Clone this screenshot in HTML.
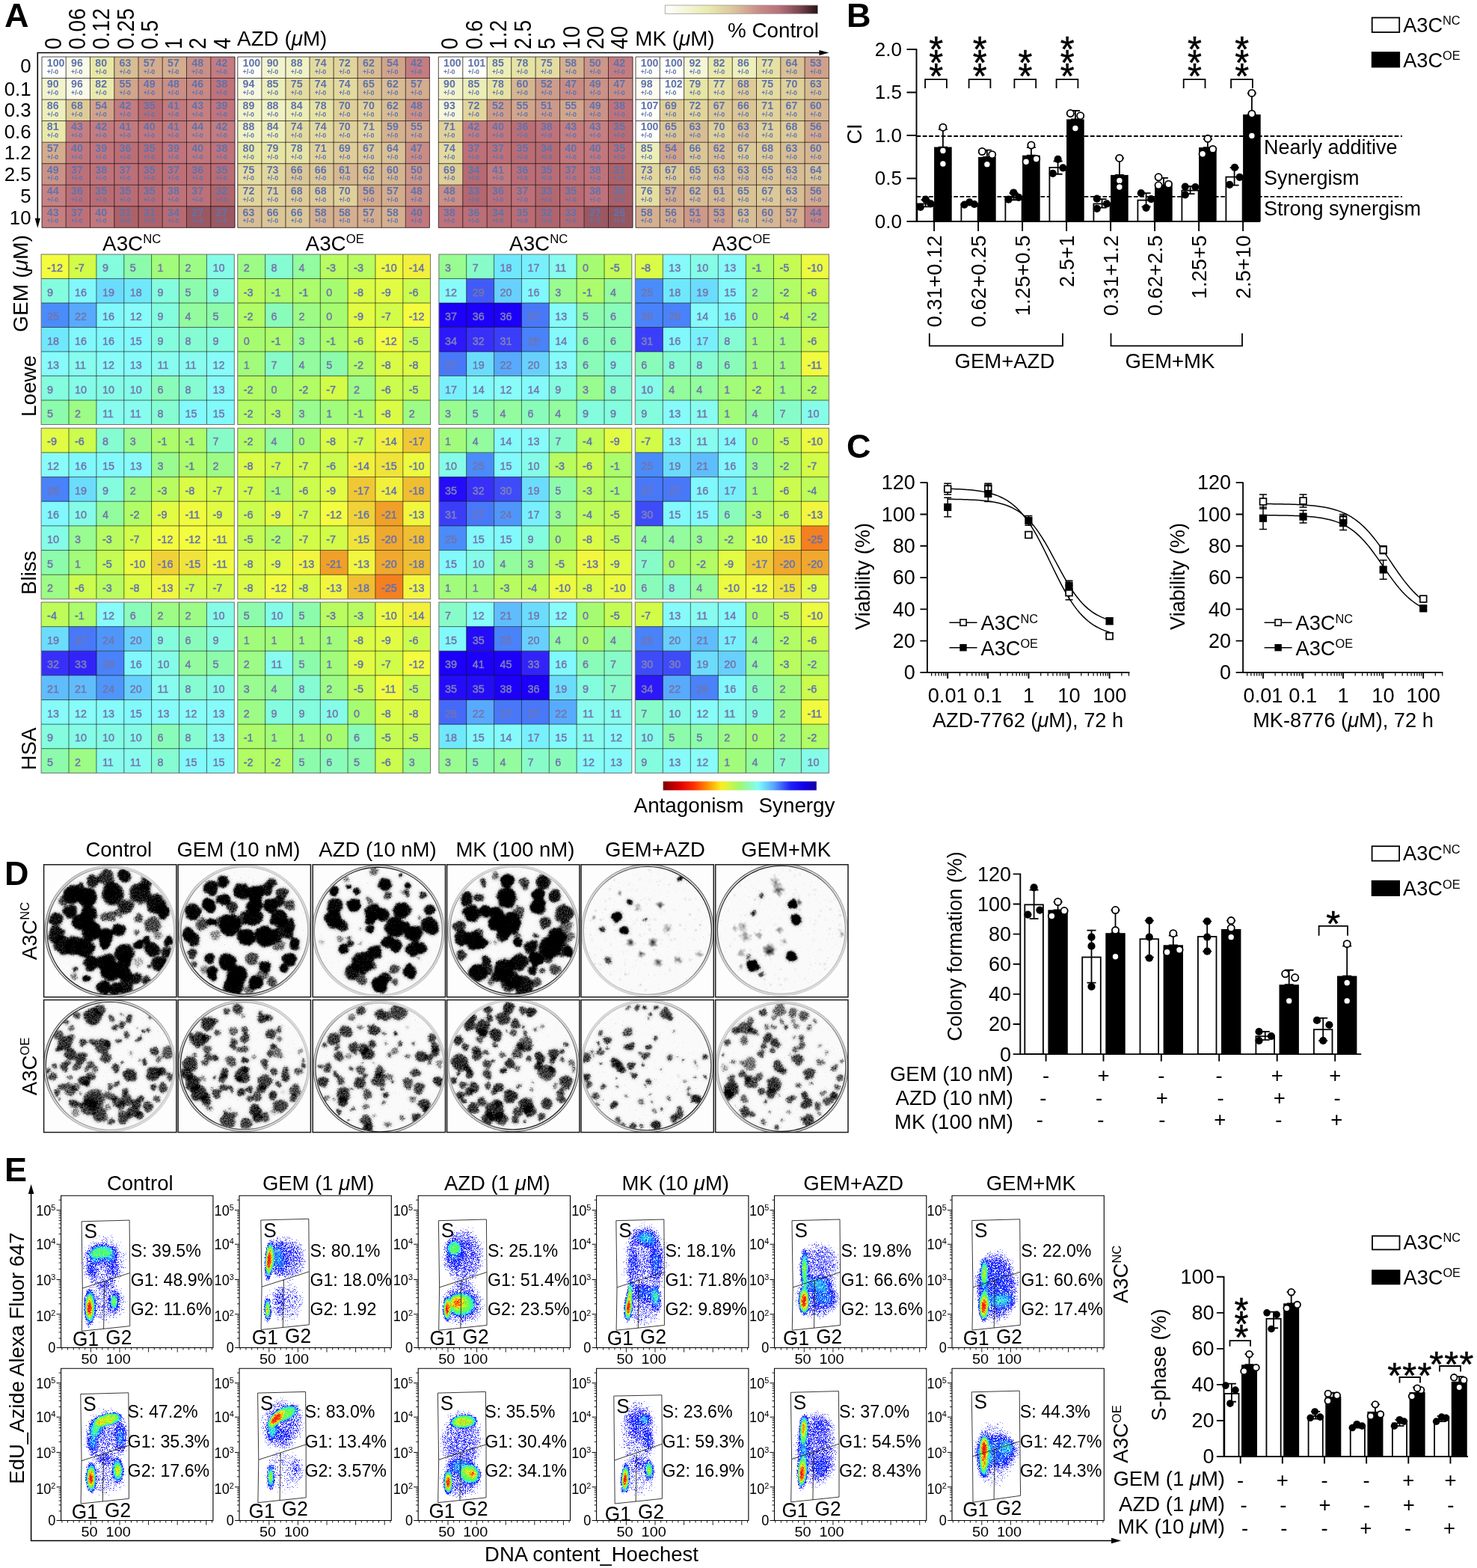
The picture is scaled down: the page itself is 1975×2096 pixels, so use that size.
<!DOCTYPE html>
<html lang="en"><head><meta charset="utf-8"><title>Figure</title>
<style>html,body{margin:0;padding:0;background:#fff}svg{display:block}text{font-family:"Liberation Sans", Arial, sans-serif}</style></head>
<body><svg width="1975" height="2096" viewBox="0 0 1975 2096" fill="#000">
<rect width="1975" height="2096" fill="#fff"/>
<g id="panelA">
<text x="6" y="36.2" font-size="45" font-weight="bold">A</text>
<defs><linearGradient id="cbA" x1="0" x2="1" y1="0" y2="0"><stop offset="0" stop-color="#ffffff"/><stop offset="0.12" stop-color="#f6f7dc"/><stop offset="0.28" stop-color="#e9ebb0"/><stop offset="0.45" stop-color="#dcc49a"/><stop offset="0.62" stop-color="#c88a86"/><stop offset="0.75" stop-color="#b8707a"/><stop offset="0.88" stop-color="#7a4650"/><stop offset="1" stop-color="#2a1218"/></linearGradient><linearGradient id="cbS" x1="0" x2="1" y1="0" y2="0"><stop offset="0" stop-color="#800000"/><stop offset="0.11" stop-color="#e00000"/><stop offset="0.2" stop-color="#ff3000"/><stop offset="0.3" stop-color="#ff9c00"/><stop offset="0.38" stop-color="#f8f020"/><stop offset="0.5" stop-color="#a0f870"/><stop offset="0.62" stop-color="#80fcf8"/><stop offset="0.72" stop-color="#58a8fc"/><stop offset="0.83" stop-color="#2020f8"/><stop offset="0.92" stop-color="#1000e8"/><stop offset="1" stop-color="#1800a0"/></linearGradient></defs>
<rect x="889.3" y="7" width="204.1" height="11.3" fill="url(#cbA)" stroke="#999" stroke-width="0.8"/>
<text x="1095" y="49.7" font-size="27.8" text-anchor="end">% Control</text>
<path d="M50.3 300V70.5H1098" stroke="#000" stroke-width="1.6" fill="none"/>
<path d="M1108.4 70.5l-13 -3.6v7.2z" stroke="none" stroke-width="0" fill="#000"/>
<path d="M50.3 304.8l-3.6 -13h7.2z" stroke="none" stroke-width="0" fill="#000"/>
<text transform="translate(81.83 66) rotate(-90) scale(0.925 1)" font-size="30.5">0</text>
<text transform="translate(114.08 66) rotate(-90) scale(0.925 1)" font-size="30.5">0.06</text>
<text transform="translate(146.32 66) rotate(-90) scale(0.925 1)" font-size="30.5">0.12</text>
<text transform="translate(178.57 66) rotate(-90) scale(0.925 1)" font-size="30.5">0.25</text>
<text transform="translate(210.82 66) rotate(-90) scale(0.925 1)" font-size="30.5">0.5</text>
<text transform="translate(243.07 66) rotate(-90) scale(0.925 1)" font-size="30.5">1</text>
<text transform="translate(275.32 66) rotate(-90) scale(0.925 1)" font-size="30.5">2</text>
<text transform="translate(307.57 66) rotate(-90) scale(0.925 1)" font-size="30.5">4</text>
<text transform="translate(612.23 66) rotate(-90) scale(0.925 1)" font-size="30.5">0</text>
<text transform="translate(644.69 66) rotate(-90) scale(0.925 1)" font-size="30.5">0.6</text>
<text transform="translate(677.16 66) rotate(-90) scale(0.925 1)" font-size="30.5">1.2</text>
<text transform="translate(709.62 66) rotate(-90) scale(0.925 1)" font-size="30.5">2.5</text>
<text transform="translate(742.08 66) rotate(-90) scale(0.925 1)" font-size="30.5">5</text>
<text transform="translate(774.54 66) rotate(-90) scale(0.925 1)" font-size="30.5">10</text>
<text transform="translate(807.01 66) rotate(-90) scale(0.925 1)" font-size="30.5">20</text>
<text transform="translate(839.47 66) rotate(-90) scale(0.925 1)" font-size="30.5">40</text>
<text x="317.1" y="60.9" font-size="27.8">AZD (<tspan font-style="italic">μ</tspan>M)</text>
<text x="849.3" y="60.9" font-size="27.8">MK (<tspan font-style="italic">μ</tspan>M)</text>
<text x="41.5" y="97.1" font-size="25.8" text-anchor="end">0</text>
<text x="41.5" y="127.5" font-size="25.8" text-anchor="end">0.1</text>
<text x="41.5" y="156.4" font-size="25.8" text-anchor="end">0.3</text>
<text x="41.5" y="185.2" font-size="25.8" text-anchor="end">0.6</text>
<text x="41.5" y="213.4" font-size="25.8" text-anchor="end">1.2</text>
<text x="41.5" y="242.2" font-size="25.8" text-anchor="end">2.5</text>
<text x="41.5" y="271" font-size="25.8" text-anchor="end">5</text>
<text x="41.5" y="299.9" font-size="25.8" text-anchor="end">10</text>
<path fill="#fffffa" d="M56 76h32.5v28.8h-32.5zM317.8 76h32.4v28.8h-32.4zM586.3 76h32.8v28.8h-32.8zM618.8 76h32.8v28.8h-32.8zM850 76h32.6v28.8h-32.6zM882.3 76h32.6v28.8h-32.6zM882.3 104.5h32.6v28.8h-32.6zM850 133.1h32.6v28.8h-32.6zM850 161.6h32.6v28.8h-32.6z"/>
<path fill="#fafae8" d="M88.2 76h32.5v28.8h-32.5zM88.2 104.5h32.5v28.8h-32.5z"/>
<path fill="#e8e8a6" d="M120.5 76h32.5v28.8h-32.5zM317.8 190.2h32.4v28.8h-32.4z"/>
<path fill="#d8be94" d="M152.8 76h32.5v28.8h-32.5zM317.8 275.8h32.4v28.8h-32.4zM1076.1 104.5h32.6v28.8h-32.6zM914.6 161.6h32.6v28.8h-32.6zM979.2 161.6h32.6v28.8h-32.6zM1043.8 190.2h32.6v28.8h-32.6zM946.9 218.7h32.6v28.8h-32.6zM979.2 218.7h32.6v28.8h-32.6zM1043.8 218.7h32.6v28.8h-32.6zM1043.8 247.2h32.6v28.8h-32.6zM979.2 275.8h32.6v28.8h-32.6z"/>
<path fill="#d4ac8e" d="M185 76h32.5v28.8h-32.5zM217.2 76h32.5v28.8h-32.5zM56 190.2h32.5v28.8h-32.5zM542.3 104.5h32.4v28.8h-32.4zM510.2 247.2h32.4v28.8h-32.4zM478.2 275.8h32.4v28.8h-32.4zM882.3 247.2h32.6v28.8h-32.6zM1043.8 275.8h32.6v28.8h-32.6z"/>
<path fill="#ca8f86" d="M249.5 76h32.5v28.8h-32.5zM217.2 104.5h32.5v28.8h-32.5zM542.3 133.1h32.4v28.8h-32.4zM542.3 247.2h32.4v28.8h-32.4zM586.3 247.2h32.8v28.8h-32.8z"/>
<path fill="#c47c80" d="M281.8 76h32.5v28.8h-32.5zM152.8 133.1h32.5v28.8h-32.5zM120.5 161.6h32.5v28.8h-32.5zM281.8 161.6h32.5v28.8h-32.5zM542.3 76h32.4v28.8h-32.4zM813.5 76h32.8v28.8h-32.8zM618.8 161.6h32.8v28.8h-32.8z"/>
<path fill="#f2f4ce" d="M56 104.5h32.5v28.8h-32.5zM349.9 76h32.4v28.8h-32.4zM586.3 104.5h32.8v28.8h-32.8z"/>
<path fill="#eaeaad" d="M120.5 104.5h32.5v28.8h-32.5zM946.9 76h32.6v28.8h-32.6z"/>
<path fill="#d2a68c" d="M152.8 104.5h32.5v28.8h-32.5zM542.3 161.6h32.4v28.8h-32.4zM683.7 133.1h32.8v28.8h-32.8zM748.6 133.1h32.8v28.8h-32.8z"/>
<path fill="#cb9287" d="M185 104.5h32.5v28.8h-32.5zM56 218.7h32.5v28.8h-32.5zM781.1 104.5h32.8v28.8h-32.8zM781.1 133.1h32.8v28.8h-32.8z"/>
<path fill="#c88884" d="M249.5 104.5h32.5v28.8h-32.5z"/>
<path fill="#c0727a" d="M281.8 104.5h32.5v28.8h-32.5zM281.8 190.2h32.5v28.8h-32.5zM120.5 218.7h32.5v28.8h-32.5zM217.2 247.2h32.5v28.8h-32.5zM813.5 133.1h32.8v28.8h-32.8zM716.1 161.6h32.8v28.8h-32.8zM781.1 218.7h32.8v28.8h-32.8zM781.1 247.2h32.8v28.8h-32.8zM586.3 275.8h32.8v28.8h-32.8z"/>
<path fill="#edefbc" d="M56 133.1h32.5v28.8h-32.5zM979.2 76h32.6v28.8h-32.6z"/>
<path fill="#decb98" d="M88.2 133.1h32.5v28.8h-32.5zM381.9 247.2h32.4v28.8h-32.4zM414 247.2h32.4v28.8h-32.4zM979.2 104.5h32.6v28.8h-32.6zM1043.8 161.6h32.6v28.8h-32.6zM1011.5 190.2h32.6v28.8h-32.6z"/>
<path fill="#d1a38b" d="M120.5 133.1h32.5v28.8h-32.5zM510.2 76h32.4v28.8h-32.4zM882.3 190.2h32.6v28.8h-32.6z"/>
<path fill="#ba6c74" d="M185 133.1h32.5v28.8h-32.5zM185 190.2h32.5v28.8h-32.5zM185 218.7h32.5v28.8h-32.5zM281.8 218.7h32.5v28.8h-32.5zM120.5 247.2h32.5v28.8h-32.5zM152.8 247.2h32.5v28.8h-32.5zM185 247.2h32.5v28.8h-32.5zM813.5 161.6h32.8v28.8h-32.8zM683.7 190.2h32.8v28.8h-32.8zM813.5 190.2h32.8v28.8h-32.8zM716.1 218.7h32.8v28.8h-32.8zM748.6 247.2h32.8v28.8h-32.8zM683.7 275.8h32.8v28.8h-32.8z"/>
<path fill="#c37a7e" d="M217.2 133.1h32.5v28.8h-32.5zM152.8 161.6h32.5v28.8h-32.5zM217.2 161.6h32.5v28.8h-32.5zM651.2 218.7h32.8v28.8h-32.8z"/>
<path fill="#c57f81" d="M249.5 133.1h32.5v28.8h-32.5zM88.2 161.6h32.5v28.8h-32.5zM56 275.8h32.5v28.8h-32.5zM748.6 161.6h32.8v28.8h-32.8zM781.1 161.6h32.8v28.8h-32.8z"/>
<path fill="#c1747c" d="M281.8 133.1h32.5v28.8h-32.5zM120.5 190.2h32.5v28.8h-32.5zM217.2 190.2h32.5v28.8h-32.5z"/>
<path fill="#e9e9aa" d="M56 161.6h32.5v28.8h-32.5z"/>
<path fill="#c2777d" d="M185 161.6h32.5v28.8h-32.5zM88.2 190.2h32.5v28.8h-32.5zM249.5 190.2h32.5v28.8h-32.5zM120.5 275.8h32.5v28.8h-32.5zM542.3 275.8h32.4v28.8h-32.4zM651.2 161.6h32.8v28.8h-32.8zM748.6 190.2h32.8v28.8h-32.8zM781.1 190.2h32.8v28.8h-32.8z"/>
<path fill="#c68282" d="M249.5 161.6h32.5v28.8h-32.5zM56 247.2h32.5v28.8h-32.5zM1076.1 275.8h32.6v28.8h-32.6z"/>
<path fill="#bc6e76" d="M152.8 190.2h32.5v28.8h-32.5zM249.5 218.7h32.5v28.8h-32.5zM88.2 247.2h32.5v28.8h-32.5zM683.7 161.6h32.8v28.8h-32.8zM683.7 218.7h32.8v28.8h-32.8zM651.2 247.2h32.8v28.8h-32.8zM618.8 275.8h32.8v28.8h-32.8z"/>
<path fill="#be7078" d="M88.2 218.7h32.5v28.8h-32.5zM152.8 218.7h32.5v28.8h-32.5zM217.2 218.7h32.5v28.8h-32.5zM249.5 247.2h32.5v28.8h-32.5zM88.2 275.8h32.5v28.8h-32.5zM618.8 190.2h32.8v28.8h-32.8zM651.2 190.2h32.8v28.8h-32.8zM748.6 218.7h32.8v28.8h-32.8zM683.7 247.2h32.8v28.8h-32.8z"/>
<path fill="#b0656d" d="M281.8 247.2h32.5v28.8h-32.5zM716.1 275.8h32.8v28.8h-32.8z"/>
<path fill="#ad626a" d="M152.8 275.8h32.5v28.8h-32.5zM185 275.8h32.5v28.8h-32.5zM813.5 218.7h32.8v28.8h-32.8z"/>
<path fill="#b76a72" d="M217.2 275.8h32.5v28.8h-32.5zM716.1 190.2h32.8v28.8h-32.8zM618.8 218.7h32.8v28.8h-32.8zM651.2 275.8h32.8v28.8h-32.8z"/>
<path fill="#9b5862" d="M249.5 275.8h32.5v28.8h-32.5zM281.8 275.8h32.5v28.8h-32.5zM781.1 275.8h32.8v28.8h-32.8z"/>
<path fill="#f0f2c5" d="M381.9 76h32.4v28.8h-32.4zM349.9 133.1h32.4v28.8h-32.4zM317.8 161.6h32.4v28.8h-32.4z"/>
<path fill="#e3da9f" d="M414 76h32.4v28.8h-32.4zM414 104.5h32.4v28.8h-32.4zM446.1 104.5h32.4v28.8h-32.4zM381.9 161.6h32.4v28.8h-32.4zM414 161.6h32.4v28.8h-32.4zM586.3 190.2h32.8v28.8h-32.8z"/>
<path fill="#e2d59c" d="M446.1 76h32.4v28.8h-32.4zM317.8 247.2h32.4v28.8h-32.4zM618.8 133.1h32.8v28.8h-32.8zM914.6 133.1h32.6v28.8h-32.6z"/>
<path fill="#d8bc94" d="M478.2 76h32.4v28.8h-32.4zM510.2 104.5h32.4v28.8h-32.4zM510.2 133.1h32.4v28.8h-32.4zM478.2 218.7h32.4v28.8h-32.4zM946.9 190.2h32.6v28.8h-32.6zM914.6 247.2h32.6v28.8h-32.6z"/>
<path fill="#f7f8df" d="M317.8 104.5h32.4v28.8h-32.4z"/>
<path fill="#eceeb8" d="M349.9 104.5h32.4v28.8h-32.4zM651.2 76h32.8v28.8h-32.8zM618.8 104.5h32.8v28.8h-32.8zM850 190.2h32.6v28.8h-32.6z"/>
<path fill="#e4dca0" d="M381.9 104.5h32.4v28.8h-32.4zM317.8 218.7h32.4v28.8h-32.4zM716.1 76h32.8v28.8h-32.8zM1011.5 104.5h32.6v28.8h-32.6z"/>
<path fill="#dac496" d="M478.2 104.5h32.4v28.8h-32.4zM882.3 161.6h32.6v28.8h-32.6zM914.6 218.7h32.6v28.8h-32.6zM1011.5 218.7h32.6v28.8h-32.6zM979.2 247.2h32.6v28.8h-32.6z"/>
<path fill="#f1f3ca" d="M317.8 133.1h32.4v28.8h-32.4z"/>
<path fill="#ebedb4" d="M381.9 133.1h32.4v28.8h-32.4zM349.9 161.6h32.4v28.8h-32.4z"/>
<path fill="#e6e3a4" d="M414 133.1h32.4v28.8h-32.4zM381.9 190.2h32.4v28.8h-32.4zM683.7 76h32.8v28.8h-32.8zM651.2 104.5h32.8v28.8h-32.8z"/>
<path fill="#e0d09a" d="M446.1 133.1h32.4v28.8h-32.4zM478.2 133.1h32.4v28.8h-32.4zM446.1 161.6h32.4v28.8h-32.4zM446.1 247.2h32.4v28.8h-32.4zM1043.8 104.5h32.6v28.8h-32.6zM946.9 161.6h32.6v28.8h-32.6z"/>
<path fill="#e1d29b" d="M478.2 161.6h32.4v28.8h-32.4zM414 190.2h32.4v28.8h-32.4zM349.9 247.2h32.4v28.8h-32.4zM586.3 161.6h32.8v28.8h-32.8zM1011.5 133.1h32.6v28.8h-32.6zM1011.5 161.6h32.6v28.8h-32.6z"/>
<path fill="#d5b391" d="M510.2 161.6h32.4v28.8h-32.4z"/>
<path fill="#e7e6a5" d="M349.9 190.2h32.4v28.8h-32.4zM914.6 104.5h32.6v28.8h-32.6z"/>
<path fill="#dfce99" d="M446.1 190.2h32.4v28.8h-32.4zM586.3 218.7h32.8v28.8h-32.8zM882.3 133.1h32.6v28.8h-32.6z"/>
<path fill="#dcc998" d="M478.2 190.2h32.4v28.8h-32.4zM946.9 133.1h32.6v28.8h-32.6zM1043.8 133.1h32.6v28.8h-32.6zM979.2 190.2h32.6v28.8h-32.6zM882.3 218.7h32.6v28.8h-32.6zM1011.5 247.2h32.6v28.8h-32.6z"/>
<path fill="#d9c195" d="M510.2 190.2h32.4v28.8h-32.4zM1043.8 76h32.6v28.8h-32.6zM1076.1 218.7h32.6v28.8h-32.6z"/>
<path fill="#c98c85" d="M542.3 190.2h32.4v28.8h-32.4zM748.6 104.5h32.8v28.8h-32.8zM813.5 104.5h32.8v28.8h-32.8z"/>
<path fill="#e2d79e" d="M349.9 218.7h32.4v28.8h-32.4zM850 218.7h32.6v28.8h-32.6z"/>
<path fill="#dbc697" d="M381.9 218.7h32.4v28.8h-32.4zM414 218.7h32.4v28.8h-32.4zM349.9 275.8h32.4v28.8h-32.4zM381.9 275.8h32.4v28.8h-32.4zM979.2 133.1h32.6v28.8h-32.6zM914.6 190.2h32.6v28.8h-32.6z"/>
<path fill="#d7b993" d="M446.1 218.7h32.4v28.8h-32.4zM946.9 247.2h32.6v28.8h-32.6z"/>
<path fill="#d6b692" d="M510.2 218.7h32.4v28.8h-32.4zM683.7 104.5h32.8v28.8h-32.8zM1076.1 133.1h32.6v28.8h-32.6zM1076.1 190.2h32.6v28.8h-32.6zM1011.5 275.8h32.6v28.8h-32.6z"/>
<path fill="#cc9688" d="M542.3 218.7h32.4v28.8h-32.4zM781.1 76h32.8v28.8h-32.8z"/>
<path fill="#d3a98d" d="M478.2 247.2h32.4v28.8h-32.4zM1076.1 161.6h32.6v28.8h-32.6zM1076.1 247.2h32.6v28.8h-32.6zM882.3 275.8h32.6v28.8h-32.6z"/>
<path fill="#d4b090" d="M414 275.8h32.4v28.8h-32.4zM446.1 275.8h32.4v28.8h-32.4zM510.2 275.8h32.4v28.8h-32.4zM748.6 76h32.8v28.8h-32.8zM850 275.8h32.6v28.8h-32.6z"/>
<path fill="#ce9c8a" d="M716.1 104.5h32.8v28.8h-32.8zM651.2 133.1h32.8v28.8h-32.8z"/>
<path fill="#f6f7db" d="M586.3 133.1h32.8v28.8h-32.8z"/>
<path fill="#cd9989" d="M716.1 133.1h32.8v28.8h-32.8zM914.6 275.8h32.6v28.8h-32.6z"/>
<path fill="#b4676f" d="M618.8 247.2h32.8v28.8h-32.8zM716.1 247.2h32.8v28.8h-32.8zM748.6 275.8h32.8v28.8h-32.8z"/>
<path fill="#aa6068" d="M813.5 247.2h32.8v28.8h-32.8z"/>
<path fill="#965660" d="M813.5 275.8h32.8v28.8h-32.8z"/>
<path fill="#f5f6d7" d="M914.6 76h32.6v28.8h-32.6z"/>
<path fill="#e6e1a2" d="M1011.5 76h32.6v28.8h-32.6zM946.9 104.5h32.6v28.8h-32.6z"/>
<path fill="#d0a08a" d="M1076.1 76h32.6v28.8h-32.6zM946.9 275.8h32.6v28.8h-32.6z"/>
<path fill="#fcfcf1" d="M850 104.5h32.6v28.8h-32.6z"/>
<path fill="#e5dea1" d="M850 247.2h32.6v28.8h-32.6z"/>
<path d="M56 76V304.3M88.2 76V304.3M120.5 76V304.3M152.8 76V304.3M185 76V304.3M217.2 76V304.3M249.5 76V304.3M281.8 76V304.3M314 76V304.3M56 76H314M56 104.5H314M56 133.1H314M56 161.6H314M56 190.2H314M56 218.7H314M56 247.2H314M56 275.8H314M56 304.3H314M317.8 76V304.3M349.9 76V304.3M381.9 76V304.3M414 76V304.3M446.1 76V304.3M478.2 76V304.3M510.2 76V304.3M542.3 76V304.3M574.4 76V304.3M317.8 76H574.4M317.8 104.5H574.4M317.8 133.1H574.4M317.8 161.6H574.4M317.8 190.2H574.4M317.8 218.7H574.4M317.8 247.2H574.4M317.8 275.8H574.4M317.8 304.3H574.4M586.3 76V304.3M618.8 76V304.3M651.2 76V304.3M683.7 76V304.3M716.1 76V304.3M748.6 76V304.3M781.1 76V304.3M813.5 76V304.3M846 76V304.3M586.3 76H846M586.3 104.5H846M586.3 133.1H846M586.3 161.6H846M586.3 190.2H846M586.3 218.7H846M586.3 247.2H846M586.3 275.8H846M586.3 304.3H846M850 76V304.3M882.3 76V304.3M914.6 76V304.3M946.9 76V304.3M979.2 76V304.3M1011.5 76V304.3M1043.8 76V304.3M1076.1 76V304.3M1108.4 76V304.3M850 76H1108.4M850 104.5H1108.4M850 133.1H1108.4M850 161.6H1108.4M850 190.2H1108.4M850 218.7H1108.4M850 247.2H1108.4M850 275.8H1108.4M850 304.3H1108.4" stroke="#1a1010" stroke-width="0.9" fill="none" stroke-opacity="0.85"/>
<g font-weight="bold" font-size="14.2" fill="#5f73ad">
<text y="88.8"><tspan x="62.8">100</tspan><tspan x="95">96</tspan><tspan x="127.3">80</tspan><tspan x="159.6">63</tspan><tspan x="191.8">57</tspan><tspan x="224.1">57</tspan><tspan x="256.3">48</tspan><tspan x="288.6">42</tspan></text>
<text y="98.5" font-size="8.8"><tspan x="62.8">+/-0</tspan><tspan x="95">+/-0</tspan><tspan x="127.3">+/-0</tspan><tspan x="159.6">+/-0</tspan><tspan x="191.8">+/-0</tspan><tspan x="224.1">+/-0</tspan><tspan x="256.3">+/-0</tspan><tspan x="288.6">+/-0</tspan></text>
<text y="117.3"><tspan x="62.8">90</tspan><tspan x="95">96</tspan><tspan x="127.3">82</tspan><tspan x="159.6">55</tspan><tspan x="191.8">49</tspan><tspan x="224.1">48</tspan><tspan x="256.3">46</tspan><tspan x="288.6">38</tspan></text>
<text y="127" font-size="8.8"><tspan x="62.8">+/-0</tspan><tspan x="95">+/-0</tspan><tspan x="127.3">+/-0</tspan><tspan x="159.6">+/-0</tspan><tspan x="191.8">+/-0</tspan><tspan x="224.1">+/-0</tspan><tspan x="256.3">+/-0</tspan><tspan x="288.6">+/-0</tspan></text>
<text y="145.9"><tspan x="62.8">86</tspan><tspan x="95">68</tspan><tspan x="127.3">54</tspan><tspan x="159.6">42</tspan><tspan x="191.8">35</tspan><tspan x="224.1">41</tspan><tspan x="256.3">43</tspan><tspan x="288.6">39</tspan></text>
<text y="155.6" font-size="8.8"><tspan x="62.8">+/-0</tspan><tspan x="95">+/-0</tspan><tspan x="127.3">+/-0</tspan><tspan x="159.6">+/-0</tspan><tspan x="191.8">+/-0</tspan><tspan x="224.1">+/-0</tspan><tspan x="256.3">+/-0</tspan><tspan x="288.6">+/-0</tspan></text>
<text y="174.4"><tspan x="62.8">81</tspan><tspan x="95">43</tspan><tspan x="127.3">42</tspan><tspan x="159.6">41</tspan><tspan x="191.8">40</tspan><tspan x="224.1">41</tspan><tspan x="256.3">44</tspan><tspan x="288.6">42</tspan></text>
<text y="184.1" font-size="8.8"><tspan x="62.8">+/-0</tspan><tspan x="95">+/-0</tspan><tspan x="127.3">+/-0</tspan><tspan x="159.6">+/-0</tspan><tspan x="191.8">+/-0</tspan><tspan x="224.1">+/-0</tspan><tspan x="256.3">+/-0</tspan><tspan x="288.6">+/-0</tspan></text>
<text y="203"><tspan x="62.8">57</tspan><tspan x="95">40</tspan><tspan x="127.3">39</tspan><tspan x="159.6">36</tspan><tspan x="191.8">35</tspan><tspan x="224.1">39</tspan><tspan x="256.3">40</tspan><tspan x="288.6">38</tspan></text>
<text y="212.7" font-size="8.8"><tspan x="62.8">+/-0</tspan><tspan x="95">+/-0</tspan><tspan x="127.3">+/-0</tspan><tspan x="159.6">+/-0</tspan><tspan x="191.8">+/-0</tspan><tspan x="224.1">+/-0</tspan><tspan x="256.3">+/-0</tspan><tspan x="288.6">+/-0</tspan></text>
<text y="231.5"><tspan x="62.8">49</tspan><tspan x="95">37</tspan><tspan x="127.3">38</tspan><tspan x="159.6">37</tspan><tspan x="191.8">35</tspan><tspan x="224.1">37</tspan><tspan x="256.3">36</tspan><tspan x="288.6">35</tspan></text>
<text y="241.2" font-size="8.8"><tspan x="62.8">+/-0</tspan><tspan x="95">+/-0</tspan><tspan x="127.3">+/-0</tspan><tspan x="159.6">+/-0</tspan><tspan x="191.8">+/-0</tspan><tspan x="224.1">+/-0</tspan><tspan x="256.3">+/-0</tspan><tspan x="288.6">+/-0</tspan></text>
<text y="260"><tspan x="62.8">44</tspan><tspan x="95">36</tspan><tspan x="127.3">35</tspan><tspan x="159.6">35</tspan><tspan x="191.8">35</tspan><tspan x="224.1">38</tspan><tspan x="256.3">37</tspan><tspan x="288.6">32</tspan></text>
<text y="269.7" font-size="8.8"><tspan x="62.8">+/-0</tspan><tspan x="95">+/-0</tspan><tspan x="127.3">+/-0</tspan><tspan x="159.6">+/-0</tspan><tspan x="191.8">+/-0</tspan><tspan x="224.1">+/-0</tspan><tspan x="256.3">+/-0</tspan><tspan x="288.6">+/-0</tspan></text>
<text y="288.6"><tspan x="62.8">43</tspan><tspan x="95">37</tspan><tspan x="127.3">40</tspan><tspan x="159.6">31</tspan><tspan x="191.8">31</tspan><tspan x="224.1">34</tspan><tspan x="256.3">27</tspan><tspan x="288.6">27</tspan></text>
<text y="298.3" font-size="8.8"><tspan x="62.8">+/-0</tspan><tspan x="95">+/-0</tspan><tspan x="127.3">+/-0</tspan><tspan x="159.6">+/-0</tspan><tspan x="191.8">+/-0</tspan><tspan x="224.1">+/-0</tspan><tspan x="256.3">+/-0</tspan><tspan x="288.6">+/-0</tspan></text>
<text y="88.8"><tspan x="324.6">100</tspan><tspan x="356.7">90</tspan><tspan x="388.8">88</tspan><tspan x="420.8">74</tspan><tspan x="452.9">72</tspan><tspan x="485">62</tspan><tspan x="517">54</tspan><tspan x="549.1">42</tspan></text>
<text y="98.5" font-size="8.8"><tspan x="324.6">+/-0</tspan><tspan x="356.7">+/-0</tspan><tspan x="388.8">+/-0</tspan><tspan x="420.8">+/-0</tspan><tspan x="452.9">+/-0</tspan><tspan x="485">+/-0</tspan><tspan x="517">+/-0</tspan><tspan x="549.1">+/-0</tspan></text>
<text y="117.3"><tspan x="324.6">94</tspan><tspan x="356.7">85</tspan><tspan x="388.8">75</tspan><tspan x="420.8">74</tspan><tspan x="452.9">74</tspan><tspan x="485">65</tspan><tspan x="517">62</tspan><tspan x="549.1">57</tspan></text>
<text y="127" font-size="8.8"><tspan x="324.6">+/-0</tspan><tspan x="356.7">+/-0</tspan><tspan x="388.8">+/-0</tspan><tspan x="420.8">+/-0</tspan><tspan x="452.9">+/-0</tspan><tspan x="485">+/-0</tspan><tspan x="517">+/-0</tspan><tspan x="549.1">+/-0</tspan></text>
<text y="145.9"><tspan x="324.6">89</tspan><tspan x="356.7">88</tspan><tspan x="388.8">84</tspan><tspan x="420.8">78</tspan><tspan x="452.9">70</tspan><tspan x="485">70</tspan><tspan x="517">62</tspan><tspan x="549.1">48</tspan></text>
<text y="155.6" font-size="8.8"><tspan x="324.6">+/-0</tspan><tspan x="356.7">+/-0</tspan><tspan x="388.8">+/-0</tspan><tspan x="420.8">+/-0</tspan><tspan x="452.9">+/-0</tspan><tspan x="485">+/-0</tspan><tspan x="517">+/-0</tspan><tspan x="549.1">+/-0</tspan></text>
<text y="174.4"><tspan x="324.6">88</tspan><tspan x="356.7">84</tspan><tspan x="388.8">74</tspan><tspan x="420.8">74</tspan><tspan x="452.9">70</tspan><tspan x="485">71</tspan><tspan x="517">59</tspan><tspan x="549.1">55</tspan></text>
<text y="184.1" font-size="8.8"><tspan x="324.6">+/-0</tspan><tspan x="356.7">+/-0</tspan><tspan x="388.8">+/-0</tspan><tspan x="420.8">+/-0</tspan><tspan x="452.9">+/-0</tspan><tspan x="485">+/-0</tspan><tspan x="517">+/-0</tspan><tspan x="549.1">+/-0</tspan></text>
<text y="203"><tspan x="324.6">80</tspan><tspan x="356.7">79</tspan><tspan x="388.8">78</tspan><tspan x="420.8">71</tspan><tspan x="452.9">69</tspan><tspan x="485">67</tspan><tspan x="517">64</tspan><tspan x="549.1">47</tspan></text>
<text y="212.7" font-size="8.8"><tspan x="324.6">+/-0</tspan><tspan x="356.7">+/-0</tspan><tspan x="388.8">+/-0</tspan><tspan x="420.8">+/-0</tspan><tspan x="452.9">+/-0</tspan><tspan x="485">+/-0</tspan><tspan x="517">+/-0</tspan><tspan x="549.1">+/-0</tspan></text>
<text y="231.5"><tspan x="324.6">75</tspan><tspan x="356.7">73</tspan><tspan x="388.8">66</tspan><tspan x="420.8">66</tspan><tspan x="452.9">61</tspan><tspan x="485">62</tspan><tspan x="517">60</tspan><tspan x="549.1">50</tspan></text>
<text y="241.2" font-size="8.8"><tspan x="324.6">+/-0</tspan><tspan x="356.7">+/-0</tspan><tspan x="388.8">+/-0</tspan><tspan x="420.8">+/-0</tspan><tspan x="452.9">+/-0</tspan><tspan x="485">+/-0</tspan><tspan x="517">+/-0</tspan><tspan x="549.1">+/-0</tspan></text>
<text y="260"><tspan x="324.6">72</tspan><tspan x="356.7">71</tspan><tspan x="388.8">68</tspan><tspan x="420.8">68</tspan><tspan x="452.9">70</tspan><tspan x="485">56</tspan><tspan x="517">57</tspan><tspan x="549.1">48</tspan></text>
<text y="269.7" font-size="8.8"><tspan x="324.6">+/-0</tspan><tspan x="356.7">+/-0</tspan><tspan x="388.8">+/-0</tspan><tspan x="420.8">+/-0</tspan><tspan x="452.9">+/-0</tspan><tspan x="485">+/-0</tspan><tspan x="517">+/-0</tspan><tspan x="549.1">+/-0</tspan></text>
<text y="288.6"><tspan x="324.6">63</tspan><tspan x="356.7">66</tspan><tspan x="388.8">66</tspan><tspan x="420.8">58</tspan><tspan x="452.9">58</tspan><tspan x="485">57</tspan><tspan x="517">58</tspan><tspan x="549.1">40</tspan></text>
<text y="298.3" font-size="8.8"><tspan x="324.6">+/-0</tspan><tspan x="356.7">+/-0</tspan><tspan x="388.8">+/-0</tspan><tspan x="420.8">+/-0</tspan><tspan x="452.9">+/-0</tspan><tspan x="485">+/-0</tspan><tspan x="517">+/-0</tspan><tspan x="549.1">+/-0</tspan></text>
<text y="88.8"><tspan x="593.1">100</tspan><tspan x="625.6">101</tspan><tspan x="658">85</tspan><tspan x="690.5">78</tspan><tspan x="722.9">75</tspan><tspan x="755.4">58</tspan><tspan x="787.9">50</tspan><tspan x="820.3">42</tspan></text>
<text y="98.5" font-size="8.8"><tspan x="593.1">+/-0</tspan><tspan x="625.6">+/-0</tspan><tspan x="658">+/-0</tspan><tspan x="690.5">+/-0</tspan><tspan x="722.9">+/-0</tspan><tspan x="755.4">+/-0</tspan><tspan x="787.9">+/-0</tspan><tspan x="820.3">+/-0</tspan></text>
<text y="117.3"><tspan x="593.1">90</tspan><tspan x="625.6">85</tspan><tspan x="658">78</tspan><tspan x="690.5">60</tspan><tspan x="722.9">52</tspan><tspan x="755.4">47</tspan><tspan x="787.9">49</tspan><tspan x="820.3">47</tspan></text>
<text y="127" font-size="8.8"><tspan x="593.1">+/-0</tspan><tspan x="625.6">+/-0</tspan><tspan x="658">+/-0</tspan><tspan x="690.5">+/-0</tspan><tspan x="722.9">+/-0</tspan><tspan x="755.4">+/-0</tspan><tspan x="787.9">+/-0</tspan><tspan x="820.3">+/-0</tspan></text>
<text y="145.9"><tspan x="593.1">93</tspan><tspan x="625.6">72</tspan><tspan x="658">52</tspan><tspan x="690.5">55</tspan><tspan x="722.9">51</tspan><tspan x="755.4">55</tspan><tspan x="787.9">49</tspan><tspan x="820.3">38</tspan></text>
<text y="155.6" font-size="8.8"><tspan x="593.1">+/-0</tspan><tspan x="625.6">+/-0</tspan><tspan x="658">+/-0</tspan><tspan x="690.5">+/-0</tspan><tspan x="722.9">+/-0</tspan><tspan x="755.4">+/-0</tspan><tspan x="787.9">+/-0</tspan><tspan x="820.3">+/-0</tspan></text>
<text y="174.4"><tspan x="593.1">71</tspan><tspan x="625.6">42</tspan><tspan x="658">40</tspan><tspan x="690.5">36</tspan><tspan x="722.9">38</tspan><tspan x="755.4">43</tspan><tspan x="787.9">43</tspan><tspan x="820.3">35</tspan></text>
<text y="184.1" font-size="8.8"><tspan x="593.1">+/-0</tspan><tspan x="625.6">+/-0</tspan><tspan x="658">+/-0</tspan><tspan x="690.5">+/-0</tspan><tspan x="722.9">+/-0</tspan><tspan x="755.4">+/-0</tspan><tspan x="787.9">+/-0</tspan><tspan x="820.3">+/-0</tspan></text>
<text y="203"><tspan x="593.1">74</tspan><tspan x="625.6">37</tspan><tspan x="658">37</tspan><tspan x="690.5">35</tspan><tspan x="722.9">34</tspan><tspan x="755.4">40</tspan><tspan x="787.9">40</tspan><tspan x="820.3">35</tspan></text>
<text y="212.7" font-size="8.8"><tspan x="593.1">+/-0</tspan><tspan x="625.6">+/-0</tspan><tspan x="658">+/-0</tspan><tspan x="690.5">+/-0</tspan><tspan x="722.9">+/-0</tspan><tspan x="755.4">+/-0</tspan><tspan x="787.9">+/-0</tspan><tspan x="820.3">+/-0</tspan></text>
<text y="231.5"><tspan x="593.1">69</tspan><tspan x="625.6">34</tspan><tspan x="658">41</tspan><tspan x="690.5">36</tspan><tspan x="722.9">35</tspan><tspan x="755.4">37</tspan><tspan x="787.9">38</tspan><tspan x="820.3">31</tspan></text>
<text y="241.2" font-size="8.8"><tspan x="593.1">+/-0</tspan><tspan x="625.6">+/-0</tspan><tspan x="658">+/-0</tspan><tspan x="690.5">+/-0</tspan><tspan x="722.9">+/-0</tspan><tspan x="755.4">+/-0</tspan><tspan x="787.9">+/-0</tspan><tspan x="820.3">+/-0</tspan></text>
<text y="260"><tspan x="593.1">48</tspan><tspan x="625.6">33</tspan><tspan x="658">36</tspan><tspan x="690.5">37</tspan><tspan x="722.9">33</tspan><tspan x="755.4">35</tspan><tspan x="787.9">38</tspan><tspan x="820.3">30</tspan></text>
<text y="269.7" font-size="8.8"><tspan x="593.1">+/-0</tspan><tspan x="625.6">+/-0</tspan><tspan x="658">+/-0</tspan><tspan x="690.5">+/-0</tspan><tspan x="722.9">+/-0</tspan><tspan x="755.4">+/-0</tspan><tspan x="787.9">+/-0</tspan><tspan x="820.3">+/-0</tspan></text>
<text y="288.6"><tspan x="593.1">38</tspan><tspan x="625.6">36</tspan><tspan x="658">34</tspan><tspan x="690.5">35</tspan><tspan x="722.9">32</tspan><tspan x="755.4">33</tspan><tspan x="787.9">27</tspan><tspan x="820.3">26</tspan></text>
<text y="298.3" font-size="8.8"><tspan x="593.1">+/-0</tspan><tspan x="625.6">+/-0</tspan><tspan x="658">+/-0</tspan><tspan x="690.5">+/-0</tspan><tspan x="722.9">+/-0</tspan><tspan x="755.4">+/-0</tspan><tspan x="787.9">+/-0</tspan><tspan x="820.3">+/-0</tspan></text>
<text y="88.8"><tspan x="856.8">100</tspan><tspan x="889.1">100</tspan><tspan x="921.4">92</tspan><tspan x="953.7">82</tspan><tspan x="986">86</tspan><tspan x="1018.3">77</tspan><tspan x="1050.6">64</tspan><tspan x="1082.9">53</tspan></text>
<text y="98.5" font-size="8.8"><tspan x="856.8">+/-0</tspan><tspan x="889.1">+/-0</tspan><tspan x="921.4">+/-0</tspan><tspan x="953.7">+/-0</tspan><tspan x="986">+/-0</tspan><tspan x="1018.3">+/-0</tspan><tspan x="1050.6">+/-0</tspan><tspan x="1082.9">+/-0</tspan></text>
<text y="117.3"><tspan x="856.8">98</tspan><tspan x="889.1">102</tspan><tspan x="921.4">79</tspan><tspan x="953.7">77</tspan><tspan x="986">68</tspan><tspan x="1018.3">75</tspan><tspan x="1050.6">70</tspan><tspan x="1082.9">63</tspan></text>
<text y="127" font-size="8.8"><tspan x="856.8">+/-0</tspan><tspan x="889.1">+/-0</tspan><tspan x="921.4">+/-0</tspan><tspan x="953.7">+/-0</tspan><tspan x="986">+/-0</tspan><tspan x="1018.3">+/-0</tspan><tspan x="1050.6">+/-0</tspan><tspan x="1082.9">+/-0</tspan></text>
<text y="145.9"><tspan x="856.8">107</tspan><tspan x="889.1">69</tspan><tspan x="921.4">72</tspan><tspan x="953.7">67</tspan><tspan x="986">66</tspan><tspan x="1018.3">71</tspan><tspan x="1050.6">67</tspan><tspan x="1082.9">60</tspan></text>
<text y="155.6" font-size="8.8"><tspan x="856.8">+/-0</tspan><tspan x="889.1">+/-0</tspan><tspan x="921.4">+/-0</tspan><tspan x="953.7">+/-0</tspan><tspan x="986">+/-0</tspan><tspan x="1018.3">+/-0</tspan><tspan x="1050.6">+/-0</tspan><tspan x="1082.9">+/-0</tspan></text>
<text y="174.4"><tspan x="856.8">100</tspan><tspan x="889.1">65</tspan><tspan x="921.4">63</tspan><tspan x="953.7">70</tspan><tspan x="986">63</tspan><tspan x="1018.3">71</tspan><tspan x="1050.6">68</tspan><tspan x="1082.9">56</tspan></text>
<text y="184.1" font-size="8.8"><tspan x="856.8">+/-0</tspan><tspan x="889.1">+/-0</tspan><tspan x="921.4">+/-0</tspan><tspan x="953.7">+/-0</tspan><tspan x="986">+/-0</tspan><tspan x="1018.3">+/-0</tspan><tspan x="1050.6">+/-0</tspan><tspan x="1082.9">+/-0</tspan></text>
<text y="203"><tspan x="856.8">85</tspan><tspan x="889.1">54</tspan><tspan x="921.4">66</tspan><tspan x="953.7">62</tspan><tspan x="986">67</tspan><tspan x="1018.3">68</tspan><tspan x="1050.6">63</tspan><tspan x="1082.9">60</tspan></text>
<text y="212.7" font-size="8.8"><tspan x="856.8">+/-0</tspan><tspan x="889.1">+/-0</tspan><tspan x="921.4">+/-0</tspan><tspan x="953.7">+/-0</tspan><tspan x="986">+/-0</tspan><tspan x="1018.3">+/-0</tspan><tspan x="1050.6">+/-0</tspan><tspan x="1082.9">+/-0</tspan></text>
<text y="231.5"><tspan x="856.8">73</tspan><tspan x="889.1">67</tspan><tspan x="921.4">65</tspan><tspan x="953.7">63</tspan><tspan x="986">63</tspan><tspan x="1018.3">65</tspan><tspan x="1050.6">63</tspan><tspan x="1082.9">64</tspan></text>
<text y="241.2" font-size="8.8"><tspan x="856.8">+/-0</tspan><tspan x="889.1">+/-0</tspan><tspan x="921.4">+/-0</tspan><tspan x="953.7">+/-0</tspan><tspan x="986">+/-0</tspan><tspan x="1018.3">+/-0</tspan><tspan x="1050.6">+/-0</tspan><tspan x="1082.9">+/-0</tspan></text>
<text y="260"><tspan x="856.8">76</tspan><tspan x="889.1">57</tspan><tspan x="921.4">62</tspan><tspan x="953.7">61</tspan><tspan x="986">65</tspan><tspan x="1018.3">67</tspan><tspan x="1050.6">63</tspan><tspan x="1082.9">56</tspan></text>
<text y="269.7" font-size="8.8"><tspan x="856.8">+/-0</tspan><tspan x="889.1">+/-0</tspan><tspan x="921.4">+/-0</tspan><tspan x="953.7">+/-0</tspan><tspan x="986">+/-0</tspan><tspan x="1018.3">+/-0</tspan><tspan x="1050.6">+/-0</tspan><tspan x="1082.9">+/-0</tspan></text>
<text y="288.6"><tspan x="856.8">58</tspan><tspan x="889.1">56</tspan><tspan x="921.4">51</tspan><tspan x="953.7">53</tspan><tspan x="986">63</tspan><tspan x="1018.3">60</tspan><tspan x="1050.6">57</tspan><tspan x="1082.9">44</tspan></text>
<text y="298.3" font-size="8.8"><tspan x="856.8">+/-0</tspan><tspan x="889.1">+/-0</tspan><tspan x="921.4">+/-0</tspan><tspan x="953.7">+/-0</tspan><tspan x="986">+/-0</tspan><tspan x="1018.3">+/-0</tspan><tspan x="1050.6">+/-0</tspan><tspan x="1082.9">+/-0</tspan></text>
</g>
<text x="176.2" y="334.8" font-size="27.8" text-anchor="middle">A3C<tspan dy="-10.01" font-size="16.68">NC</tspan></text>
<text x="447.7" y="334.8" font-size="27.8" text-anchor="middle">A3C<tspan dy="-10.01" font-size="16.68">OE</tspan></text>
<text x="720.2" y="334.8" font-size="27.8" text-anchor="middle">A3C<tspan dy="-10.01" font-size="16.68">NC</tspan></text>
<text x="991.3" y="334.8" font-size="27.8" text-anchor="middle">A3C<tspan dy="-10.01" font-size="16.68">OE</tspan></text>
<text font-size="28.2" text-anchor="middle" transform="translate(36.6 379) rotate(-90)">GEM (<tspan font-style="italic">μ</tspan>M)</text>
<text font-size="27.8" text-anchor="middle" transform="translate(48 516) rotate(-90)">Loewe</text>
<text font-size="27.8" text-anchor="middle" transform="translate(48 765.7) rotate(-90)">Bliss</text>
<text font-size="27.8" text-anchor="middle" transform="translate(48 1001) rotate(-90)">HSA</text>
<path fill="#f4fc40" d="M55.1 340h37.2v32.8h-37.2zM538.8 405h37.1v32.8h-37.1zM501.9 437.5h37.1v32.8h-37.1zM202.6 702.9h37.2v32.9h-37.2zM239.5 702.9h37.2v32.9h-37.2zM428.3 670.2h37.1v32.9h-37.1zM354.6 768.2h37.1v32.9h-37.1zM538.8 870.2h37.1v32.9h-37.1zM997.4 768.2h37.3v32.9h-37.3z"/>
<path fill="#d2fc48" d="M92 340h37.2v32.8h-37.2zM501.9 405h37.1v32.8h-37.1zM428.3 502.5h37.1v32.8h-37.1zM276.4 637.6h37.2v32.9h-37.2zM165.8 702.9h37.2v32.9h-37.2zM239.5 768.2h37.2v32.9h-37.2zM276.4 768.2h37.2v32.9h-37.2zM465.1 572.3h37.1v32.9h-37.1zM354.6 604.9h37.1v32.9h-37.1zM391.5 604.9h37.1v32.9h-37.1zM317.8 637.6h37.1v32.9h-37.1zM391.5 670.2h37.1v32.9h-37.1zM391.5 702.9h37.1v32.9h-37.1zM428.3 702.9h37.1v32.9h-37.1zM501.9 870.2h37.1v32.9h-37.1zM849.3 572.3h37.3v32.9h-37.3zM1071.4 604.9h37.3v32.9h-37.3zM849.3 805h37.3v32.9h-37.3z"/>
<path fill="#84fcde" d="M128.9 340h37.2v32.8h-37.2zM55.1 372.5h37.2v32.8h-37.2zM202.6 372.5h37.2v32.8h-37.2zM276.4 372.5h37.2v32.8h-37.2zM202.6 405h37.2v32.8h-37.2zM202.6 437.5h37.2v32.8h-37.2zM276.4 437.5h37.2v32.8h-37.2zM55.1 502.5h37.2v32.8h-37.2zM128.9 637.6h37.2v32.9h-37.2zM202.6 837.6h37.2v32.9h-37.2zM276.4 837.6h37.2v32.9h-37.2zM55.1 968.1h37.2v32.9h-37.2zM354.6 935.5h37.1v32.9h-37.1zM391.5 935.5h37.1v32.9h-37.1zM808 470h37.1v32.8h-37.1zM734.3 502.5h37.1v32.8h-37.1zM771.1 535h37.1v32.8h-37.1zM808 535h37.1v32.8h-37.1zM849.3 535h37.3v32.8h-37.3zM697.4 702.9h37.1v32.9h-37.1zM771.1 902.8h37.1v32.9h-37.1zM997.4 935.5h37.3v32.9h-37.3zM849.3 1000.7h37.3v32.9h-37.3z"/>
<path fill="#8cfcac" d="M165.8 340h37.2v32.8h-37.2zM239.5 372.5h37.2v32.8h-37.2zM276.4 405h37.2v32.8h-37.2zM55.1 535h37.2v32.8h-37.2zM428.3 470h37.1v32.8h-37.1zM55.1 735.5h37.2v32.9h-37.2zM276.4 870.2h37.2v32.9h-37.2zM55.1 1000.7h37.2v32.9h-37.2zM317.8 805h37.1v32.9h-37.1zM391.5 805h37.1v32.9h-37.1zM391.5 870.2h37.1v32.9h-37.1zM391.5 1000.7h37.1v32.9h-37.1zM465.1 1000.7h37.1v32.9h-37.1zM771.1 405h37.1v32.8h-37.1zM623.7 535h37.1v32.8h-37.1zM734.3 637.6h37.1v32.9h-37.1zM623.7 1000.7h37.1v32.9h-37.1zM886.3 968.1h37.3v32.9h-37.3zM923.3 968.1h37.3v32.9h-37.3z"/>
<path fill="#a1fc7b" d="M202.6 340h37.2v32.8h-37.2zM317.8 470h37.1v32.8h-37.1zM428.3 535h37.1v32.8h-37.1zM92 735.5h37.2v32.9h-37.2zM317.8 837.6h37.1v32.9h-37.1zM354.6 837.6h37.1v32.9h-37.1zM391.5 837.6h37.1v32.9h-37.1zM428.3 837.6h37.1v32.9h-37.1zM428.3 870.2h37.1v32.9h-37.1zM354.6 968.1h37.1v32.9h-37.1zM391.5 968.1h37.1v32.9h-37.1zM997.4 437.5h37.3v32.8h-37.3zM1034.4 437.5h37.3v32.8h-37.3zM997.4 470h37.3v32.8h-37.3zM1034.4 470h37.3v32.8h-37.3zM960.3 502.5h37.3v32.8h-37.3zM1034.4 502.5h37.3v32.8h-37.3zM960.3 535h37.3v32.8h-37.3zM586.9 572.3h37.1v32.9h-37.1zM586.9 768.2h37.1v32.9h-37.1zM623.7 768.2h37.1v32.9h-37.1zM997.4 637.6h37.3v32.9h-37.3zM960.3 1000.7h37.3v32.9h-37.3z"/>
<path fill="#9dfc85" d="M239.5 340h37.2v32.8h-37.2zM92 535h37.2v32.8h-37.2zM317.8 340h37.1v32.8h-37.1zM391.5 405h37.1v32.8h-37.1zM465.1 502.5h37.1v32.8h-37.1zM538.8 535h37.1v32.8h-37.1zM276.4 604.9h37.2v32.9h-37.2zM165.8 637.6h37.2v32.9h-37.2zM55.1 768.2h37.2v32.9h-37.2zM202.6 805h37.2v32.9h-37.2zM239.5 805h37.2v32.9h-37.2zM92 1000.7h37.2v32.9h-37.2zM317.8 870.2h37.1v32.9h-37.1zM428.3 902.8h37.1v32.9h-37.1zM317.8 935.5h37.1v32.9h-37.1zM997.4 372.5h37.3v32.8h-37.3zM1034.4 902.8h37.3v32.9h-37.3zM1034.4 935.5h37.3v32.9h-37.3zM960.3 968.1h37.3v32.9h-37.3zM1034.4 968.1h37.3v32.9h-37.3z"/>
<path fill="#85fce7" d="M276.4 340h37.2v32.8h-37.2zM92 502.5h37.2v32.8h-37.2zM128.9 502.5h37.2v32.8h-37.2zM165.8 502.5h37.2v32.8h-37.2zM92 670.2h37.2v32.9h-37.2zM55.1 702.9h37.2v32.9h-37.2zM276.4 805h37.2v32.9h-37.2zM202.6 870.2h37.2v32.9h-37.2zM276.4 902.8h37.2v32.9h-37.2zM92 968.1h37.2v32.9h-37.2zM128.9 968.1h37.2v32.9h-37.2zM165.8 968.1h37.2v32.9h-37.2zM354.6 805h37.1v32.9h-37.1zM428.3 935.5h37.1v32.9h-37.1zM923.3 340h37.3v32.8h-37.3zM849.3 502.5h37.3v32.8h-37.3zM1071.4 535h37.3v32.8h-37.3zM586.9 604.9h37.1v32.9h-37.1zM697.4 604.9h37.1v32.9h-37.1zM623.7 735.5h37.1v32.9h-37.1zM886.3 935.5h37.3v32.9h-37.3zM849.3 968.1h37.3v32.9h-37.3zM1071.4 1000.7h37.3v32.9h-37.3z"/>
<path fill="#80f8fc" d="M92 372.5h37.2v32.8h-37.2zM128.9 405h37.2v32.8h-37.2zM92 437.5h37.2v32.8h-37.2zM128.9 437.5h37.2v32.8h-37.2zM92 604.9h37.2v32.9h-37.2zM55.1 670.2h37.2v32.9h-37.2zM165.8 870.2h37.2v32.9h-37.2zM697.4 372.5h37.1v32.8h-37.1zM960.3 405h37.3v32.8h-37.3zM886.3 437.5h37.3v32.8h-37.3zM960.3 604.9h37.3v32.9h-37.3zM923.3 637.6h37.3v32.9h-37.3zM734.3 870.2h37.1v32.9h-37.1zM960.3 902.8h37.3v32.9h-37.3z"/>
<path fill="#6cdcfc" d="M128.9 372.5h37.2v32.8h-37.2zM92 637.6h37.2v32.9h-37.2zM55.1 837.6h37.2v32.9h-37.2zM623.7 470h37.1v32.8h-37.1zM923.3 372.5h37.3v32.8h-37.3zM697.4 637.6h37.1v32.9h-37.1zM886.3 604.9h37.3v32.9h-37.3zM697.4 805h37.1v32.9h-37.1zM734.3 902.8h37.1v32.9h-37.1zM923.3 870.2h37.3v32.9h-37.3z"/>
<path fill="#70e8fc" d="M165.8 372.5h37.2v32.8h-37.2zM55.1 437.5h37.2v32.8h-37.2zM660.6 340h37.1v32.8h-37.1zM886.3 372.5h37.3v32.8h-37.3zM586.9 968.1h37.1v32.9h-37.1z"/>
<path fill="#4a8cfa" d="M55.1 405h37.2v32.8h-37.2zM849.3 372.5h37.3v32.8h-37.3zM623.7 604.9h37.1v32.9h-37.1zM586.9 702.9h37.1v32.9h-37.1zM849.3 604.9h37.3v32.9h-37.3z"/>
<path fill="#58aafc" d="M92 405h37.2v32.8h-37.2zM660.6 470h37.1v32.8h-37.1zM623.7 935.5h37.1v32.9h-37.1zM734.3 935.5h37.1v32.9h-37.1zM886.3 902.8h37.3v32.9h-37.3z"/>
<path fill="#88fcf8" d="M165.8 405h37.2v32.8h-37.2zM128.9 470h37.2v32.8h-37.2zM276.4 470h37.2v32.8h-37.2zM55.1 604.9h37.2v32.9h-37.2zM128.9 805h37.2v32.9h-37.2zM92 935.5h37.2v32.9h-37.2zM239.5 935.5h37.2v32.9h-37.2zM586.9 372.5h37.1v32.8h-37.1zM660.6 502.5h37.1v32.8h-37.1zM623.7 805h37.1v32.9h-37.1zM734.3 805h37.1v32.9h-37.1zM808 968.1h37.1v32.9h-37.1zM771.1 1000.7h37.1v32.9h-37.1zM923.3 935.5h37.3v32.9h-37.3zM923.3 1000.7h37.3v32.9h-37.3z"/>
<path fill="#92fc9e" d="M239.5 405h37.2v32.8h-37.2zM391.5 340h37.1v32.8h-37.1zM391.5 470h37.1v32.8h-37.1zM128.9 670.2h37.2v32.9h-37.2zM354.6 572.3h37.1v32.9h-37.1zM239.5 870.2h37.2v32.9h-37.2zM354.6 902.8h37.1v32.9h-37.1zM808 372.5h37.1v32.8h-37.1zM660.6 535h37.1v32.8h-37.1zM734.3 535h37.1v32.8h-37.1zM886.3 502.5h37.3v32.8h-37.3zM923.3 502.5h37.3v32.8h-37.3zM997.4 535h37.3v32.8h-37.3zM623.7 572.3h37.1v32.9h-37.1zM660.6 735.5h37.1v32.9h-37.1zM849.3 702.9h37.3v32.9h-37.3zM886.3 702.9h37.3v32.9h-37.3zM923.3 768.2h37.3v32.9h-37.3zM734.3 837.6h37.1v32.9h-37.1zM808 837.6h37.1v32.9h-37.1zM660.6 1000.7h37.1v32.9h-37.1zM997.4 837.6h37.3v32.9h-37.3zM997.4 870.2h37.3v32.9h-37.3zM997.4 1000.7h37.3v32.9h-37.3z"/>
<path fill="#82f9fb" d="M165.8 437.5h37.2v32.8h-37.2zM239.5 535h37.2v32.8h-37.2zM276.4 535h37.2v32.8h-37.2zM128.9 604.9h37.2v32.9h-37.2zM165.8 935.5h37.2v32.9h-37.2zM239.5 1000.7h37.2v32.9h-37.2zM276.4 1000.7h37.2v32.9h-37.2zM960.3 372.5h37.3v32.8h-37.3zM660.6 604.9h37.1v32.9h-37.1zM623.7 702.9h37.1v32.9h-37.1zM660.6 702.9h37.1v32.9h-37.1zM586.9 735.5h37.1v32.9h-37.1zM886.3 670.2h37.3v32.9h-37.3zM923.3 670.2h37.3v32.9h-37.3zM586.9 837.6h37.1v32.9h-37.1zM623.7 968.1h37.1v32.9h-37.1zM734.3 968.1h37.1v32.9h-37.1z"/>
<path fill="#86fcd3" d="M239.5 437.5h37.2v32.8h-37.2zM239.5 502.5h37.2v32.8h-37.2zM202.6 535h37.2v32.8h-37.2zM354.6 340h37.1v32.8h-37.1zM128.9 572.3h37.2v32.9h-37.2zM239.5 902.8h37.2v32.9h-37.2zM239.5 968.1h37.2v32.9h-37.2zM202.6 1000.7h37.2v32.9h-37.2zM391.5 902.8h37.1v32.9h-37.1zM808 502.5h37.1v32.8h-37.1zM960.3 437.5h37.3v32.8h-37.3zM886.3 470h37.3v32.8h-37.3zM923.3 470h37.3v32.8h-37.3zM886.3 768.2h37.3v32.9h-37.3z"/>
<path fill="#86fbf9" d="M55.1 470h37.2v32.8h-37.2zM165.8 470h37.2v32.8h-37.2zM276.4 502.5h37.2v32.8h-37.2zM165.8 604.9h37.2v32.9h-37.2zM55.1 935.5h37.2v32.9h-37.2zM128.9 935.5h37.2v32.9h-37.2zM202.6 935.5h37.2v32.9h-37.2zM276.4 935.5h37.2v32.9h-37.2zM276.4 968.1h37.2v32.9h-37.2zM734.3 405h37.1v32.8h-37.1zM734.3 470h37.1v32.8h-37.1zM886.3 340h37.3v32.8h-37.3zM960.3 340h37.3v32.8h-37.3zM886.3 535h37.3v32.8h-37.3zM697.4 572.3h37.1v32.9h-37.1zM886.3 572.3h37.3v32.9h-37.3zM808 1000.7h37.1v32.9h-37.1zM886.3 805h37.3v32.9h-37.3zM886.3 1000.7h37.3v32.9h-37.3z"/>
<path fill="#87fcef" d="M92 470h37.2v32.8h-37.2zM202.6 470h37.2v32.8h-37.2zM239.5 470h37.2v32.8h-37.2zM128.9 535h37.2v32.8h-37.2zM165.8 535h37.2v32.8h-37.2zM202.6 902.8h37.2v32.9h-37.2zM128.9 1000.7h37.2v32.9h-37.2zM165.8 1000.7h37.2v32.9h-37.2zM354.6 870.2h37.1v32.9h-37.1zM734.3 340h37.1v32.8h-37.1zM923.3 535h37.3v32.8h-37.3zM923.3 572.3h37.3v32.9h-37.3zM771.1 935.5h37.1v32.9h-37.1zM808 935.5h37.1v32.9h-37.1zM771.1 968.1h37.1v32.9h-37.1zM923.3 805h37.3v32.9h-37.3zM960.3 935.5h37.3v32.9h-37.3z"/>
<path fill="#8afcba" d="M202.6 502.5h37.2v32.8h-37.2zM354.6 405h37.1v32.8h-37.1zM165.8 805h37.2v32.9h-37.2zM239.5 837.6h37.2v32.9h-37.2zM202.6 968.1h37.2v32.9h-37.2zM465.1 968.1h37.1v32.9h-37.1zM428.3 1000.7h37.1v32.9h-37.1zM808 405h37.1v32.8h-37.1zM771.1 437.5h37.1v32.8h-37.1zM808 437.5h37.1v32.8h-37.1zM771.1 470h37.1v32.8h-37.1zM697.4 535h37.1v32.8h-37.1zM849.3 470h37.3v32.8h-37.3zM960.3 470h37.3v32.8h-37.3zM960.3 670.2h37.3v32.9h-37.3zM849.3 768.2h37.3v32.9h-37.3zM771.1 870.2h37.1v32.9h-37.1zM734.3 1000.7h37.1v32.9h-37.1zM997.4 902.8h37.3v32.9h-37.3z"/>
<path fill="#b8fc60" d="M428.3 340h37.1v32.8h-37.1zM465.1 340h37.1v32.8h-37.1zM317.8 372.5h37.1v32.8h-37.1zM354.6 535h37.1v32.8h-37.1zM202.6 637.6h37.2v32.9h-37.2zM128.9 702.9h37.2v32.9h-37.2zM128.9 768.2h37.2v32.9h-37.2zM428.3 805h37.1v32.9h-37.1zM465.1 805h37.1v32.9h-37.1zM734.3 604.9h37.1v32.9h-37.1zM771.1 637.6h37.1v32.9h-37.1zM660.6 768.2h37.1v32.9h-37.1zM997.4 670.2h37.3v32.9h-37.3zM1034.4 870.2h37.3v32.9h-37.3z"/>
<path fill="#ecfa40" d="M501.9 340h37.1v32.8h-37.1zM165.8 735.5h37.2v32.9h-37.2zM538.8 604.9h37.1v32.9h-37.1zM501.9 805h37.1v32.9h-37.1zM1071.4 340h37.3v32.8h-37.3zM734.3 768.2h37.1v32.9h-37.1zM808 768.2h37.1v32.9h-37.1zM1071.4 572.3h37.3v32.9h-37.3zM997.4 702.9h37.3v32.9h-37.3zM960.3 768.2h37.3v32.9h-37.3zM1071.4 805h37.3v32.9h-37.3z"/>
<path fill="#f2f03c" d="M538.8 340h37.1v32.8h-37.1zM501.9 572.3h37.1v32.9h-37.1zM465.1 604.9h37.1v32.9h-37.1zM501.9 637.6h37.1v32.9h-37.1zM538.8 805h37.1v32.9h-37.1z"/>
<path fill="#acfc6b" d="M354.6 372.5h37.1v32.8h-37.1zM391.5 372.5h37.1v32.8h-37.1zM354.6 437.5h37.1v32.8h-37.1zM428.3 437.5h37.1v32.8h-37.1zM465.1 535h37.1v32.8h-37.1zM202.6 572.3h37.2v32.9h-37.2zM239.5 572.3h37.2v32.9h-37.2zM239.5 604.9h37.2v32.9h-37.2zM354.6 637.6h37.1v32.9h-37.1zM92 805h37.2v32.9h-37.2zM317.8 968.1h37.1v32.9h-37.1zM771.1 372.5h37.1v32.8h-37.1zM997.4 340h37.3v32.8h-37.3zM808 604.9h37.1v32.9h-37.1zM808 637.6h37.1v32.9h-37.1z"/>
<path fill="#a6fc70" d="M428.3 372.5h37.1v32.8h-37.1zM428.3 405h37.1v32.8h-37.1zM317.8 437.5h37.1v32.8h-37.1zM354.6 502.5h37.1v32.8h-37.1zM391.5 572.3h37.1v32.9h-37.1zM465.1 935.5h37.1v32.9h-37.1zM428.3 968.1h37.1v32.9h-37.1zM771.1 340h37.1v32.8h-37.1zM997.4 405h37.3v32.8h-37.3zM734.3 702.9h37.1v32.9h-37.1zM997.4 572.3h37.3v32.9h-37.3zM886.3 735.5h37.3v32.9h-37.3zM771.1 805h37.1v32.9h-37.1zM771.1 837.6h37.1v32.9h-37.1zM997.4 805h37.3v32.9h-37.3zM997.4 968.1h37.3v32.9h-37.3z"/>
<path fill="#dafc46" d="M465.1 372.5h37.1v32.8h-37.1zM501.9 470h37.1v32.8h-37.1zM538.8 470h37.1v32.8h-37.1zM501.9 535h37.1v32.8h-37.1zM239.5 637.6h37.2v32.9h-37.2zM165.8 768.2h37.2v32.9h-37.2zM428.3 572.3h37.1v32.9h-37.1zM317.8 604.9h37.1v32.9h-37.1zM317.8 735.5h37.1v32.9h-37.1zM317.8 768.2h37.1v32.9h-37.1zM391.5 768.2h37.1v32.9h-37.1zM465.1 837.6h37.1v32.9h-37.1zM501.9 935.5h37.1v32.9h-37.1zM538.8 935.5h37.1v32.9h-37.1zM849.3 340h37.3v32.8h-37.3zM771.1 702.9h37.1v32.9h-37.1zM771.1 768.2h37.1v32.9h-37.1z"/>
<path fill="#e2fc44" d="M501.9 372.5h37.1v32.8h-37.1zM465.1 405h37.1v32.8h-37.1zM55.1 572.3h37.2v32.9h-37.2zM202.6 670.2h37.2v32.9h-37.2zM276.4 670.2h37.2v32.9h-37.2zM428.3 637.6h37.1v32.9h-37.1zM354.6 670.2h37.1v32.9h-37.1zM354.6 735.5h37.1v32.9h-37.1zM501.9 837.6h37.1v32.9h-37.1zM465.1 870.2h37.1v32.9h-37.1zM808 572.3h37.1v32.9h-37.1zM808 735.5h37.1v32.9h-37.1zM960.3 735.5h37.3v32.9h-37.3zM1071.4 768.2h37.3v32.9h-37.3z"/>
<path fill="#cbfc4e" d="M538.8 372.5h37.1v32.8h-37.1zM465.1 437.5h37.1v32.8h-37.1zM501.9 502.5h37.1v32.8h-37.1zM92 572.3h37.2v32.9h-37.2zM92 768.2h37.2v32.9h-37.2zM428.3 604.9h37.1v32.9h-37.1zM391.5 637.6h37.1v32.9h-37.1zM317.8 670.2h37.1v32.9h-37.1zM538.8 837.6h37.1v32.9h-37.1zM501.9 1000.7h37.1v32.9h-37.1zM1071.4 372.5h37.3v32.8h-37.3zM1071.4 437.5h37.3v32.8h-37.3zM771.1 604.9h37.1v32.9h-37.1zM1034.4 637.6h37.3v32.9h-37.3zM1034.4 670.2h37.3v32.9h-37.3zM1071.4 837.6h37.3v32.9h-37.3zM1071.4 902.8h37.3v32.9h-37.3z"/>
<path fill="#b2fc65" d="M317.8 405h37.1v32.8h-37.1zM465.1 470h37.1v32.8h-37.1zM317.8 502.5h37.1v32.8h-37.1zM391.5 502.5h37.1v32.8h-37.1zM317.8 535h37.1v32.8h-37.1zM165.8 670.2h37.2v32.9h-37.2zM317.8 572.3h37.1v32.9h-37.1zM354.6 702.9h37.1v32.9h-37.1zM317.8 1000.7h37.1v32.9h-37.1zM354.6 1000.7h37.1v32.9h-37.1zM1034.4 372.5h37.3v32.8h-37.3zM1071.4 405h37.3v32.8h-37.3zM997.4 502.5h37.3v32.8h-37.3zM1071.4 502.5h37.3v32.8h-37.3zM1034.4 604.9h37.3v32.9h-37.3zM960.3 702.9h37.3v32.9h-37.3zM923.3 735.5h37.3v32.9h-37.3zM1034.4 837.6h37.3v32.9h-37.3zM1071.4 870.2h37.3v32.9h-37.3zM1071.4 968.1h37.3v32.9h-37.3z"/>
<path fill="#98fc90" d="M391.5 437.5h37.1v32.8h-37.1zM391.5 535h37.1v32.8h-37.1zM165.8 572.3h37.2v32.9h-37.2zM202.6 604.9h37.2v32.9h-37.2zM92 702.9h37.2v32.9h-37.2zM317.8 902.8h37.1v32.9h-37.1zM538.8 1000.7h37.1v32.9h-37.1zM586.9 340h37.1v32.8h-37.1zM734.3 372.5h37.1v32.8h-37.1zM771.1 502.5h37.1v32.8h-37.1zM586.9 535h37.1v32.8h-37.1zM734.3 670.2h37.1v32.9h-37.1zM697.4 735.5h37.1v32.9h-37.1zM997.4 604.9h37.3v32.9h-37.3zM923.3 702.9h37.3v32.9h-37.3zM586.9 1000.7h37.1v32.9h-37.1z"/>
<path fill="#c4fc54" d="M538.8 437.5h37.1v32.8h-37.1zM538.8 502.5h37.1v32.8h-37.1zM128.9 735.5h37.2v32.9h-37.2zM317.8 702.9h37.1v32.9h-37.1zM465.1 902.8h37.1v32.9h-37.1zM538.8 902.8h37.1v32.9h-37.1zM501.9 968.1h37.1v32.9h-37.1zM538.8 968.1h37.1v32.9h-37.1zM808 340h37.1v32.8h-37.1zM1034.4 340h37.3v32.8h-37.3zM808 670.2h37.1v32.9h-37.1zM808 702.9h37.1v32.9h-37.1zM734.3 735.5h37.1v32.9h-37.1zM1034.4 572.3h37.3v32.9h-37.3zM808 805h37.1v32.9h-37.1zM1034.4 805h37.3v32.9h-37.3z"/>
<path fill="#88fcc8" d="M354.6 470h37.1v32.8h-37.1zM276.4 572.3h37.2v32.9h-37.2zM623.7 340h37.1v32.8h-37.1zM1034.4 535h37.3v32.8h-37.3zM734.3 572.3h37.1v32.9h-37.1zM849.3 735.5h37.3v32.9h-37.3zM586.9 805h37.1v32.9h-37.1zM808 870.2h37.1v32.9h-37.1zM808 902.8h37.1v32.9h-37.1zM697.4 1000.7h37.1v32.9h-37.1zM849.3 935.5h37.3v32.9h-37.3zM1034.4 1000.7h37.3v32.9h-37.3z"/>
<path fill="#4982f9" d="M55.1 637.6h37.2v32.9h-37.2zM128.9 870.2h37.2v32.9h-37.2zM697.4 437.5h37.1v32.8h-37.1zM849.3 405h37.3v32.8h-37.3zM886.3 405h37.3v32.8h-37.3zM660.6 837.6h37.1v32.9h-37.1zM849.3 837.6h37.3v32.9h-37.3zM923.3 902.8h37.3v32.9h-37.3z"/>
<path fill="#f0fb40" d="M239.5 670.2h37.2v32.9h-37.2zM276.4 702.9h37.2v32.9h-37.2zM276.4 735.5h37.2v32.9h-37.2zM501.9 902.8h37.1v32.9h-37.1zM1071.4 470h37.3v32.8h-37.3zM1071.4 935.5h37.3v32.9h-37.3z"/>
<path fill="#f0d238" d="M202.6 735.5h37.2v32.9h-37.2zM465.1 670.2h37.1v32.9h-37.1z"/>
<path fill="#f0e43a" d="M239.5 735.5h37.2v32.9h-37.2zM501.9 604.9h37.1v32.9h-37.1zM465.1 702.9h37.1v32.9h-37.1zM1034.4 702.9h37.3v32.9h-37.3zM1034.4 768.2h37.3v32.9h-37.3z"/>
<path fill="#f3f63e" d="M202.6 768.2h37.2v32.9h-37.2zM538.8 670.2h37.1v32.9h-37.1zM391.5 735.5h37.1v32.9h-37.1zM465.1 735.5h37.1v32.9h-37.1zM428.3 768.2h37.1v32.9h-37.1zM538.8 768.2h37.1v32.9h-37.1zM771.1 735.5h37.1v32.9h-37.1zM1071.4 670.2h37.3v32.9h-37.3z"/>
<path fill="#f0c835" d="M538.8 572.3h37.1v32.9h-37.1zM465.1 637.6h37.1v32.9h-37.1zM997.4 735.5h37.3v32.9h-37.3z"/>
<path fill="#f0be32" d="M538.8 637.6h37.1v32.9h-37.1zM538.8 702.9h37.1v32.9h-37.1zM538.8 735.5h37.1v32.9h-37.1zM465.1 768.2h37.1v32.9h-37.1z"/>
<path fill="#f0a028" d="M501.9 670.2h37.1v32.9h-37.1zM428.3 735.5h37.1v32.9h-37.1z"/>
<path fill="#f0a82e" d="M501.9 702.9h37.1v32.9h-37.1zM501.9 735.5h37.1v32.9h-37.1zM1034.4 735.5h37.3v32.9h-37.3zM1071.4 735.5h37.3v32.9h-37.3z"/>
<path fill="#f48020" d="M501.9 768.2h37.1v32.9h-37.1zM1071.4 702.9h37.3v32.9h-37.3z"/>
<path fill="#befc5a" d="M55.1 805h37.2v32.9h-37.2zM1034.4 405h37.3v32.8h-37.3zM771.1 572.3h37.1v32.9h-37.1zM771.1 670.2h37.1v32.9h-37.1zM697.4 768.2h37.1v32.9h-37.1zM1071.4 637.6h37.3v32.9h-37.3z"/>
<path fill="#4878f8" d="M92 837.6h37.2v32.9h-37.2zM697.4 405h37.1v32.8h-37.1zM586.9 470h37.1v32.8h-37.1zM623.7 670.2h37.1v32.9h-37.1zM849.3 637.6h37.3v32.9h-37.3zM886.3 637.6h37.3v32.9h-37.3zM660.6 935.5h37.1v32.9h-37.1zM697.4 935.5h37.1v32.9h-37.1z"/>
<path fill="#4f96fb" d="M128.9 837.6h37.2v32.9h-37.2zM128.9 902.8h37.2v32.9h-37.2zM660.6 670.2h37.1v32.9h-37.1z"/>
<path fill="#68d0fc" d="M165.8 837.6h37.2v32.9h-37.2zM165.8 902.8h37.2v32.9h-37.2zM660.6 372.5h37.1v32.8h-37.1zM697.4 470h37.1v32.8h-37.1zM697.4 837.6h37.1v32.9h-37.1zM886.3 837.6h37.3v32.9h-37.3zM960.3 870.2h37.3v32.9h-37.3z"/>
<path fill="#3830f8" d="M55.1 870.2h37.2v32.9h-37.2zM623.7 437.5h37.1v32.8h-37.1zM623.7 637.6h37.1v32.9h-37.1z"/>
<path fill="#3224f8" d="M92 870.2h37.2v32.9h-37.2zM697.4 870.2h37.1v32.9h-37.1z"/>
<path fill="#60bdfc" d="M55.1 902.8h37.2v32.9h-37.2zM92 902.8h37.2v32.9h-37.2zM923.3 604.9h37.3v32.9h-37.3zM660.6 805h37.1v32.9h-37.1zM923.3 837.6h37.3v32.9h-37.3z"/>
<path fill="#78f0fc" d="M697.4 340h37.1v32.8h-37.1zM586.9 502.5h37.1v32.8h-37.1zM923.3 437.5h37.3v32.8h-37.3zM697.4 670.2h37.1v32.9h-37.1zM960.3 637.6h37.3v32.9h-37.3zM697.4 968.1h37.1v32.9h-37.1zM960.3 837.6h37.3v32.9h-37.3z"/>
<path fill="#415bf8" d="M623.7 372.5h37.1v32.8h-37.1z"/>
<path fill="#1c00f8" d="M586.9 405h37.1v32.8h-37.1zM623.7 405h37.1v32.8h-37.1zM660.6 405h37.1v32.8h-37.1zM586.9 870.2h37.1v32.9h-37.1zM623.7 870.2h37.1v32.9h-37.1zM660.6 870.2h37.1v32.9h-37.1zM660.6 902.8h37.1v32.9h-37.1zM697.4 902.8h37.1v32.9h-37.1z"/>
<path fill="#2c18f8" d="M586.9 437.5h37.1v32.8h-37.1zM849.3 902.8h37.3v32.9h-37.3z"/>
<path fill="#3b3ef8" d="M660.6 437.5h37.1v32.8h-37.1zM849.3 437.5h37.3v32.8h-37.3zM586.9 670.2h37.1v32.9h-37.1z"/>
<path fill="#84fafa" d="M734.3 437.5h37.1v32.8h-37.1zM623.7 502.5h37.1v32.8h-37.1zM697.4 502.5h37.1v32.8h-37.1zM923.3 405h37.3v32.8h-37.3zM660.6 572.3h37.1v32.9h-37.1zM960.3 572.3h37.3v32.9h-37.3zM660.6 968.1h37.1v32.9h-37.1zM960.3 805h37.3v32.9h-37.3z"/>
<path fill="#240cf8" d="M586.9 637.6h37.1v32.9h-37.1zM623.7 837.6h37.1v32.9h-37.1zM586.9 902.8h37.1v32.9h-37.1zM623.7 902.8h37.1v32.9h-37.1z"/>
<path fill="#3e4cf8" d="M660.6 637.6h37.1v32.9h-37.1zM849.3 670.2h37.3v32.9h-37.3zM849.3 870.2h37.3v32.9h-37.3zM886.3 870.2h37.3v32.9h-37.3z"/>
<path fill="#4569f8" d="M586.9 935.5h37.1v32.9h-37.1z"/>
<path d="M92 340V567.5M128.9 340V567.5M165.8 340V567.5M202.6 340V567.5M239.5 340V567.5M276.4 340V567.5M55.1 372.5H313.3M55.1 405H313.3M55.1 437.5H313.3M55.1 470H313.3M55.1 502.5H313.3M55.1 535H313.3M354.6 340V567.5M391.5 340V567.5M428.3 340V567.5M465.1 340V567.5M501.9 340V567.5M538.8 340V567.5M317.8 372.5H575.6M317.8 405H575.6M317.8 437.5H575.6M317.8 470H575.6M317.8 502.5H575.6M317.8 535H575.6M92 572.3V800.8M128.9 572.3V800.8M165.8 572.3V800.8M202.6 572.3V800.8M239.5 572.3V800.8M276.4 572.3V800.8M55.1 604.9H313.3M55.1 637.6H313.3M55.1 670.2H313.3M55.1 702.9H313.3M55.1 735.5H313.3M55.1 768.2H313.3M354.6 572.3V800.8M391.5 572.3V800.8M428.3 572.3V800.8M465.1 572.3V800.8M501.9 572.3V800.8M538.8 572.3V800.8M317.8 604.9H575.6M317.8 637.6H575.6M317.8 670.2H575.6M317.8 702.9H575.6M317.8 735.5H575.6M317.8 768.2H575.6M92 805V1033.3M128.9 805V1033.3M165.8 805V1033.3M202.6 805V1033.3M239.5 805V1033.3M276.4 805V1033.3M55.1 837.6H313.3M55.1 870.2H313.3M55.1 902.8H313.3M55.1 935.5H313.3M55.1 968.1H313.3M55.1 1000.7H313.3M354.6 805V1033.3M391.5 805V1033.3M428.3 805V1033.3M465.1 805V1033.3M501.9 805V1033.3M538.8 805V1033.3M317.8 837.6H575.6M317.8 870.2H575.6M317.8 902.8H575.6M317.8 935.5H575.6M317.8 968.1H575.6M317.8 1000.7H575.6M623.7 340V567.5M660.6 340V567.5M697.4 340V567.5M734.3 340V567.5M771.1 340V567.5M808 340V567.5M586.9 372.5H844.8M586.9 405H844.8M586.9 437.5H844.8M586.9 470H844.8M586.9 502.5H844.8M586.9 535H844.8M886.3 340V567.5M923.3 340V567.5M960.3 340V567.5M997.4 340V567.5M1034.4 340V567.5M1071.4 340V567.5M849.3 372.5H1108.4M849.3 405H1108.4M849.3 437.5H1108.4M849.3 470H1108.4M849.3 502.5H1108.4M849.3 535H1108.4M623.7 572.3V800.8M660.6 572.3V800.8M697.4 572.3V800.8M734.3 572.3V800.8M771.1 572.3V800.8M808 572.3V800.8M586.9 604.9H844.8M586.9 637.6H844.8M586.9 670.2H844.8M586.9 702.9H844.8M586.9 735.5H844.8M586.9 768.2H844.8M886.3 572.3V800.8M923.3 572.3V800.8M960.3 572.3V800.8M997.4 572.3V800.8M1034.4 572.3V800.8M1071.4 572.3V800.8M849.3 604.9H1108.4M849.3 637.6H1108.4M849.3 670.2H1108.4M849.3 702.9H1108.4M849.3 735.5H1108.4M849.3 768.2H1108.4M623.7 805V1033.3M660.6 805V1033.3M697.4 805V1033.3M734.3 805V1033.3M771.1 805V1033.3M808 805V1033.3M586.9 837.6H844.8M586.9 870.2H844.8M586.9 902.8H844.8M586.9 935.5H844.8M586.9 968.1H844.8M586.9 1000.7H844.8M886.3 805V1033.3M923.3 805V1033.3M960.3 805V1033.3M997.4 805V1033.3M1034.4 805V1033.3M1071.4 805V1033.3M849.3 837.6H1108.4M849.3 870.2H1108.4M849.3 902.8H1108.4M849.3 935.5H1108.4M849.3 968.1H1108.4M849.3 1000.7H1108.4" stroke="#101810" stroke-width="0.8" fill="none" stroke-opacity="0.8"/>
<rect x="55.1" y="340" width="258.2" height="227.5" fill="none" stroke="#707070" stroke-width="1"/>
<rect x="317.8" y="340" width="257.8" height="227.5" fill="none" stroke="#707070" stroke-width="1"/>
<rect x="55.1" y="572.3" width="258.2" height="228.5" fill="none" stroke="#707070" stroke-width="1"/>
<rect x="317.8" y="572.3" width="257.8" height="228.5" fill="none" stroke="#707070" stroke-width="1"/>
<rect x="55.1" y="805" width="258.2" height="228.3" fill="none" stroke="#707070" stroke-width="1"/>
<rect x="317.8" y="805" width="257.8" height="228.3" fill="none" stroke="#707070" stroke-width="1"/>
<rect x="586.9" y="340" width="257.9" height="227.5" fill="none" stroke="#707070" stroke-width="1"/>
<rect x="849.3" y="340" width="259.1" height="227.5" fill="none" stroke="#707070" stroke-width="1"/>
<rect x="586.9" y="572.3" width="257.9" height="228.5" fill="none" stroke="#707070" stroke-width="1"/>
<rect x="849.3" y="572.3" width="259.1" height="228.5" fill="none" stroke="#707070" stroke-width="1"/>
<rect x="586.9" y="805" width="257.9" height="228.3" fill="none" stroke="#707070" stroke-width="1"/>
<rect x="849.3" y="805" width="259.1" height="228.3" fill="none" stroke="#707070" stroke-width="1"/>
<g font-size="14.4" stroke-width="0.45">
<text y="363" fill="#6272b2" stroke="#6272b2"><tspan x="63.1">-12</tspan><tspan x="100">-7</tspan><tspan x="436.3">-3</tspan><tspan x="473.1">-3</tspan><tspan x="509.9">-10</tspan><tspan x="546.8">-14</tspan><tspan x="816">-5</tspan><tspan x="857.3">-8</tspan><tspan x="1005.4">-1</tspan><tspan x="1042.4">-5</tspan><tspan x="1079.4">-10</tspan></text>
<text y="363" fill="#7474ac" stroke="#7474ac"><tspan x="136.9">9</tspan><tspan x="173.8">5</tspan><tspan x="210.6">1</tspan><tspan x="247.5">2</tspan><tspan x="284.4">10</tspan><tspan x="325.8">2</tspan><tspan x="362.6">8</tspan><tspan x="399.5">4</tspan><tspan x="594.9">3</tspan><tspan x="631.7">7</tspan><tspan x="668.6">18</tspan><tspan x="705.4">17</tspan><tspan x="742.3">11</tspan><tspan x="779.1">0</tspan><tspan x="894.3">13</tspan><tspan x="931.3">10</tspan><tspan x="968.3">13</tspan></text>
<text y="395.5" fill="#7474ac" stroke="#7474ac"><tspan x="63.1">9</tspan><tspan x="100">16</tspan><tspan x="136.9">19</tspan><tspan x="173.8">18</tspan><tspan x="210.6">9</tspan><tspan x="247.5">5</tspan><tspan x="284.4">9</tspan><tspan x="436.3">0</tspan><tspan x="594.9">12</tspan><tspan x="631.7">29</tspan><tspan x="668.6">20</tspan><tspan x="705.4">16</tspan><tspan x="742.3">3</tspan><tspan x="816">4</tspan><tspan x="857.3">25</tspan><tspan x="894.3">18</tspan><tspan x="931.3">19</tspan><tspan x="968.3">15</tspan><tspan x="1005.4">2</tspan></text>
<text y="428" fill="#7474ac" stroke="#7474ac"><tspan x="63.1">25</tspan><tspan x="100">22</tspan><tspan x="136.9">16</tspan><tspan x="173.8">12</tspan><tspan x="210.6">9</tspan><tspan x="247.5">4</tspan><tspan x="284.4">5</tspan><tspan x="362.6">6</tspan><tspan x="399.5">2</tspan><tspan x="436.3">0</tspan><tspan x="705.4">27</tspan><tspan x="742.3">13</tspan><tspan x="779.1">5</tspan><tspan x="816">6</tspan><tspan x="857.3">26</tspan><tspan x="894.3">26</tspan><tspan x="931.3">14</tspan><tspan x="968.3">16</tspan><tspan x="1005.4">0</tspan></text>
<text y="460.5" fill="#7474ac" stroke="#7474ac"><tspan x="63.1">18</tspan><tspan x="100">16</tspan><tspan x="136.9">16</tspan><tspan x="173.8">15</tspan><tspan x="210.6">9</tspan><tspan x="247.5">8</tspan><tspan x="284.4">9</tspan><tspan x="325.8">0</tspan><tspan x="399.5">3</tspan><tspan x="705.4">26</tspan><tspan x="742.3">14</tspan><tspan x="779.1">6</tspan><tspan x="816">6</tspan><tspan x="894.3">16</tspan><tspan x="931.3">17</tspan><tspan x="968.3">8</tspan><tspan x="1005.4">1</tspan><tspan x="1042.4">1</tspan></text>
<text y="493" fill="#7474ac" stroke="#7474ac"><tspan x="63.1">13</tspan><tspan x="100">11</tspan><tspan x="136.9">12</tspan><tspan x="173.8">13</tspan><tspan x="210.6">11</tspan><tspan x="247.5">11</tspan><tspan x="284.4">12</tspan><tspan x="325.8">1</tspan><tspan x="362.6">7</tspan><tspan x="399.5">4</tspan><tspan x="436.3">5</tspan><tspan x="594.9">27</tspan><tspan x="631.7">19</tspan><tspan x="668.6">22</tspan><tspan x="705.4">20</tspan><tspan x="742.3">13</tspan><tspan x="779.1">6</tspan><tspan x="816">9</tspan><tspan x="857.3">6</tspan><tspan x="894.3">8</tspan><tspan x="931.3">8</tspan><tspan x="968.3">6</tspan><tspan x="1005.4">1</tspan><tspan x="1042.4">1</tspan></text>
<text y="525.5" fill="#7474ac" stroke="#7474ac"><tspan x="63.1">9</tspan><tspan x="100">10</tspan><tspan x="136.9">10</tspan><tspan x="173.8">10</tspan><tspan x="210.6">6</tspan><tspan x="247.5">8</tspan><tspan x="284.4">13</tspan><tspan x="362.6">0</tspan><tspan x="473.1">2</tspan><tspan x="594.9">17</tspan><tspan x="631.7">14</tspan><tspan x="668.6">12</tspan><tspan x="705.4">14</tspan><tspan x="742.3">9</tspan><tspan x="779.1">3</tspan><tspan x="816">8</tspan><tspan x="857.3">10</tspan><tspan x="894.3">4</tspan><tspan x="931.3">4</tspan><tspan x="968.3">1</tspan><tspan x="1042.4">1</tspan></text>
<text y="558" fill="#7474ac" stroke="#7474ac"><tspan x="63.1">5</tspan><tspan x="100">2</tspan><tspan x="136.9">11</tspan><tspan x="173.8">11</tspan><tspan x="210.6">8</tspan><tspan x="247.5">15</tspan><tspan x="284.4">15</tspan><tspan x="399.5">3</tspan><tspan x="436.3">1</tspan><tspan x="546.8">2</tspan><tspan x="594.9">3</tspan><tspan x="631.7">5</tspan><tspan x="668.6">4</tspan><tspan x="705.4">6</tspan><tspan x="742.3">4</tspan><tspan x="779.1">9</tspan><tspan x="816">9</tspan><tspan x="857.3">9</tspan><tspan x="894.3">13</tspan><tspan x="931.3">11</tspan><tspan x="968.3">1</tspan><tspan x="1005.4">4</tspan><tspan x="1042.4">7</tspan><tspan x="1079.4">10</tspan></text>
<text y="395.5" fill="#6272b2" stroke="#6272b2"><tspan x="325.8">-3</tspan><tspan x="362.6">-1</tspan><tspan x="399.5">-1</tspan><tspan x="473.1">-8</tspan><tspan x="509.9">-9</tspan><tspan x="546.8">-6</tspan><tspan x="779.1">-1</tspan><tspan x="1042.4">-2</tspan><tspan x="1079.4">-6</tspan></text>
<text y="428" fill="#6272b2" stroke="#6272b2"><tspan x="325.8">-2</tspan><tspan x="473.1">-9</tspan><tspan x="509.9">-7</tspan><tspan x="546.8">-12</tspan><tspan x="1042.4">-4</tspan><tspan x="1079.4">-2</tspan></text>
<text y="460.5" fill="#6272b2" stroke="#6272b2"><tspan x="362.6">-1</tspan><tspan x="436.3">-1</tspan><tspan x="473.1">-6</tspan><tspan x="509.9">-12</tspan><tspan x="546.8">-5</tspan><tspan x="1079.4">-6</tspan></text>
<text y="493" fill="#6272b2" stroke="#6272b2"><tspan x="473.1">-2</tspan><tspan x="509.9">-8</tspan><tspan x="546.8">-8</tspan><tspan x="1079.4">-11</tspan></text>
<text y="525.5" fill="#6272b2" stroke="#6272b2"><tspan x="325.8">-2</tspan><tspan x="399.5">-2</tspan><tspan x="436.3">-7</tspan><tspan x="509.9">-6</tspan><tspan x="546.8">-5</tspan><tspan x="1005.4">-2</tspan><tspan x="1079.4">-2</tspan></text>
<text y="558" fill="#6272b2" stroke="#6272b2"><tspan x="325.8">-2</tspan><tspan x="362.6">-3</tspan><tspan x="473.1">-1</tspan><tspan x="509.9">-8</tspan></text>
<text y="595.3" fill="#6272b2" stroke="#6272b2"><tspan x="63.1">-9</tspan><tspan x="100">-6</tspan><tspan x="210.6">-1</tspan><tspan x="247.5">-1</tspan><tspan x="325.8">-2</tspan><tspan x="436.3">-8</tspan><tspan x="473.1">-7</tspan><tspan x="509.9">-14</tspan><tspan x="546.8">-17</tspan><tspan x="779.1">-4</tspan><tspan x="816">-9</tspan><tspan x="857.3">-7</tspan><tspan x="1042.4">-5</tspan><tspan x="1079.4">-10</tspan></text>
<text y="595.3" fill="#7474ac" stroke="#7474ac"><tspan x="136.9">8</tspan><tspan x="173.8">3</tspan><tspan x="284.4">7</tspan><tspan x="362.6">4</tspan><tspan x="399.5">0</tspan><tspan x="594.9">1</tspan><tspan x="631.7">4</tspan><tspan x="668.6">14</tspan><tspan x="705.4">13</tspan><tspan x="742.3">7</tspan><tspan x="894.3">13</tspan><tspan x="931.3">11</tspan><tspan x="968.3">14</tspan><tspan x="1005.4">0</tspan></text>
<text y="627.9" fill="#7474ac" stroke="#7474ac"><tspan x="63.1">12</tspan><tspan x="100">16</tspan><tspan x="136.9">15</tspan><tspan x="173.8">13</tspan><tspan x="210.6">3</tspan><tspan x="284.4">2</tspan><tspan x="594.9">10</tspan><tspan x="631.7">25</tspan><tspan x="668.6">15</tspan><tspan x="705.4">10</tspan><tspan x="857.3">25</tspan><tspan x="894.3">19</tspan><tspan x="931.3">21</tspan><tspan x="968.3">16</tspan><tspan x="1005.4">3</tspan></text>
<text y="627.9" fill="#6272b2" stroke="#6272b2"><tspan x="247.5">-1</tspan><tspan x="325.8">-8</tspan><tspan x="362.6">-7</tspan><tspan x="399.5">-7</tspan><tspan x="436.3">-6</tspan><tspan x="473.1">-14</tspan><tspan x="509.9">-15</tspan><tspan x="546.8">-10</tspan><tspan x="742.3">-3</tspan><tspan x="779.1">-6</tspan><tspan x="816">-1</tspan><tspan x="1042.4">-2</tspan><tspan x="1079.4">-7</tspan></text>
<text y="660.6" fill="#7474ac" stroke="#7474ac"><tspan x="63.1">26</tspan><tspan x="100">19</tspan><tspan x="136.9">9</tspan><tspan x="173.8">2</tspan><tspan x="705.4">19</tspan><tspan x="742.3">5</tspan><tspan x="857.3">27</tspan><tspan x="894.3">27</tspan><tspan x="931.3">16</tspan><tspan x="968.3">17</tspan><tspan x="1005.4">1</tspan></text>
<text y="660.6" fill="#6272b2" stroke="#6272b2"><tspan x="210.6">-3</tspan><tspan x="247.5">-8</tspan><tspan x="284.4">-7</tspan><tspan x="325.8">-7</tspan><tspan x="362.6">-1</tspan><tspan x="399.5">-6</tspan><tspan x="436.3">-9</tspan><tspan x="473.1">-17</tspan><tspan x="509.9">-14</tspan><tspan x="546.8">-18</tspan><tspan x="779.1">-3</tspan><tspan x="816">-1</tspan><tspan x="1042.4">-6</tspan><tspan x="1079.4">-4</tspan></text>
<text y="693.2" fill="#7474ac" stroke="#7474ac"><tspan x="63.1">16</tspan><tspan x="100">10</tspan><tspan x="136.9">4</tspan><tspan x="631.7">27</tspan><tspan x="668.6">24</tspan><tspan x="705.4">17</tspan><tspan x="742.3">3</tspan><tspan x="894.3">15</tspan><tspan x="931.3">15</tspan><tspan x="968.3">6</tspan></text>
<text y="693.2" fill="#6272b2" stroke="#6272b2"><tspan x="173.8">-2</tspan><tspan x="210.6">-9</tspan><tspan x="247.5">-11</tspan><tspan x="284.4">-9</tspan><tspan x="325.8">-6</tspan><tspan x="362.6">-9</tspan><tspan x="399.5">-7</tspan><tspan x="436.3">-12</tspan><tspan x="473.1">-16</tspan><tspan x="509.9">-21</tspan><tspan x="546.8">-13</tspan><tspan x="779.1">-4</tspan><tspan x="816">-5</tspan><tspan x="1005.4">-3</tspan><tspan x="1042.4">-6</tspan><tspan x="1079.4">-13</tspan></text>
<text y="725.9" fill="#7474ac" stroke="#7474ac"><tspan x="63.1">10</tspan><tspan x="100">3</tspan><tspan x="594.9">25</tspan><tspan x="631.7">15</tspan><tspan x="668.6">15</tspan><tspan x="705.4">9</tspan><tspan x="742.3">0</tspan><tspan x="857.3">4</tspan><tspan x="894.3">4</tspan><tspan x="931.3">3</tspan></text>
<text y="725.9" fill="#6272b2" stroke="#6272b2"><tspan x="136.9">-3</tspan><tspan x="173.8">-7</tspan><tspan x="210.6">-12</tspan><tspan x="247.5">-12</tspan><tspan x="284.4">-11</tspan><tspan x="325.8">-5</tspan><tspan x="362.6">-2</tspan><tspan x="399.5">-7</tspan><tspan x="436.3">-7</tspan><tspan x="473.1">-15</tspan><tspan x="509.9">-20</tspan><tspan x="546.8">-18</tspan><tspan x="779.1">-8</tspan><tspan x="816">-5</tspan><tspan x="968.3">-2</tspan><tspan x="1005.4">-10</tspan><tspan x="1042.4">-15</tspan><tspan x="1079.4">-25</tspan></text>
<text y="758.5" fill="#7474ac" stroke="#7474ac"><tspan x="63.1">5</tspan><tspan x="100">1</tspan><tspan x="594.9">15</tspan><tspan x="631.7">10</tspan><tspan x="668.6">4</tspan><tspan x="705.4">3</tspan><tspan x="857.3">7</tspan><tspan x="894.3">0</tspan></text>
<text y="758.5" fill="#6272b2" stroke="#6272b2"><tspan x="136.9">-5</tspan><tspan x="173.8">-10</tspan><tspan x="210.6">-16</tspan><tspan x="247.5">-15</tspan><tspan x="284.4">-11</tspan><tspan x="325.8">-8</tspan><tspan x="362.6">-9</tspan><tspan x="399.5">-13</tspan><tspan x="436.3">-21</tspan><tspan x="473.1">-13</tspan><tspan x="509.9">-20</tspan><tspan x="546.8">-18</tspan><tspan x="742.3">-5</tspan><tspan x="779.1">-13</tspan><tspan x="816">-9</tspan><tspan x="931.3">-2</tspan><tspan x="968.3">-9</tspan><tspan x="1005.4">-17</tspan><tspan x="1042.4">-20</tspan><tspan x="1079.4">-20</tspan></text>
<text y="791.2" fill="#7474ac" stroke="#7474ac"><tspan x="63.1">2</tspan><tspan x="594.9">1</tspan><tspan x="631.7">1</tspan><tspan x="857.3">6</tspan><tspan x="894.3">8</tspan><tspan x="931.3">4</tspan></text>
<text y="791.2" fill="#6272b2" stroke="#6272b2"><tspan x="100">-6</tspan><tspan x="136.9">-3</tspan><tspan x="173.8">-8</tspan><tspan x="210.6">-13</tspan><tspan x="247.5">-7</tspan><tspan x="284.4">-7</tspan><tspan x="325.8">-8</tspan><tspan x="362.6">-12</tspan><tspan x="399.5">-8</tspan><tspan x="436.3">-13</tspan><tspan x="473.1">-18</tspan><tspan x="509.9">-25</tspan><tspan x="546.8">-13</tspan><tspan x="668.6">-3</tspan><tspan x="705.4">-4</tspan><tspan x="742.3">-10</tspan><tspan x="779.1">-8</tspan><tspan x="816">-10</tspan><tspan x="968.3">-10</tspan><tspan x="1005.4">-12</tspan><tspan x="1042.4">-15</tspan><tspan x="1079.4">-9</tspan></text>
<text y="828" fill="#6272b2" stroke="#6272b2"><tspan x="63.1">-4</tspan><tspan x="100">-1</tspan><tspan x="436.3">-3</tspan><tspan x="473.1">-3</tspan><tspan x="509.9">-10</tspan><tspan x="546.8">-14</tspan><tspan x="816">-5</tspan><tspan x="857.3">-7</tspan><tspan x="1042.4">-5</tspan><tspan x="1079.4">-10</tspan></text>
<text y="828" fill="#7474ac" stroke="#7474ac"><tspan x="136.9">12</tspan><tspan x="173.8">6</tspan><tspan x="210.6">2</tspan><tspan x="247.5">2</tspan><tspan x="284.4">10</tspan><tspan x="325.8">5</tspan><tspan x="362.6">10</tspan><tspan x="399.5">5</tspan><tspan x="594.9">7</tspan><tspan x="631.7">12</tspan><tspan x="668.6">21</tspan><tspan x="705.4">19</tspan><tspan x="742.3">12</tspan><tspan x="779.1">0</tspan><tspan x="894.3">13</tspan><tspan x="931.3">11</tspan><tspan x="968.3">14</tspan><tspan x="1005.4">0</tspan></text>
<text y="860.6" fill="#7474ac" stroke="#7474ac"><tspan x="63.1">19</tspan><tspan x="100">27</tspan><tspan x="136.9">24</tspan><tspan x="173.8">20</tspan><tspan x="210.6">9</tspan><tspan x="247.5">6</tspan><tspan x="284.4">9</tspan><tspan x="325.8">1</tspan><tspan x="362.6">1</tspan><tspan x="399.5">1</tspan><tspan x="436.3">1</tspan><tspan x="594.9">15</tspan><tspan x="668.6">26</tspan><tspan x="705.4">20</tspan><tspan x="742.3">4</tspan><tspan x="779.1">0</tspan><tspan x="816">4</tspan><tspan x="857.3">26</tspan><tspan x="894.3">20</tspan><tspan x="931.3">21</tspan><tspan x="968.3">17</tspan><tspan x="1005.4">4</tspan></text>
<text y="893.2" fill="#8080b8" stroke="#8080b8"><tspan x="63.1">32</tspan><tspan x="100">33</tspan><tspan x="594.9">39</tspan><tspan x="631.7">41</tspan><tspan x="668.6">45</tspan><tspan x="705.4">33</tspan><tspan x="857.3">30</tspan><tspan x="894.3">30</tspan></text>
<text y="893.2" fill="#7474ac" stroke="#7474ac"><tspan x="136.9">26</tspan><tspan x="173.8">16</tspan><tspan x="210.6">10</tspan><tspan x="247.5">4</tspan><tspan x="284.4">5</tspan><tspan x="325.8">2</tspan><tspan x="362.6">11</tspan><tspan x="399.5">5</tspan><tspan x="436.3">1</tspan><tspan x="742.3">16</tspan><tspan x="779.1">6</tspan><tspan x="816">7</tspan><tspan x="931.3">19</tspan><tspan x="968.3">20</tspan><tspan x="1005.4">4</tspan></text>
<text y="925.8" fill="#7474ac" stroke="#7474ac"><tspan x="63.1">21</tspan><tspan x="100">21</tspan><tspan x="136.9">24</tspan><tspan x="173.8">20</tspan><tspan x="210.6">11</tspan><tspan x="247.5">8</tspan><tspan x="284.4">10</tspan><tspan x="325.8">3</tspan><tspan x="362.6">4</tspan><tspan x="399.5">8</tspan><tspan x="436.3">2</tspan><tspan x="742.3">19</tspan><tspan x="779.1">9</tspan><tspan x="816">7</tspan><tspan x="894.3">22</tspan><tspan x="931.3">26</tspan><tspan x="968.3">16</tspan><tspan x="1005.4">6</tspan><tspan x="1042.4">2</tspan></text>
<text y="958.5" fill="#7474ac" stroke="#7474ac"><tspan x="63.1">13</tspan><tspan x="100">12</tspan><tspan x="136.9">13</tspan><tspan x="173.8">15</tspan><tspan x="210.6">13</tspan><tspan x="247.5">12</tspan><tspan x="284.4">13</tspan><tspan x="325.8">2</tspan><tspan x="362.6">9</tspan><tspan x="399.5">9</tspan><tspan x="436.3">10</tspan><tspan x="473.1">0</tspan><tspan x="594.9">28</tspan><tspan x="631.7">22</tspan><tspan x="668.6">27</tspan><tspan x="705.4">27</tspan><tspan x="742.3">22</tspan><tspan x="779.1">11</tspan><tspan x="816">11</tspan><tspan x="857.3">7</tspan><tspan x="894.3">10</tspan><tspan x="931.3">12</tspan><tspan x="968.3">11</tspan><tspan x="1005.4">9</tspan><tspan x="1042.4">2</tspan></text>
<text y="991.1" fill="#7474ac" stroke="#7474ac"><tspan x="63.1">9</tspan><tspan x="100">10</tspan><tspan x="136.9">10</tspan><tspan x="173.8">10</tspan><tspan x="210.6">6</tspan><tspan x="247.5">8</tspan><tspan x="284.4">13</tspan><tspan x="362.6">1</tspan><tspan x="399.5">1</tspan><tspan x="436.3">0</tspan><tspan x="473.1">6</tspan><tspan x="594.9">18</tspan><tspan x="631.7">15</tspan><tspan x="668.6">14</tspan><tspan x="705.4">17</tspan><tspan x="742.3">15</tspan><tspan x="779.1">11</tspan><tspan x="816">12</tspan><tspan x="857.3">10</tspan><tspan x="894.3">5</tspan><tspan x="931.3">5</tspan><tspan x="968.3">2</tspan><tspan x="1005.4">0</tspan><tspan x="1042.4">2</tspan></text>
<text y="1023.7" fill="#7474ac" stroke="#7474ac"><tspan x="63.1">5</tspan><tspan x="100">2</tspan><tspan x="136.9">11</tspan><tspan x="173.8">11</tspan><tspan x="210.6">8</tspan><tspan x="247.5">15</tspan><tspan x="284.4">15</tspan><tspan x="399.5">5</tspan><tspan x="436.3">6</tspan><tspan x="473.1">5</tspan><tspan x="546.8">3</tspan><tspan x="594.9">3</tspan><tspan x="631.7">5</tspan><tspan x="668.6">4</tspan><tspan x="705.4">7</tspan><tspan x="742.3">6</tspan><tspan x="779.1">12</tspan><tspan x="816">13</tspan><tspan x="857.3">9</tspan><tspan x="894.3">13</tspan><tspan x="931.3">12</tspan><tspan x="968.3">1</tspan><tspan x="1005.4">4</tspan><tspan x="1042.4">7</tspan><tspan x="1079.4">10</tspan></text>
<text y="860.6" fill="#6272b2" stroke="#6272b2"><tspan x="473.1">-8</tspan><tspan x="509.9">-9</tspan><tspan x="546.8">-6</tspan><tspan x="1042.4">-2</tspan><tspan x="1079.4">-6</tspan></text>
<text y="893.2" fill="#6272b2" stroke="#6272b2"><tspan x="473.1">-9</tspan><tspan x="509.9">-7</tspan><tspan x="546.8">-12</tspan><tspan x="1042.4">-3</tspan><tspan x="1079.4">-2</tspan></text>
<text y="925.8" fill="#6272b2" stroke="#6272b2"><tspan x="473.1">-5</tspan><tspan x="509.9">-11</tspan><tspan x="546.8">-5</tspan><tspan x="1079.4">-6</tspan></text>
<text y="958.5" fill="#6272b2" stroke="#6272b2"><tspan x="509.9">-8</tspan><tspan x="546.8">-8</tspan><tspan x="1079.4">-11</tspan></text>
<text y="991.1" fill="#6272b2" stroke="#6272b2"><tspan x="325.8">-1</tspan><tspan x="509.9">-5</tspan><tspan x="546.8">-5</tspan><tspan x="1079.4">-2</tspan></text>
<text y="1023.7" fill="#6272b2" stroke="#6272b2"><tspan x="325.8">-2</tspan><tspan x="362.6">-2</tspan><tspan x="509.9">-6</tspan></text>
<text y="428" fill="#8080b8" stroke="#8080b8"><tspan x="594.9">37</tspan><tspan x="631.7">36</tspan><tspan x="668.6">36</tspan></text>
<text y="460.5" fill="#8080b8" stroke="#8080b8"><tspan x="594.9">34</tspan><tspan x="631.7">32</tspan><tspan x="668.6">31</tspan><tspan x="857.3">31</tspan></text>
<text y="660.6" fill="#8080b8" stroke="#8080b8"><tspan x="594.9">35</tspan><tspan x="631.7">32</tspan><tspan x="668.6">30</tspan></text>
<text y="693.2" fill="#8080b8" stroke="#8080b8"><tspan x="594.9">31</tspan><tspan x="857.3">30</tspan></text>
<text y="860.6" fill="#8080b8" stroke="#8080b8"><tspan x="631.7">35</tspan></text>
<text y="925.8" fill="#8080b8" stroke="#8080b8"><tspan x="594.9">35</tspan><tspan x="631.7">35</tspan><tspan x="668.6">38</tspan><tspan x="705.4">36</tspan><tspan x="857.3">34</tspan></text>
</g>
<rect x="886.7" y="1044.5" width="205.1" height="11.9" fill="url(#cbS)"/>
<text x="921" y="1086" font-size="27.8" text-anchor="middle">Antagonism</text>
<text x="1065.5" y="1086" font-size="27.8" text-anchor="middle">Synergy</text>
</g>
<g id="panelB">
<text x="1132" y="36.2" font-size="45" font-weight="bold">B</text>
<path d="M1225.5 182H1875" stroke="#000" stroke-width="1.8" fill="none" stroke-dasharray="5.7 2.6"/>
<path d="M1225.5 262.8H1875" stroke="#000" stroke-width="1.8" fill="none" stroke-dasharray="5.7 2.6"/>
<text x="1690" y="206" font-size="27">Nearly additive</text>
<text x="1690" y="247.3" font-size="27">Synergism</text>
<text x="1690" y="288" font-size="27">Strong synergism</text>
<rect x="1226.4" y="272.43" width="22.2" height="23.57" fill="#fff" stroke="#000" stroke-width="1.8"/>
<rect x="1249.1" y="196.53" width="23.6" height="99.47" fill="#000"/>
<path d="M1237.6 276.45V267.25M1231.6 267.25h12M1231.6 276.45h12" stroke="#000" stroke-width="1.8" fill="none"/>
<path d="M1260.9 196.53V172.95M1254.9 172.95h12M1254.9 196.53h12" stroke="#000" stroke-width="1.8" fill="none"/>
<circle cx="1230.8" cy="276.8" r="5.1" fill="#000"/>
<circle cx="1237.8" cy="266.68" r="5.1" fill="#000"/>
<circle cx="1244.6" cy="272.43" r="5.1" fill="#000"/>
<circle cx="1260.9" cy="170.19" r="4.6" fill="#fff" stroke="#000" stroke-width="1.8"/>
<circle cx="1260.9" cy="201.47" r="4.6" fill="#fff" stroke="#000" stroke-width="1.8"/>
<circle cx="1260.9" cy="218.95" r="4.6" fill="#fff" stroke="#000" stroke-width="1.8"/>
<rect x="1285.4" y="272.43" width="22.2" height="23.57" fill="#fff" stroke="#000" stroke-width="1.8"/>
<rect x="1308.1" y="209.98" width="23.6" height="86.02" fill="#000"/>
<path d="M1296.6 274.15V270.7M1290.6 270.7h12M1290.6 274.15h12" stroke="#000" stroke-width="1.8" fill="none"/>
<path d="M1319.9 209.98V200.55M1313.9 200.55h12M1313.9 209.98h12" stroke="#000" stroke-width="1.8" fill="none"/>
<circle cx="1289.6" cy="273.57" r="5.1" fill="#000"/>
<circle cx="1296.3" cy="270.36" r="5.1" fill="#000"/>
<circle cx="1302.9" cy="273" r="5.1" fill="#000"/>
<circle cx="1313.3" cy="202.5" r="4.6" fill="#fff" stroke="#000" stroke-width="1.8"/>
<circle cx="1326.7" cy="206.76" r="4.6" fill="#fff" stroke="#000" stroke-width="1.8"/>
<circle cx="1319.9" cy="219.64" r="4.6" fill="#fff" stroke="#000" stroke-width="1.8"/>
<rect x="1344.4" y="263.8" width="22.2" height="32.2" fill="#fff" stroke="#000" stroke-width="1.8"/>
<rect x="1367.1" y="207.68" width="23.6" height="88.32" fill="#000"/>
<path d="M1355.6 267.25V258.05M1349.6 258.05h12M1349.6 267.25h12" stroke="#000" stroke-width="1.8" fill="none"/>
<path d="M1378.9 207.68V197.1M1372.9 197.1h12M1372.9 207.68h12" stroke="#000" stroke-width="1.8" fill="none"/>
<circle cx="1348.6" cy="266.68" r="5.1" fill="#000"/>
<circle cx="1355.3" cy="257.48" r="5.1" fill="#000"/>
<circle cx="1362.2" cy="263.8" r="5.1" fill="#000"/>
<circle cx="1378.9" cy="194" r="4.6" fill="#fff" stroke="#000" stroke-width="1.8"/>
<circle cx="1372.1" cy="216.19" r="4.6" fill="#fff" stroke="#000" stroke-width="1.8"/>
<circle cx="1385.7" cy="212.51" r="4.6" fill="#fff" stroke="#000" stroke-width="1.8"/>
<rect x="1403.4" y="223.89" width="22.2" height="72.11" fill="#fff" stroke="#000" stroke-width="1.8"/>
<rect x="1426.1" y="159.5" width="23.6" height="136.5" fill="#000"/>
<path d="M1414.6 232.75V215.5M1408.6 215.5h12M1408.6 232.75h12" stroke="#000" stroke-width="1.8" fill="none"/>
<path d="M1437.9 159.5V148M1431.9 148h12M1431.9 159.5h12" stroke="#000" stroke-width="1.8" fill="none"/>
<circle cx="1414.6" cy="212.97" r="5.1" fill="#000"/>
<circle cx="1407.8" cy="231.83" r="5.1" fill="#000"/>
<circle cx="1421.4" cy="224.36" r="5.1" fill="#000"/>
<circle cx="1431.3" cy="151.56" r="4.6" fill="#fff" stroke="#000" stroke-width="1.8"/>
<circle cx="1444.7" cy="154.78" r="4.6" fill="#fff" stroke="#000" stroke-width="1.8"/>
<circle cx="1437.9" cy="171.45" r="4.6" fill="#fff" stroke="#000" stroke-width="1.8"/>
<rect x="1462.4" y="272.43" width="22.2" height="23.57" fill="#fff" stroke="#000" stroke-width="1.8"/>
<rect x="1485.1" y="233.9" width="23.6" height="62.1" fill="#000"/>
<path d="M1473.6 277.6V266.1M1467.6 266.1h12M1467.6 277.6h12" stroke="#000" stroke-width="1.8" fill="none"/>
<path d="M1496.9 233.9V211.48M1490.9 211.48h12M1490.9 233.9h12" stroke="#000" stroke-width="1.8" fill="none"/>
<circle cx="1466.8" cy="265.64" r="5.1" fill="#000"/>
<circle cx="1480" cy="272.43" r="5.1" fill="#000"/>
<circle cx="1466.8" cy="278.87" r="5.1" fill="#000"/>
<circle cx="1496.9" cy="211.48" r="4.6" fill="#fff" stroke="#000" stroke-width="1.8"/>
<circle cx="1496.9" cy="241.49" r="4.6" fill="#fff" stroke="#000" stroke-width="1.8"/>
<circle cx="1496.9" cy="250" r="4.6" fill="#fff" stroke="#000" stroke-width="1.8"/>
<rect x="1521.4" y="267.6" width="22.2" height="28.41" fill="#fff" stroke="#000" stroke-width="1.8"/>
<rect x="1544.1" y="247.7" width="23.6" height="48.3" fill="#000"/>
<path d="M1532.6 276.45V258.05M1526.6 258.05h12M1526.6 276.45h12" stroke="#000" stroke-width="1.8" fill="none"/>
<path d="M1555.9 247.7V237.93M1549.9 237.93h12M1549.9 247.7h12" stroke="#000" stroke-width="1.8" fill="none"/>
<circle cx="1525.8" cy="258.17" r="5.1" fill="#000"/>
<circle cx="1539.2" cy="266.1" r="5.1" fill="#000"/>
<circle cx="1532.6" cy="277.83" r="5.1" fill="#000"/>
<circle cx="1549.1" cy="236.78" r="4.6" fill="#fff" stroke="#000" stroke-width="1.8"/>
<circle cx="1549.1" cy="247.81" r="4.6" fill="#fff" stroke="#000" stroke-width="1.8"/>
<circle cx="1562.5" cy="246.2" r="4.6" fill="#fff" stroke="#000" stroke-width="1.8"/>
<rect x="1580.4" y="254.6" width="22.2" height="41.4" fill="#fff" stroke="#000" stroke-width="1.8"/>
<rect x="1603.1" y="197.1" width="23.6" height="98.9" fill="#000"/>
<path d="M1591.6 259.2V248.85M1585.6 248.85h12M1585.6 259.2h12" stroke="#000" stroke-width="1.8" fill="none"/>
<path d="M1614.9 197.1V186.18M1608.9 186.18h12M1608.9 197.1h12" stroke="#000" stroke-width="1.8" fill="none"/>
<circle cx="1584.8" cy="249.54" r="5.1" fill="#000"/>
<circle cx="1598.4" cy="250" r="5.1" fill="#000"/>
<circle cx="1584.8" cy="260.35" r="5.1" fill="#000"/>
<circle cx="1614.9" cy="185.37" r="4.6" fill="#fff" stroke="#000" stroke-width="1.8"/>
<circle cx="1621.7" cy="199.4" r="4.6" fill="#fff" stroke="#000" stroke-width="1.8"/>
<circle cx="1608.1" cy="205.72" r="4.6" fill="#fff" stroke="#000" stroke-width="1.8"/>
<rect x="1639.4" y="236.55" width="22.2" height="59.45" fill="#fff" stroke="#000" stroke-width="1.8"/>
<rect x="1662.1" y="153.05" width="23.6" height="142.95" fill="#000"/>
<path d="M1650.6 247.7V224.12M1644.6 224.12h12M1644.6 247.7h12" stroke="#000" stroke-width="1.8" fill="none"/>
<path d="M1673.9 153.05V124.65M1667.9 124.65h12M1667.9 153.05h12" stroke="#000" stroke-width="1.8" fill="none"/>
<circle cx="1651" cy="223.89" r="5.1" fill="#000"/>
<circle cx="1657.6" cy="236.78" r="5.1" fill="#000"/>
<circle cx="1644.2" cy="246.78" r="5.1" fill="#000"/>
<circle cx="1673.9" cy="124.42" r="4.6" fill="#fff" stroke="#000" stroke-width="1.8"/>
<circle cx="1673.9" cy="152.25" r="4.6" fill="#fff" stroke="#000" stroke-width="1.8"/>
<circle cx="1673.9" cy="181.57" r="4.6" fill="#fff" stroke="#000" stroke-width="1.8"/>
<path d="M1225.5 65.3V296M1212.5 296H1685M1212.5 238.5h13M1212.5 181h13M1212.5 123.5h13M1212.5 66h13M1249.1 296v13M1308.1 296v13M1367.1 296v13M1426.1 296v13M1485.1 296v13M1544.1 296v13M1603.1 296v13M1662.1 296v13" stroke="#000" stroke-width="1.9" fill="none"/>
<text x="1206" y="304.8" font-size="26" text-anchor="end">0.0</text>
<text x="1206" y="247.3" font-size="26" text-anchor="end">0.5</text>
<text x="1206" y="189.8" font-size="26" text-anchor="end">1.0</text>
<text x="1206" y="132.3" font-size="26" text-anchor="end">1.5</text>
<text x="1206" y="74.8" font-size="26" text-anchor="end">2.0</text>
<text font-size="27.5" text-anchor="middle" transform="translate(1151.5 179) rotate(-90)">CI</text>
<text font-size="27.5" text-anchor="end" transform="translate(1258.8 314.5) rotate(-90)">0.31+0.12</text>
<text font-size="27.5" text-anchor="end" transform="translate(1317.8 314.5) rotate(-90)">0.62+0.25</text>
<text font-size="27.5" text-anchor="end" transform="translate(1376.8 314.5) rotate(-90)">1.25+0.5</text>
<text font-size="27.5" text-anchor="end" transform="translate(1435.8 314.5) rotate(-90)">2.5+1</text>
<text font-size="27.5" text-anchor="end" transform="translate(1494.8 314.5) rotate(-90)">0.31+1.2</text>
<text font-size="27.5" text-anchor="end" transform="translate(1553.8 314.5) rotate(-90)">0.62+2.5</text>
<text font-size="27.5" text-anchor="end" transform="translate(1612.8 314.5) rotate(-90)">1.25+5</text>
<text font-size="27.5" text-anchor="end" transform="translate(1671.8 314.5) rotate(-90)">2.5+10</text>
<path d="M1242.8 445.6V462.3H1421V445.6M1485.5 445.6V462.3H1661V445.6" stroke="#000" stroke-width="1.8" fill="none"/>
<text x="1343.4" y="491.7" font-size="27.5" text-anchor="middle">GEM+AZD</text>
<text x="1564.4" y="491.7" font-size="27.5" text-anchor="middle">GEM+MK</text>
<path d="M1237.1 118V106.2H1265.9V118" stroke="#000" stroke-width="1.8" fill="none"/>
<text font-size="48.5" stroke="#000" stroke-width="0.5"><tspan x="1242.29" y="117.88">*</tspan><tspan x="1242.29" y="100.03">*</tspan><tspan x="1242.29" y="82.18">*</tspan></text>
<path d="M1295.6 118V106.2H1324.4V118" stroke="#000" stroke-width="1.8" fill="none"/>
<text font-size="48.5" stroke="#000" stroke-width="0.5"><tspan x="1300.79" y="117.88">*</tspan><tspan x="1300.79" y="100.03">*</tspan><tspan x="1300.79" y="82.18">*</tspan></text>
<path d="M1356.4 118V106.2H1385.2V118" stroke="#000" stroke-width="1.8" fill="none"/>
<text font-size="48.5" stroke="#000" stroke-width="0.5"><tspan x="1361.59" y="117.88">*</tspan><tspan x="1361.59" y="100.03">*</tspan></text>
<path d="M1412.6 118V106.2H1441.4V118" stroke="#000" stroke-width="1.8" fill="none"/>
<text font-size="48.5" stroke="#000" stroke-width="0.5"><tspan x="1417.79" y="117.88">*</tspan><tspan x="1417.79" y="100.03">*</tspan><tspan x="1417.79" y="82.18">*</tspan></text>
<path d="M1582.7 118V106.2H1611.5V118" stroke="#000" stroke-width="1.8" fill="none"/>
<text font-size="48.5" stroke="#000" stroke-width="0.5"><tspan x="1587.89" y="117.88">*</tspan><tspan x="1587.89" y="100.03">*</tspan><tspan x="1587.89" y="82.18">*</tspan></text>
<path d="M1646.1 118V106.2H1674.9V118" stroke="#000" stroke-width="1.8" fill="none"/>
<text font-size="48.5" stroke="#000" stroke-width="0.5"><tspan x="1651.29" y="117.88">*</tspan><tspan x="1651.29" y="100.03">*</tspan><tspan x="1651.29" y="82.18">*</tspan></text>
<rect x="1834.7" y="23.6" width="36.5" height="19.5" fill="#fff" stroke="#000" stroke-width="1.8"/>
<rect x="1834.7" y="70" width="36.5" height="19.5" fill="#000" stroke="#000" stroke-width="1.8"/>
<text x="1876.2" y="42.8" font-size="27.2">A3C<tspan dy="-9.79" font-size="16.32">NC</tspan></text>
<text x="1876.2" y="89.7" font-size="27.2">A3C<tspan dy="-9.79" font-size="16.32">OE</tspan></text>
</g>
<g id="panelC">
<text x="1132" y="611.8" font-size="45" font-weight="bold">C</text>
<path d="M1267.2 653.26L1270.81 653.36L1274.41 653.49L1278.02 653.63L1281.63 653.79L1285.23 653.99L1288.84 654.21L1292.45 654.47L1296.05 654.76L1299.66 655.11L1303.27 655.51L1306.87 655.97L1310.48 656.5L1314.09 657.12L1317.69 657.83L1321.3 658.65L1324.91 659.59L1328.51 660.68L1332.12 661.92L1335.73 663.34L1339.33 664.97L1342.94 666.82L1346.55 668.93L1350.15 671.32L1353.76 674.02L1357.37 677.06L1360.97 680.45L1364.58 684.24L1368.19 688.43L1371.79 693.04L1375.4 698.09L1379.01 703.56L1382.61 709.45L1386.22 715.72L1389.83 722.36L1393.43 729.29L1397.04 736.48L1400.65 743.84L1404.25 751.29L1407.86 758.76L1411.47 766.16L1415.07 773.4L1418.68 780.43L1422.29 787.17L1425.89 793.56L1429.5 799.58L1433.11 805.18L1436.71 810.37L1440.32 815.12L1443.93 819.44L1447.53 823.36L1451.14 826.88L1454.75 830.03L1458.35 832.83L1461.96 835.32L1465.57 837.51L1469.17 839.45L1472.78 841.15L1476.39 842.63L1479.99 843.93L1483.6 845.06" stroke="#000" stroke-width="1.5" fill="none"/>
<path d="M1267.2 667.25L1270.81 667.3L1274.41 667.35L1278.02 667.42L1281.63 667.5L1285.23 667.59L1288.84 667.69L1292.45 667.82L1296.05 667.96L1299.66 668.13L1303.27 668.33L1306.87 668.56L1310.48 668.83L1314.09 669.15L1317.69 669.52L1321.3 669.96L1324.91 670.47L1328.51 671.06L1332.12 671.74L1335.73 672.54L1339.33 673.47L1342.94 674.55L1346.55 675.79L1350.15 677.23L1353.76 678.88L1357.37 680.78L1360.97 682.94L1364.58 685.41L1368.19 688.21L1371.79 691.35L1375.4 694.88L1379.01 698.81L1382.61 703.15L1386.22 707.9L1389.83 713.05L1393.43 718.6L1397.04 724.49L1400.65 730.7L1404.25 737.15L1407.86 743.77L1411.47 750.49L1415.07 757.22L1418.68 763.87L1422.29 770.36L1425.89 776.63L1429.5 782.6L1433.11 788.22L1436.71 793.46L1440.32 798.3L1443.93 802.73L1447.53 806.75L1451.14 810.36L1454.75 813.59L1458.35 816.46L1461.96 819L1465.57 821.23L1469.17 823.18L1472.78 824.88L1476.39 826.36L1479.99 827.65L1483.6 828.76" stroke="#000" stroke-width="1.5" fill="none"/>
<path d="M1267.2 661.06V646.26M1262.2 646.26h10M1262.2 661.06h10" stroke="#000" stroke-width="1.5" fill="none"/>
<rect x="1262.8" y="649.26" width="8.8" height="8.8" fill="#fff" stroke="#000" stroke-width="1.7"/>
<path d="M1321.3 658.94V646.26M1316.3 646.26h10M1316.3 658.94h10" stroke="#000" stroke-width="1.5" fill="none"/>
<rect x="1316.9" y="648.2" width="8.8" height="8.8" fill="#fff" stroke="#000" stroke-width="1.7"/>
<path d="M1375.4 719.2V710.74M1370.4 710.74h10M1370.4 719.2h10" stroke="#000" stroke-width="1.5" fill="none"/>
<rect x="1371" y="710.57" width="8.8" height="8.8" fill="#fff" stroke="#000" stroke-width="1.7"/>
<path d="M1429.5 801.65V782.62M1424.5 782.62h10M1424.5 801.65h10" stroke="#000" stroke-width="1.5" fill="none"/>
<rect x="1425.1" y="787.73" width="8.8" height="8.8" fill="#fff" stroke="#000" stroke-width="1.7"/>
<path d="M1483.6 853.45V847.1M1478.6 847.1h10M1478.6 853.45h10" stroke="#000" stroke-width="1.5" fill="none"/>
<rect x="1479.2" y="845.87" width="8.8" height="8.8" fill="#fff" stroke="#000" stroke-width="1.7"/>
<path d="M1267.2 690.65V665.28M1262.2 665.28h10M1262.2 690.65h10" stroke="#000" stroke-width="1.5" fill="none"/>
<rect x="1262.1" y="672.87" width="10.2" height="10.2" fill="#000"/>
<path d="M1321.3 670.57V649.43M1316.3 649.43h10M1316.3 670.57h10" stroke="#000" stroke-width="1.5" fill="none"/>
<rect x="1316.2" y="654.9" width="10.2" height="10.2" fill="#000"/>
<path d="M1375.4 702.28V689.6M1370.4 689.6h10M1370.4 702.28h10" stroke="#000" stroke-width="1.5" fill="none"/>
<rect x="1370.3" y="690.84" width="10.2" height="10.2" fill="#000"/>
<path d="M1429.5 788.96V776.28M1424.5 776.28h10M1424.5 788.96h10" stroke="#000" stroke-width="1.5" fill="none"/>
<rect x="1424.4" y="777.52" width="10.2" height="10.2" fill="#000"/>
<path d="M1483.6 834.42V825.96M1478.6 825.96h10M1478.6 834.42h10" stroke="#000" stroke-width="1.5" fill="none"/>
<rect x="1478.5" y="825.09" width="10.2" height="10.2" fill="#000"/>
<path d="M1239.9 644.4V898.9M1230.4 898.9H1510.5M1230.4 856.62h9.5M1230.4 814.33h9.5M1230.4 772.05h9.5M1230.4 729.77h9.5M1230.4 687.48h9.5M1230.4 645.2h9.5M1267.2 898.9v8M1321 898.9v8M1375.5 898.9v8M1429.4 898.9v8M1483.6 898.9v8" stroke="#000" stroke-width="1.8" fill="none"/>
<path d="M1245.67 898.9v4.6M1250.91 898.9v4.6M1255.2 898.9v4.6M1258.82 898.9v4.6M1261.96 898.9v4.6M1264.72 898.9v4.6M1283.49 898.9v4.6M1293.01 898.9v4.6M1299.77 898.9v4.6M1305.01 898.9v4.6M1309.3 898.9v4.6M1312.92 898.9v4.6M1316.06 898.9v4.6M1318.82 898.9v4.6M1337.59 898.9v4.6M1347.11 898.9v4.6M1353.87 898.9v4.6M1359.11 898.9v4.6M1363.4 898.9v4.6M1367.02 898.9v4.6M1370.16 898.9v4.6M1372.92 898.9v4.6M1391.69 898.9v4.6M1401.21 898.9v4.6M1407.97 898.9v4.6M1413.21 898.9v4.6M1417.5 898.9v4.6M1421.12 898.9v4.6M1424.26 898.9v4.6M1427.02 898.9v4.6M1445.79 898.9v4.6M1455.31 898.9v4.6M1462.07 898.9v4.6M1467.31 898.9v4.6M1471.6 898.9v4.6M1475.22 898.9v4.6M1478.36 898.9v4.6M1481.12 898.9v4.6M1499.89 898.9v4.6M1509.41 898.9v4.6" stroke="#000" stroke-width="1.2" fill="none"/>
<text x="1223.9" y="908.1" font-size="27" text-anchor="end">0</text>
<text x="1223.9" y="865.82" font-size="27" text-anchor="end">20</text>
<text x="1223.9" y="823.53" font-size="27" text-anchor="end">40</text>
<text x="1223.9" y="781.25" font-size="27" text-anchor="end">60</text>
<text x="1223.9" y="738.97" font-size="27" text-anchor="end">80</text>
<text x="1223.9" y="696.68" font-size="27" text-anchor="end">100</text>
<text x="1223.9" y="654.4" font-size="27" text-anchor="end">120</text>
<text x="1267.2" y="938.7" font-size="27.2" text-anchor="middle">0.01</text>
<text x="1321" y="938.7" font-size="27.2" text-anchor="middle">0.1</text>
<text x="1375.5" y="938.7" font-size="27.2" text-anchor="middle">1</text>
<text x="1429.4" y="938.7" font-size="27.2" text-anchor="middle">10</text>
<text x="1483.6" y="938.7" font-size="27.2" text-anchor="middle">100</text>
<text x="1374.5" y="972.4" font-size="27.2" text-anchor="middle">AZD-7762 (<tspan font-style="italic">μ</tspan>M), 72 h</text>
<text font-size="27.2" text-anchor="middle" transform="translate(1163.4 770.5) rotate(-90)">Viability (%)</text>
<path d="M1269.5 832.2h37" stroke="#000" stroke-width="1.5" fill="none"/>
<rect x="1283.9" y="828.1" width="8.2" height="8.2" fill="#fff" stroke="#000" stroke-width="1.6"/>
<text x="1311.5" y="842.4" font-size="27.2">A3C<tspan dy="-9.79" font-size="16.32">NC</tspan></text>
<path d="M1269.5 865.7h37" stroke="#000" stroke-width="1.5" fill="none"/>
<rect x="1283.3" y="861" width="9.4" height="9.4" fill="#000"/>
<text x="1311.5" y="875.9" font-size="27.2">A3C<tspan dy="-9.79" font-size="16.32">OE</tspan></text>
<path d="M1689 673.51L1692.57 673.54L1696.14 673.58L1699.71 673.62L1703.28 673.66L1706.85 673.71L1710.42 673.77L1713.99 673.84L1717.56 673.92L1721.13 674.01L1724.7 674.11L1728.27 674.23L1731.84 674.36L1735.41 674.52L1738.98 674.7L1742.55 674.9L1746.12 675.14L1749.69 675.41L1753.26 675.72L1756.83 676.07L1760.4 676.48L1763.97 676.94L1767.54 677.47L1771.11 678.08L1774.68 678.77L1778.25 679.56L1781.82 680.45L1785.39 681.47L1788.96 682.62L1792.53 683.92L1796.1 685.38L1799.67 687.04L1803.24 688.89L1806.81 690.96L1810.38 693.26L1813.95 695.82L1817.52 698.64L1821.09 701.73L1824.66 705.11L1828.23 708.77L1831.8 712.72L1835.37 716.94L1838.94 721.42L1842.51 726.14L1846.08 731.06L1849.65 736.15L1853.22 741.36L1856.79 746.64L1860.36 751.95L1863.93 757.23L1867.5 762.43L1871.07 767.51L1874.64 772.42L1878.21 777.12L1881.78 781.58L1885.35 785.78L1888.92 789.71L1892.49 793.36L1896.06 796.71L1899.63 799.79L1903.2 802.59" stroke="#000" stroke-width="1.5" fill="none"/>
<path d="M1689 688.68L1692.57 688.71L1696.14 688.73L1699.71 688.77L1703.28 688.8L1706.85 688.85L1710.42 688.9L1713.99 688.96L1717.56 689.02L1721.13 689.1L1724.7 689.2L1728.27 689.3L1731.84 689.43L1735.41 689.57L1738.98 689.74L1742.55 689.94L1746.12 690.17L1749.69 690.43L1753.26 690.74L1756.83 691.09L1760.4 691.51L1763.97 691.99L1767.54 692.54L1771.11 693.17L1774.68 693.91L1778.25 694.76L1781.82 695.73L1785.39 696.84L1788.96 698.12L1792.53 699.57L1796.1 701.22L1799.67 703.09L1803.24 705.2L1806.81 707.57L1810.38 710.21L1813.95 713.15L1817.52 716.38L1821.09 719.92L1824.66 723.76L1828.23 727.9L1831.8 732.32L1835.37 736.98L1838.94 741.85L1842.51 746.88L1846.08 752.03L1849.65 757.24L1853.22 762.43L1856.79 767.56L1860.36 772.57L1863.93 777.4L1867.5 782.02L1871.07 786.38L1874.64 790.46L1878.21 794.24L1881.78 797.72L1885.35 800.9L1888.92 803.77L1892.49 806.36L1896.06 808.68L1899.63 810.74L1903.2 812.56" stroke="#000" stroke-width="1.5" fill="none"/>
<path d="M1689 680.08V661.06M1684 661.06h10M1684 680.08h10" stroke="#000" stroke-width="1.5" fill="none"/>
<rect x="1684.6" y="666.17" width="8.8" height="8.8" fill="#fff" stroke="#000" stroke-width="1.7"/>
<path d="M1742.55 677.97V661.06M1737.55 661.06h10M1737.55 677.97h10" stroke="#000" stroke-width="1.5" fill="none"/>
<rect x="1738.15" y="665.11" width="8.8" height="8.8" fill="#fff" stroke="#000" stroke-width="1.7"/>
<path d="M1796.1 702.28V687.48M1791.1 687.48h10M1791.1 702.28h10" stroke="#000" stroke-width="1.5" fill="none"/>
<rect x="1791.7" y="690.48" width="8.8" height="8.8" fill="#fff" stroke="#000" stroke-width="1.7"/>
<path d="M1849.65 740.34V729.77M1844.65 729.77h10M1844.65 740.34h10" stroke="#000" stroke-width="1.5" fill="none"/>
<rect x="1845.25" y="730.65" width="8.8" height="8.8" fill="#fff" stroke="#000" stroke-width="1.7"/>
<path d="M1903.2 802.71V798.48M1898.2 798.48h10M1898.2 802.71h10" stroke="#000" stroke-width="1.5" fill="none"/>
<rect x="1898.8" y="796.19" width="8.8" height="8.8" fill="#fff" stroke="#000" stroke-width="1.7"/>
<path d="M1689 707.57V677.97M1684 677.97h10M1684 707.57h10" stroke="#000" stroke-width="1.5" fill="none"/>
<rect x="1683.9" y="687.67" width="10.2" height="10.2" fill="#000"/>
<path d="M1742.55 699.11V682.2M1737.55 682.2h10M1737.55 699.11h10" stroke="#000" stroke-width="1.5" fill="none"/>
<rect x="1737.45" y="685.55" width="10.2" height="10.2" fill="#000"/>
<path d="M1796.1 708.62V689.6M1791.1 689.6h10M1791.1 708.62h10" stroke="#000" stroke-width="1.5" fill="none"/>
<rect x="1791" y="694.01" width="10.2" height="10.2" fill="#000"/>
<path d="M1849.65 774.16V748.79M1844.65 748.79h10M1844.65 774.16h10" stroke="#000" stroke-width="1.5" fill="none"/>
<rect x="1844.55" y="756.38" width="10.2" height="10.2" fill="#000"/>
<path d="M1903.2 815.39V811.16M1898.2 811.16h10M1898.2 815.39h10" stroke="#000" stroke-width="1.5" fill="none"/>
<rect x="1898.1" y="808.18" width="10.2" height="10.2" fill="#000"/>
<path d="M1662.1 644.4V898.9M1652.6 898.9H1929.4M1652.6 856.62h9.5M1652.6 814.33h9.5M1652.6 772.05h9.5M1652.6 729.77h9.5M1652.6 687.48h9.5M1652.6 645.2h9.5M1689 898.9v8M1742.2 898.9v8M1796 898.9v8M1849.4 898.9v8M1903.2 898.9v8" stroke="#000" stroke-width="1.8" fill="none"/>
<path d="M1667.69 898.9v4.6M1672.88 898.9v4.6M1677.12 898.9v4.6M1680.71 898.9v4.6M1683.81 898.9v4.6M1686.55 898.9v4.6M1705.12 898.9v4.6M1714.55 898.9v4.6M1721.24 898.9v4.6M1726.43 898.9v4.6M1730.67 898.9v4.6M1734.26 898.9v4.6M1737.36 898.9v4.6M1740.1 898.9v4.6M1758.67 898.9v4.6M1768.1 898.9v4.6M1774.79 898.9v4.6M1779.98 898.9v4.6M1784.22 898.9v4.6M1787.81 898.9v4.6M1790.91 898.9v4.6M1793.65 898.9v4.6M1812.22 898.9v4.6M1821.65 898.9v4.6M1828.34 898.9v4.6M1833.53 898.9v4.6M1837.77 898.9v4.6M1841.36 898.9v4.6M1844.46 898.9v4.6M1847.2 898.9v4.6M1865.77 898.9v4.6M1875.2 898.9v4.6M1881.89 898.9v4.6M1887.08 898.9v4.6M1891.32 898.9v4.6M1894.91 898.9v4.6M1898.01 898.9v4.6M1900.75 898.9v4.6M1919.32 898.9v4.6M1928.75 898.9v4.6" stroke="#000" stroke-width="1.2" fill="none"/>
<text x="1646.1" y="908.1" font-size="27" text-anchor="end">0</text>
<text x="1646.1" y="865.82" font-size="27" text-anchor="end">20</text>
<text x="1646.1" y="823.53" font-size="27" text-anchor="end">40</text>
<text x="1646.1" y="781.25" font-size="27" text-anchor="end">60</text>
<text x="1646.1" y="738.97" font-size="27" text-anchor="end">80</text>
<text x="1646.1" y="696.68" font-size="27" text-anchor="end">100</text>
<text x="1646.1" y="654.4" font-size="27" text-anchor="end">120</text>
<text x="1689" y="938.7" font-size="27.2" text-anchor="middle">0.01</text>
<text x="1742.2" y="938.7" font-size="27.2" text-anchor="middle">0.1</text>
<text x="1796" y="938.7" font-size="27.2" text-anchor="middle">1</text>
<text x="1849.4" y="938.7" font-size="27.2" text-anchor="middle">10</text>
<text x="1903.2" y="938.7" font-size="27.2" text-anchor="middle">100</text>
<text x="1796" y="972.4" font-size="27.2" text-anchor="middle">MK-8776 (<tspan font-style="italic">μ</tspan>M), 72 h</text>
<text font-size="27.2" text-anchor="middle" transform="translate(1584.1 770.5) rotate(-90)">Viability (%)</text>
<path d="M1690.6 832.2h37" stroke="#000" stroke-width="1.5" fill="none"/>
<rect x="1705" y="828.1" width="8.2" height="8.2" fill="#fff" stroke="#000" stroke-width="1.6"/>
<text x="1732.6" y="842.4" font-size="27.2">A3C<tspan dy="-9.79" font-size="16.32">NC</tspan></text>
<path d="M1690.6 865.7h37" stroke="#000" stroke-width="1.5" fill="none"/>
<rect x="1704.4" y="861" width="9.4" height="9.4" fill="#000"/>
<text x="1732.6" y="875.9" font-size="27.2">A3C<tspan dy="-9.79" font-size="16.32">OE</tspan></text>
</g>
<g id="panelD">
<text x="6" y="1183" font-size="45" font-weight="bold">D</text>
<defs><radialGradient id="cg"><stop offset="0" stop-color="#000"/><stop offset="0.7" stop-color="#000" stop-opacity="0.96"/><stop offset="0.88" stop-color="#000" stop-opacity="0.7"/><stop offset="1" stop-color="#000" stop-opacity="0"/></radialGradient><radialGradient id="cs"><stop offset="0" stop-color="#000"/><stop offset="0.5" stop-color="#000" stop-opacity="0.6"/><stop offset="1" stop-color="#000" stop-opacity="0"/></radialGradient><filter id="cf" x="0" y="0" width="100%" height="100%" color-interpolation-filters="sRGB"><feTurbulence type="fractalNoise" baseFrequency="0.075" numOctaves="3" seed="7" result="t"/><feDisplacementMap in="SourceGraphic" in2="t" scale="8" xChannelSelector="R" yChannelSelector="G" result="d"/><feGaussianBlur in="d" stdDeviation="1.2" result="b"/><feTurbulence type="fractalNoise" baseFrequency="0.6" numOctaves="2" seed="2" result="n"/><feColorMatrix in="n" type="matrix" values="0 0 0 0 0 0 0 0 0 0 0 0 0 0 0 1 0 0 0 0" result="na"/><feComposite in="b" in2="na" operator="arithmetic" k1="0" k2="1.6" k3="1.1" k4="-0.79" result="m"/><feComponentTransfer in="m" result="m2"><feFuncR type="discrete" tableValues="0"/><feFuncG type="discrete" tableValues="0"/><feFuncB type="discrete" tableValues="0"/></feComponentTransfer><feGaussianBlur in="m2" stdDeviation="0.6" result="g"/><feGaussianBlur in="d" stdDeviation="2.6" result="h0"/><feComponentTransfer in="h0" result="h"><feFuncA type="linear" slope="0.38"/></feComponentTransfer><feMerge><feMergeNode in="h"/><feMergeNode in="g"/></feMerge></filter><filter id="sf" x="0" y="0" width="100%" height="100%" color-interpolation-filters="sRGB"><feTurbulence type="fractalNoise" baseFrequency="0.85" numOctaves="1" seed="5" result="n"/><feColorMatrix in="n" type="matrix" values="0 0 0 0 0 0 0 0 0 0 0 0 0 0 0 1 0 0 0 0" result="na"/><feComposite in="SourceGraphic" in2="na" operator="arithmetic" k1="0" k2="0.86" k3="-1" k4="0.17" result="m0"/><feComponentTransfer in="m0" result="m"><feFuncR type="discrete" tableValues="0"/><feFuncG type="discrete" tableValues="0"/><feFuncB type="discrete" tableValues="0"/><feFuncA type="linear" slope="14" intercept="0"/></feComponentTransfer><feGaussianBlur in="m" stdDeviation="0.95"/></filter>
<clipPath id="bc00"><rect x="58.6" y="1155.8" width="177.3" height="177"/></clipPath>
<linearGradient id="rm00" x1="0.85" y1="0.15" x2="0.15" y2="0.85"><stop offset="0" stop-color="#c8c8c8"/><stop offset="0.55" stop-color="#888"/><stop offset="1" stop-color="#222"/></linearGradient>
<clipPath id="bc01"><rect x="238.1" y="1155.8" width="177.3" height="177"/></clipPath>
<linearGradient id="rm01" x1="0.67" y1="0.03" x2="0.33" y2="0.97"><stop offset="0" stop-color="#c8c8c8"/><stop offset="0.55" stop-color="#888"/><stop offset="1" stop-color="#222"/></linearGradient>
<clipPath id="bc02"><rect x="418.2" y="1155.8" width="177.3" height="177"/></clipPath>
<linearGradient id="rm02" x1="0.5" y1="1" x2="0.5" y2="0"><stop offset="0" stop-color="#c8c8c8"/><stop offset="0.55" stop-color="#888"/><stop offset="1" stop-color="#222"/></linearGradient>
<clipPath id="bc03"><rect x="597.6" y="1155.8" width="177.3" height="177"/></clipPath>
<linearGradient id="rm03" x1="0.5" y1="0" x2="0.5" y2="1"><stop offset="0" stop-color="#c8c8c8"/><stop offset="0.55" stop-color="#888"/><stop offset="1" stop-color="#222"/></linearGradient>
<clipPath id="bc04"><rect x="777" y="1155.8" width="177.3" height="177"/></clipPath>
<linearGradient id="rm04" x1="0.15" y1="0.85" x2="0.85" y2="0.15"><stop offset="0" stop-color="#c8c8c8"/><stop offset="0.55" stop-color="#888"/><stop offset="1" stop-color="#222"/></linearGradient>
<clipPath id="bc05"><rect x="956.7" y="1155.8" width="177.3" height="177"/></clipPath>
<linearGradient id="rm05" x1="0.75" y1="0.93" x2="0.25" y2="0.07"><stop offset="0" stop-color="#c8c8c8"/><stop offset="0.55" stop-color="#888"/><stop offset="1" stop-color="#222"/></linearGradient>
<clipPath id="bc10"><rect x="58.6" y="1336.6" width="177.3" height="177"/></clipPath>
<linearGradient id="rm10" x1="0.85" y1="0.85" x2="0.15" y2="0.15"><stop offset="0" stop-color="#c8c8c8"/><stop offset="0.55" stop-color="#888"/><stop offset="1" stop-color="#222"/></linearGradient>
<clipPath id="bc11"><rect x="238.1" y="1336.6" width="177.3" height="177"/></clipPath>
<linearGradient id="rm11" x1="0.97" y1="0.33" x2="0.03" y2="0.67"><stop offset="0" stop-color="#c8c8c8"/><stop offset="0.55" stop-color="#888"/><stop offset="1" stop-color="#222"/></linearGradient>
<clipPath id="bc12"><rect x="418.2" y="1336.6" width="177.3" height="177"/></clipPath>
<linearGradient id="rm12" x1="0.79" y1="0.09" x2="0.21" y2="0.91"><stop offset="0" stop-color="#c8c8c8"/><stop offset="0.55" stop-color="#888"/><stop offset="1" stop-color="#222"/></linearGradient>
<clipPath id="bc13"><rect x="597.6" y="1336.6" width="177.3" height="177"/></clipPath>
<linearGradient id="rm13" x1="0.25" y1="0.07" x2="0.75" y2="0.93"><stop offset="0" stop-color="#c8c8c8"/><stop offset="0.55" stop-color="#888"/><stop offset="1" stop-color="#222"/></linearGradient>
<clipPath id="bc14"><rect x="777" y="1336.6" width="177.3" height="177"/></clipPath>
<linearGradient id="rm14" x1="0.15" y1="0.15" x2="0.85" y2="0.85"><stop offset="0" stop-color="#c8c8c8"/><stop offset="0.55" stop-color="#888"/><stop offset="1" stop-color="#222"/></linearGradient>
<clipPath id="bc15"><rect x="956.7" y="1336.6" width="177.3" height="177"/></clipPath>
<linearGradient id="rm15" x1="0.25" y1="0.07" x2="0.75" y2="0.93"><stop offset="0" stop-color="#c8c8c8"/><stop offset="0.55" stop-color="#888"/><stop offset="1" stop-color="#222"/></linearGradient>
</defs>
<g clip-path="url(#bc00)">
<rect x="58.6" y="1155.8" width="177.3" height="177" fill="#fdfdfd"/>
<circle cx="147.85" cy="1244.82" r="86.57" fill="none" stroke="#ddd" stroke-width="2.6"/>
<circle cx="147.85" cy="1244.82" r="87.87" fill="none" stroke="url(#rm00)" stroke-width="1.1" stroke-opacity="0.75"/>
<circle cx="147.85" cy="1244.82" r="85.07" fill="#fafafa" stroke="url(#rm00)" stroke-width="1.3"/>
<clipPath id="wc00"><circle cx="147.8" cy="1244.8" r="84.5"/></clipPath>
<g clip-path="url(#wc00)">
<g filter="url(#cf)" fill="url(#cg)">
<rect x="58.6" y="1155.8" width="177.3" height="177" fill="#fff" fill-opacity="0"/>
<g fill-opacity="0.28"><circle cx="185.4" cy="1286.3" r="7.5"/></g>
<g fill-opacity="0.38"><circle cx="211.1" cy="1249.8" r="6.2"/><circle cx="99.4" cy="1306.1" r="6.2"/></g>
<g fill-opacity="0.47"><circle cx="158.7" cy="1221.1" r="6.2"/><circle cx="182.4" cy="1244.8" r="5"/></g>
<g fill-opacity="0.52"><circle cx="149.8" cy="1225.1" r="7.5"/><circle cx="139" cy="1225.1" r="6.2"/></g>
<g fill-opacity="0.57"><circle cx="204.2" cy="1236.9" r="12.4"/><circle cx="186.4" cy="1227" r="7.5"/><circle cx="84.6" cy="1205.3" r="7.5"/></g>
<g fill-opacity="0.66"><circle cx="141.9" cy="1172.7" r="12.4"/><circle cx="99.9" cy="1295.2" r="4.4"/><circle cx="196.2" cy="1312" r="7.5"/><circle cx="195.3" cy="1179.6" r="10"/></g>
<g fill-opacity="0.71"><circle cx="167.6" cy="1211.2" r="11.2"/><circle cx="124.1" cy="1177.7" r="10"/></g>
<g fill-opacity="0.76"><circle cx="187.4" cy="1194.4" r="16.2"/><circle cx="74.8" cy="1229" r="10"/><circle cx="74.8" cy="1248.8" r="12.4"/><circle cx="221.9" cy="1272.5" r="8.7"/><circle cx="84.6" cy="1263.6" r="13.7"/><circle cx="181.4" cy="1308" r="8.7"/><circle cx="168.6" cy="1319.9" r="11.2"/><circle cx="199.2" cy="1292.2" r="3.7"/><circle cx="107.4" cy="1187.5" r="7.5"/></g>
<g fill-opacity="0.81"><circle cx="166.6" cy="1170.7" r="10"/><circle cx="209.1" cy="1209.3" r="14.9"/><circle cx="93.5" cy="1219.1" r="10"/><circle cx="196.2" cy="1256.7" r="6.2"/><circle cx="203.2" cy="1268.5" r="11.2"/><circle cx="213" cy="1288.3" r="11.2"/><circle cx="99.4" cy="1263.6" r="13.7"/><circle cx="154.8" cy="1321.9" r="8.7"/></g>
<g fill-opacity="0.85"><circle cx="149.8" cy="1194.4" r="16.2"/><circle cx="218" cy="1219.1" r="10"/><circle cx="225.9" cy="1257.7" r="7.5"/><circle cx="121.2" cy="1287.3" r="11.2"/></g>
<g fill-opacity="0.87"><circle cx="119.2" cy="1221.1" r="12.4"/><circle cx="157.7" cy="1242.8" r="10"/><circle cx="114.3" cy="1266.6" r="13.7"/><circle cx="166.6" cy="1274.5" r="14.9"/><circle cx="166.6" cy="1286.3" r="10"/><circle cx="141.9" cy="1286.3" r="13.7"/><circle cx="139" cy="1320.9" r="11.2"/></g>
<g fill-opacity="0.9"><circle cx="96.5" cy="1196.4" r="13.7"/><circle cx="110.3" cy="1232" r="13.7"/><circle cx="122.2" cy="1243.8" r="14.9"/><circle cx="141.9" cy="1250.8" r="11.2"/><circle cx="167.6" cy="1303.1" r="10"/><circle cx="115.3" cy="1308" r="6.2"/></g>
<g fill-opacity="0.92"><circle cx="116.2" cy="1199.4" r="13.7"/><circle cx="139.9" cy="1261.6" r="7.5"/><circle cx="149.8" cy="1298.2" r="14.9"/></g>
<g fill-opacity="0.95"><circle cx="185.9" cy="1262.6" r="7.5"/></g>
</g></g></g>
<rect x="58.6" y="1155.8" width="177.3" height="177" fill="none" stroke="#1a1a1a" stroke-width="1.5"/>
<g clip-path="url(#bc01)">
<rect x="238.1" y="1155.8" width="177.3" height="177" fill="#fdfdfd"/>
<circle cx="326.86" cy="1243.84" r="86.57" fill="none" stroke="#ddd" stroke-width="2.6"/>
<circle cx="326.86" cy="1243.84" r="87.87" fill="none" stroke="url(#rm01)" stroke-width="1.1" stroke-opacity="0.75"/>
<circle cx="326.86" cy="1243.84" r="85.07" fill="#fafafa" stroke="url(#rm01)" stroke-width="1.3"/>
<clipPath id="wc01"><circle cx="326.9" cy="1243.8" r="84.5"/></clipPath>
<g clip-path="url(#wc01)">
<g filter="url(#cf)" fill="url(#cg)">
<rect x="238.1" y="1155.8" width="177.3" height="177" fill="#fff" fill-opacity="0"/>
<g fill-opacity="0.38"><circle cx="288.3" cy="1249.8" r="7"/><circle cx="272.5" cy="1296.2" r="7"/></g>
<g fill-opacity="0.47"><circle cx="371.3" cy="1263.6" r="9.3"/><circle cx="351.6" cy="1302.1" r="8.2"/><circle cx="333.8" cy="1323.8" r="8.2"/></g>
<g fill-opacity="0.57"><circle cx="387.1" cy="1209.3" r="8.2"/><circle cx="290.3" cy="1232" r="8.2"/><circle cx="270.6" cy="1235.9" r="9.3"/><circle cx="337.7" cy="1282.4" r="9.3"/><circle cx="364.4" cy="1312" r="8.2"/><circle cx="260.7" cy="1288.3" r="5.8"/></g>
<g fill-opacity="0.66"><circle cx="377.2" cy="1194.4" r="8.2"/><circle cx="310.1" cy="1213.2" r="8.2"/><circle cx="325.9" cy="1227" r="8.2"/><circle cx="256.7" cy="1274.5" r="7"/></g>
<g fill-opacity="0.71"><circle cx="363.4" cy="1180.6" r="7"/></g>
<g fill-opacity="0.76"><circle cx="356.5" cy="1189.5" r="9.3"/><circle cx="373.3" cy="1205.3" r="8.2"/><circle cx="371.3" cy="1248.8" r="10.5"/><circle cx="387.1" cy="1248.8" r="8.2"/><circle cx="259.7" cy="1256.7" r="9.3"/></g>
<g fill-opacity="0.81"><circle cx="282.4" cy="1187.5" r="10.5"/><circle cx="385.1" cy="1236.9" r="10.5"/><circle cx="280.4" cy="1280.4" r="8.2"/><circle cx="284.4" cy="1298.2" r="8.2"/></g>
<g fill-opacity="0.85"><circle cx="298.2" cy="1178.6" r="9.3"/><circle cx="322.9" cy="1191.5" r="11.7"/><circle cx="299.2" cy="1202.4" r="10.5"/><circle cx="257.7" cy="1219.1" r="11.7"/><circle cx="361.4" cy="1211.2" r="10.5"/><circle cx="338.7" cy="1225.1" r="12.8"/><circle cx="373.3" cy="1228" r="12.8"/><circle cx="282.4" cy="1232" r="5.8"/><circle cx="394" cy="1261.6" r="8.2"/><circle cx="251.8" cy="1248.8" r="10.5"/><circle cx="354.5" cy="1291.2" r="9.3"/><circle cx="284.4" cy="1306.1" r="7"/></g>
<g fill-opacity="0.87"><circle cx="388.1" cy="1282.4" r="10.5"/><circle cx="379.2" cy="1295.2" r="7"/><circle cx="312" cy="1319.9" r="15.2"/><circle cx="342.7" cy="1314" r="10.5"/></g>
<g fill-opacity="0.9"><circle cx="341.7" cy="1194.4" r="12.8"/><circle cx="340.7" cy="1211.2" r="11.7"/></g>
<g fill-opacity="0.92"><circle cx="279.4" cy="1210.3" r="10.5"/><circle cx="308.1" cy="1236.9" r="16.3"/><circle cx="328.8" cy="1253.7" r="12.8"/><circle cx="354.5" cy="1251.7" r="15.2"/><circle cx="304.1" cy="1285.3" r="12.8"/><circle cx="316" cy="1304.1" r="15.2"/></g>
</g></g></g>
<rect x="238.1" y="1155.8" width="177.3" height="177" fill="none" stroke="#1a1a1a" stroke-width="1.5"/>
<g clip-path="url(#bc02)">
<rect x="418.2" y="1155.8" width="177.3" height="177" fill="#fdfdfd"/>
<circle cx="505.86" cy="1244.82" r="87.06" fill="none" stroke="#ddd" stroke-width="2.6"/>
<circle cx="505.86" cy="1244.82" r="88.36" fill="none" stroke="url(#rm02)" stroke-width="1.1" stroke-opacity="0.75"/>
<circle cx="505.86" cy="1244.82" r="85.56" fill="#fafafa" stroke="url(#rm02)" stroke-width="1.3"/>
<clipPath id="wc02"><circle cx="505.9" cy="1244.8" r="85"/></clipPath>
<g clip-path="url(#wc02)">
<g filter="url(#cf)" fill="url(#cg)">
<rect x="418.2" y="1155.8" width="177.3" height="177" fill="#fff" fill-opacity="0"/>
<g fill-opacity="0.28"><circle cx="537.5" cy="1194.4" r="4.3"/><circle cx="430.8" cy="1258.7" r="3.8"/></g>
<g fill-opacity="0.38"><circle cx="462.4" cy="1174.7" r="4.3"/><circle cx="455.5" cy="1254.7" r="5.4"/><circle cx="480.2" cy="1261.6" r="2.7"/></g>
<g fill-opacity="0.47"><circle cx="499.9" cy="1163.8" r="6.5"/><circle cx="493" cy="1203.3" r="5.4"/><circle cx="561.2" cy="1226.1" r="3.3"/><circle cx="482.6" cy="1241.9" r="3.3"/><circle cx="466.4" cy="1253.7" r="4.3"/><circle cx="559.2" cy="1281.4" r="2.7"/></g>
<g fill-opacity="0.57"><circle cx="519.2" cy="1197.4" r="5.4"/><circle cx="483.1" cy="1308" r="8.7"/><circle cx="500.9" cy="1290.3" r="5.4"/><circle cx="528.1" cy="1295.2" r="7.6"/><circle cx="528.6" cy="1313" r="5.4"/></g>
<g fill-opacity="0.62"><circle cx="543.4" cy="1195.4" r="5.4"/></g>
<g fill-opacity="0.66"><circle cx="565.1" cy="1196.4" r="6"/></g>
<g fill-opacity="0.71"><circle cx="468.3" cy="1262.1" r="4.9"/></g>
<g fill-opacity="0.76"><circle cx="537" cy="1170.2" r="4.3"/><circle cx="457.5" cy="1237.9" r="8.7"/><circle cx="469.3" cy="1299.2" r="10.9"/><circle cx="516.7" cy="1307.1" r="8.1"/></g>
<g fill-opacity="0.81"><circle cx="465.9" cy="1185.6" r="4.3"/><circle cx="477.2" cy="1191.5" r="6"/><circle cx="447.6" cy="1211.2" r="12"/><circle cx="575" cy="1216.2" r="7.6"/><circle cx="542.4" cy="1238.9" r="7.6"/></g>
<g fill-opacity="0.84"><circle cx="499.9" cy="1219.1" r="13"/></g>
<g fill-opacity="0.85"><circle cx="512.8" cy="1222.1" r="9.2"/><circle cx="497" cy="1229" r="7.6"/><circle cx="575" cy="1236.9" r="13"/><circle cx="494.5" cy="1242.4" r="6.3"/><circle cx="517.7" cy="1258.7" r="9.2"/><circle cx="552.3" cy="1268.5" r="10.9"/><circle cx="563.2" cy="1267.5" r="8.7"/><circle cx="459.4" cy="1268.5" r="7.6"/><circle cx="485.1" cy="1287.3" r="16.3"/></g>
<g fill-opacity="0.87"><circle cx="514.8" cy="1182.6" r="10.3"/><circle cx="447.1" cy="1190" r="6.5"/><circle cx="445.6" cy="1229" r="13"/><circle cx="536.5" cy="1217.2" r="13"/><circle cx="529.6" cy="1264.6" r="9.2"/><circle cx="501.9" cy="1272.5" r="10.9"/><circle cx="548.3" cy="1298.2" r="10.9"/></g>
<g fill-opacity="0.9"><circle cx="527.6" cy="1239.9" r="14.7"/><circle cx="553.3" cy="1247.8" r="13"/></g>
<g fill-opacity="0.92"><circle cx="506.8" cy="1315.9" r="12"/></g>
<g fill-opacity="0.95"><circle cx="544.9" cy="1183.6" r="5.4"/><circle cx="473.8" cy="1209.8" r="10.3"/></g>
</g></g></g>
<rect x="418.2" y="1155.8" width="177.3" height="177" fill="none" stroke="#1a1a1a" stroke-width="1.5"/>
<g clip-path="url(#bc03)">
<rect x="597.6" y="1155.8" width="177.3" height="177" fill="#fdfdfd"/>
<circle cx="686.85" cy="1243.84" r="86.57" fill="none" stroke="#ddd" stroke-width="2.6"/>
<circle cx="686.85" cy="1243.84" r="87.87" fill="none" stroke="url(#rm03)" stroke-width="1.1" stroke-opacity="0.75"/>
<circle cx="686.85" cy="1243.84" r="85.07" fill="#fafafa" stroke="url(#rm03)" stroke-width="1.3"/>
<clipPath id="wc03"><circle cx="686.8" cy="1243.8" r="84.5"/></clipPath>
<g clip-path="url(#wc03)">
<g filter="url(#cf)" fill="url(#cg)">
<rect x="597.6" y="1155.8" width="177.3" height="177" fill="#fff" fill-opacity="0"/>
<g fill-opacity="0.28"><circle cx="653.3" cy="1259.6" r="3.7"/></g>
<g fill-opacity="0.33"><circle cx="663.1" cy="1259.6" r="4.3"/></g>
<g fill-opacity="0.47"><circle cx="702.7" cy="1187.5" r="4.9"/><circle cx="662.2" cy="1171.7" r="6.2"/><circle cx="756" cy="1238.9" r="9.9"/><circle cx="692.8" cy="1249.8" r="6.2"/><circle cx="658.2" cy="1312" r="6.2"/><circle cx="761.9" cy="1253.7" r="7.4"/></g>
<g fill-opacity="0.57"><circle cx="700.7" cy="1179.6" r="7.4"/><circle cx="693.8" cy="1219.1" r="8.6"/><circle cx="642.4" cy="1247.8" r="7.4"/><circle cx="726.4" cy="1298.2" r="4.9"/><circle cx="717.5" cy="1312" r="7.4"/><circle cx="742.2" cy="1296.2" r="8.6"/></g>
<g fill-opacity="0.62"><circle cx="717" cy="1249.8" r="4.9"/></g>
<g fill-opacity="0.66"><circle cx="646.4" cy="1179.6" r="5.6"/><circle cx="640.4" cy="1200.4" r="7.4"/><circle cx="729.3" cy="1233" r="8.6"/><circle cx="613.8" cy="1238.9" r="8.6"/><circle cx="752" cy="1268.5" r="12.3"/><circle cx="732.3" cy="1281.4" r="7.4"/><circle cx="617.7" cy="1276.4" r="8.6"/><circle cx="653.3" cy="1296.2" r="7.4"/><circle cx="678" cy="1317.9" r="9.9"/></g>
<g fill-opacity="0.71"><circle cx="754" cy="1221.1" r="13.6"/></g>
<g fill-opacity="0.76"><circle cx="726.4" cy="1179.6" r="11.1"/><circle cx="742.2" cy="1197.4" r="9.9"/><circle cx="649.3" cy="1284.3" r="7.4"/><circle cx="700.7" cy="1317.9" r="14.8"/></g>
<g fill-opacity="0.81"><circle cx="623.6" cy="1201.4" r="9.9"/><circle cx="617.7" cy="1253.7" r="11.1"/><circle cx="709.6" cy="1265.6" r="9.9"/><circle cx="693.8" cy="1286.3" r="13.6"/><circle cx="685.9" cy="1310" r="12.3"/><circle cx="712.5" cy="1296.2" r="7.4"/></g>
<g fill-opacity="0.85"><circle cx="673" cy="1246.8" r="11.1"/><circle cx="760.9" cy="1272.5" r="7.4"/><circle cx="675" cy="1293.2" r="13.6"/><circle cx="669.1" cy="1304.1" r="11.1"/></g>
<g fill-opacity="0.87"><circle cx="633.5" cy="1256.7" r="13.6"/><circle cx="639.4" cy="1300.1" r="13.6"/></g>
<g fill-opacity="0.9"><circle cx="678.9" cy="1177.7" r="10.5"/><circle cx="630.5" cy="1221.1" r="12.3"/><circle cx="745.1" cy="1252.7" r="13.6"/><circle cx="642.4" cy="1260.6" r="9.9"/><circle cx="692.8" cy="1259.6" r="6.8"/></g>
<g fill-opacity="0.92"><circle cx="678" cy="1200.4" r="15.4"/><circle cx="719.4" cy="1195.4" r="8.6"/><circle cx="719.4" cy="1211.2" r="12.3"/><circle cx="649.3" cy="1218.2" r="9.3"/><circle cx="664.1" cy="1221.1" r="9.9"/><circle cx="661.2" cy="1234.9" r="9.9"/><circle cx="735.2" cy="1266.6" r="16.1"/><circle cx="716.5" cy="1281.4" r="10.5"/></g>
<g fill-opacity="0.93"><circle cx="680.9" cy="1234.9" r="17.3"/></g>
</g></g></g>
<rect x="597.6" y="1155.8" width="177.3" height="177" fill="none" stroke="#1a1a1a" stroke-width="1.5"/>
<g clip-path="url(#bc04)">
<rect x="777" y="1155.8" width="177.3" height="177" fill="#fdfdfd"/>
<circle cx="865.85" cy="1243.84" r="87.06" fill="none" stroke="#ddd" stroke-width="2.6"/>
<circle cx="865.85" cy="1243.84" r="88.36" fill="none" stroke="url(#rm04)" stroke-width="1.1" stroke-opacity="0.75"/>
<circle cx="865.85" cy="1243.84" r="85.56" fill="#fafafa" stroke="url(#rm04)" stroke-width="1.3"/>
<clipPath id="wc04"><circle cx="865.8" cy="1243.8" r="85"/></clipPath>
<g clip-path="url(#wc04)">
<g filter="url(#sf)" fill="url(#cs)"><rect x="777" y="1155.8" width="177.3" height="177" fill="#fff" fill-opacity="0"/>
<g fill-opacity="0.32"><circle cx="892.5" cy="1241.9" r="10.1"/></g>
<g fill-opacity="0.34"><circle cx="852" cy="1213.2" r="6.7"/></g>
<g fill-opacity="0.38"><circle cx="906.3" cy="1283.3" r="8.4"/><circle cx="935" cy="1275.4" r="6.7"/></g>
<g fill-opacity="0.42"><circle cx="829.3" cy="1193.5" r="4.2"/><circle cx="793.7" cy="1226.6" r="3.4"/></g>
<g fill-opacity="0.46"><circle cx="857" cy="1275.4" r="6.7"/><circle cx="880.7" cy="1286.3" r="7.6"/></g>
<g fill-opacity="0.54"><circle cx="882.6" cy="1209.8" r="6.7"/><circle cx="872.8" cy="1259.6" r="8.4"/></g>
<g fill-opacity="0.58"><circle cx="843.1" cy="1260.1" r="6.7"/></g>
<circle cx="865.8" cy="1243.8" r="84" fill="#000" fill-opacity="0.1"/>
</g>
<g filter="url(#cf)" fill="url(#cg)">
<rect x="777" y="1155.8" width="177.3" height="177" fill="#fff" fill-opacity="0"/>
<g fill-opacity="0.57"><circle cx="862.9" cy="1229" r="3.8"/><circle cx="812.5" cy="1283.3" r="4.9"/><circle cx="838.2" cy="1306.1" r="0.9"/><circle cx="858.4" cy="1236.9" r="0.8"/></g>
<g fill-opacity="0.66"><circle cx="838.2" cy="1271.5" r="0.9"/></g>
<g fill-opacity="0.71"><circle cx="805.6" cy="1242.8" r="4.9"/></g>
<g fill-opacity="0.76"><circle cx="909.3" cy="1175.2" r="3.8"/><circle cx="855.5" cy="1251.5" r="1.1"/><circle cx="886.6" cy="1181.6" r="0.9"/></g>
<g fill-opacity="0.81"><circle cx="842.1" cy="1205.8" r="4.3"/></g>
<g fill-opacity="0.95"><circle cx="825.4" cy="1225.1" r="7.1"/><circle cx="835" cy="1243.8" r="6.3"/></g>
</g></g></g>
<rect x="777" y="1155.8" width="177.3" height="177" fill="none" stroke="#1a1a1a" stroke-width="1.5"/>
<g clip-path="url(#bc05)">
<rect x="956.7" y="1155.8" width="177.3" height="177" fill="#fdfdfd"/>
<circle cx="1044.86" cy="1242.85" r="87.06" fill="none" stroke="#ddd" stroke-width="2.6"/>
<circle cx="1044.86" cy="1242.85" r="88.36" fill="none" stroke="url(#rm05)" stroke-width="1.1" stroke-opacity="0.75"/>
<circle cx="1044.86" cy="1242.85" r="85.56" fill="#fafafa" stroke="url(#rm05)" stroke-width="1.3"/>
<clipPath id="wc05"><circle cx="1044.9" cy="1242.8" r="85"/></clipPath>
<g clip-path="url(#wc05)">
<g filter="url(#sf)" fill="url(#cs)"><rect x="956.7" y="1155.8" width="177.3" height="177" fill="#fff" fill-opacity="0"/>
<g fill-opacity="0.34"><circle cx="1014.2" cy="1250.8" r="6.7"/><circle cx="1047.8" cy="1258.7" r="6.7"/></g>
<g fill-opacity="0.36"><circle cx="1036" cy="1177.7" r="8.4"/><circle cx="1125.9" cy="1248.8" r="6.7"/></g>
<g fill-opacity="0.38"><circle cx="992.5" cy="1238.9" r="8.4"/><circle cx="982.6" cy="1240.9" r="5"/><circle cx="996.5" cy="1251.7" r="10.1"/><circle cx="1042.9" cy="1243.3" r="6.7"/><circle cx="991.5" cy="1274.5" r="6.7"/><circle cx="990.5" cy="1292.2" r="4.2"/></g>
<g fill-opacity="0.42"><circle cx="1040.9" cy="1189.5" r="11.8"/></g>
<g fill-opacity="0.5"><circle cx="1068.6" cy="1206.3" r="5"/></g>
<g fill-opacity="0.58"><circle cx="1028.6" cy="1270.5" r="10.9"/></g>
<circle cx="1044.9" cy="1242.8" r="84" fill="#000" fill-opacity="0.1"/>
</g>
<g filter="url(#cf)" fill="url(#cg)">
<rect x="956.7" y="1155.8" width="177.3" height="177" fill="#fff" fill-opacity="0"/>
<g fill-opacity="0.43"><circle cx="1000.9" cy="1278.9" r="3.8"/></g>
<g fill-opacity="0.47"><circle cx="1079.9" cy="1268" r="0.9"/><circle cx="1016.2" cy="1178.6" r="0.9"/></g>
<g fill-opacity="0.57"><circle cx="1018.7" cy="1198.9" r="4.3"/><circle cx="1046.8" cy="1214.7" r="1.1"/><circle cx="992.5" cy="1267" r="1.1"/></g>
<g fill-opacity="0.66"><circle cx="1007.8" cy="1221.1" r="4.1"/><circle cx="1017.2" cy="1301.6" r="3.8"/></g>
<g fill-opacity="0.95"><circle cx="1060.2" cy="1208.3" r="7.8"/><circle cx="1065.1" cy="1229.5" r="8.1"/><circle cx="1058.5" cy="1278.4" r="8.5"/><circle cx="1006.8" cy="1290.3" r="8.7"/></g>
</g></g></g>
<rect x="956.7" y="1155.8" width="177.3" height="177" fill="none" stroke="#1a1a1a" stroke-width="1.5"/>
<g clip-path="url(#bc10)">
<rect x="58.6" y="1336.6" width="177.3" height="177" fill="#fdfdfd"/>
<circle cx="146.86" cy="1424.85" r="87.06" fill="none" stroke="#ddd" stroke-width="2.6"/>
<circle cx="146.86" cy="1424.85" r="88.36" fill="none" stroke="url(#rm10)" stroke-width="1.1" stroke-opacity="0.75"/>
<circle cx="146.86" cy="1424.85" r="85.56" fill="#fafafa" stroke="url(#rm10)" stroke-width="1.3"/>
<clipPath id="wc10"><circle cx="146.9" cy="1424.8" r="85"/></clipPath>
<g clip-path="url(#wc10)">
<g filter="url(#cf)" fill="url(#cg)">
<rect x="58.6" y="1336.6" width="177.3" height="177" fill="#fff" fill-opacity="0"/>
<g fill-opacity="0.37"><circle cx="174" cy="1409" r="2.9"/><circle cx="162.7" cy="1354.7" r="3.5"/><circle cx="101.4" cy="1487.1" r="7"/><circle cx="143.9" cy="1480.2" r="4.7"/><circle cx="106.4" cy="1462.4" r="3.5"/></g>
<g fill-opacity="0.44"><circle cx="127.1" cy="1428.8" r="4.7"/><circle cx="116.2" cy="1427.8" r="4.7"/><circle cx="186.4" cy="1416.9" r="2.9"/></g>
<g fill-opacity="0.48"><circle cx="96" cy="1373.5" r="4.1"/><circle cx="93.5" cy="1440.7" r="5.2"/><circle cx="101.4" cy="1453.5" r="5.8"/><circle cx="213" cy="1416" r="5.2"/></g>
<g fill-opacity="0.52"><circle cx="87.6" cy="1366.6" r="4.7"/><circle cx="77.7" cy="1382.4" r="7"/><circle cx="95.5" cy="1386.3" r="5.8"/><circle cx="121.2" cy="1422.9" r="5.8"/><circle cx="90.6" cy="1420.9" r="4.7"/><circle cx="92.5" cy="1456.5" r="9.3"/><circle cx="147.8" cy="1452" r="4.7"/><circle cx="227.9" cy="1438.7" r="5.8"/><circle cx="224.9" cy="1406.1" r="10.5"/><circle cx="183.4" cy="1390.3" r="2.3"/><circle cx="197.2" cy="1377.9" r="4.1"/><circle cx="182.4" cy="1374.5" r="2.3"/><circle cx="149.8" cy="1359.7" r="5.8"/><circle cx="201.2" cy="1358.7" r="4.1"/><circle cx="146.9" cy="1465.3" r="8.2"/><circle cx="210.1" cy="1469.3" r="5.8"/><circle cx="79.7" cy="1469.3" r="2.9"/></g>
<g fill-opacity="0.55"><circle cx="103.4" cy="1356.7" r="5.8"/><circle cx="144.9" cy="1395.2" r="5.8"/><circle cx="103.4" cy="1424.8" r="6.4"/><circle cx="72.3" cy="1424.8" r="5.2"/><circle cx="81.7" cy="1452.5" r="5.2"/><circle cx="168.6" cy="1384.4" r="5.8"/><circle cx="154.8" cy="1472.3" r="8.2"/><circle cx="161.7" cy="1478.2" r="7"/></g>
<g fill-opacity="0.59"><circle cx="134" cy="1350.8" r="8.2"/><circle cx="78.7" cy="1403.1" r="4.7"/><circle cx="110.8" cy="1393.2" r="7"/><circle cx="124.6" cy="1392.3" r="5.2"/><circle cx="137" cy="1398.2" r="11.7"/><circle cx="141.9" cy="1414" r="8.2"/><circle cx="85.6" cy="1426.8" r="6.4"/><circle cx="69.8" cy="1440.7" r="6.4"/><circle cx="64.9" cy="1430.8" r="3.5"/><circle cx="122.2" cy="1438.7" r="7"/><circle cx="117.2" cy="1449.5" r="4.7"/><circle cx="75.7" cy="1460.4" r="5.2"/><circle cx="154.8" cy="1427.8" r="6.4"/><circle cx="156.7" cy="1447.6" r="4.7"/><circle cx="218" cy="1453.5" r="7"/><circle cx="206.1" cy="1405.1" r="6.4"/><circle cx="164.6" cy="1420.4" r="2.9"/><circle cx="159.7" cy="1392.3" r="3.5"/><circle cx="187.4" cy="1388.3" r="3.5"/><circle cx="190.3" cy="1379.4" r="2.9"/><circle cx="172.5" cy="1361.6" r="5.8"/><circle cx="163.7" cy="1370" r="6.4"/><circle cx="119.2" cy="1480.2" r="11.7"/><circle cx="167.6" cy="1459.4" r="5.8"/><circle cx="169.6" cy="1470.3" r="9.3"/><circle cx="189.3" cy="1468.3" r="5.2"/><circle cx="198.2" cy="1479.2" r="8.2"/><circle cx="164.6" cy="1494" r="9.3"/><circle cx="186.4" cy="1491" r="5.8"/><circle cx="147.8" cy="1498.9" r="5.2"/></g>
<g fill-opacity="0.61"><circle cx="134" cy="1490" r="11.7"/><circle cx="182.4" cy="1475.2" r="8.2"/><circle cx="177.5" cy="1487.1" r="9.3"/></g>
<g fill-opacity="0.63"><circle cx="86.6" cy="1395.2" r="11.7"/><circle cx="94.5" cy="1409" r="8.2"/><circle cx="108.3" cy="1414" r="8.7"/><circle cx="205.1" cy="1452.5" r="4.7"/><circle cx="152.8" cy="1372.5" r="5.2"/><circle cx="126.1" cy="1468.3" r="15.2"/><circle cx="107.4" cy="1476.2" r="4.7"/></g>
<g fill-opacity="0.65"><circle cx="112.3" cy="1444.6" r="8.2"/><circle cx="173.5" cy="1436.7" r="9.9"/><circle cx="217" cy="1433.7" r="7"/><circle cx="98.5" cy="1475.2" r="7"/></g>
<g fill-opacity="0.67"><circle cx="124.1" cy="1359.7" r="12.8"/><circle cx="205.1" cy="1434.7" r="10.5"/><circle cx="194.3" cy="1419.9" r="4.1"/></g>
</g></g></g>
<rect x="58.6" y="1336.6" width="177.3" height="177" fill="none" stroke="#1a1a1a" stroke-width="1.5"/>
<g clip-path="url(#bc11)">
<rect x="238.1" y="1336.6" width="177.3" height="177" fill="#fdfdfd"/>
<circle cx="326.37" cy="1424.85" r="86.57" fill="none" stroke="#ddd" stroke-width="2.6"/>
<circle cx="326.37" cy="1424.85" r="87.87" fill="none" stroke="url(#rm11)" stroke-width="1.1" stroke-opacity="0.75"/>
<circle cx="326.37" cy="1424.85" r="85.07" fill="#fafafa" stroke="url(#rm11)" stroke-width="1.3"/>
<clipPath id="wc11"><circle cx="326.4" cy="1424.8" r="84.5"/></clipPath>
<g clip-path="url(#wc11)">
<g filter="url(#cf)" fill="url(#cg)">
<rect x="238.1" y="1336.6" width="177.3" height="177" fill="#fff" fill-opacity="0"/>
<g fill-opacity="0.22"><circle cx="379.2" cy="1460.4" r="3.5"/></g>
<g fill-opacity="0.3"><circle cx="366.4" cy="1486.1" r="5.8"/><circle cx="307.1" cy="1482.1" r="3.5"/></g>
<g fill-opacity="0.33"><circle cx="324.9" cy="1357.7" r="4.7"/><circle cx="338.7" cy="1414" r="4.7"/></g>
<g fill-opacity="0.37"><circle cx="400.9" cy="1406.1" r="4.1"/><circle cx="356.5" cy="1426.8" r="4.1"/><circle cx="271.5" cy="1442.6" r="5.8"/><circle cx="284.4" cy="1454.5" r="3.5"/></g>
<g fill-opacity="0.44"><circle cx="373.3" cy="1389.3" r="4.7"/><circle cx="372.3" cy="1408.1" r="8.2"/><circle cx="259.7" cy="1409" r="4.7"/><circle cx="405.9" cy="1416.9" r="3.5"/><circle cx="279.4" cy="1482.1" r="5.2"/><circle cx="314" cy="1490" r="4.7"/></g>
<g fill-opacity="0.48"><circle cx="311.1" cy="1378.4" r="7"/><circle cx="319.9" cy="1403.1" r="4.7"/></g>
<g fill-opacity="0.52"><circle cx="288.3" cy="1364.6" r="5.2"/><circle cx="347.6" cy="1352.7" r="3.5"/><circle cx="290.3" cy="1380.4" r="5.2"/><circle cx="373.3" cy="1375.5" r="5.2"/><circle cx="327.8" cy="1402.1" r="5.8"/><circle cx="277.5" cy="1402.1" r="5.8"/><circle cx="274.5" cy="1421.9" r="4.7"/><circle cx="309.1" cy="1417.9" r="8.2"/><circle cx="399" cy="1432.8" r="5.8"/></g>
<g fill-opacity="0.55"><circle cx="303.2" cy="1351.8" r="5.8"/><circle cx="360.4" cy="1360.6" r="5.8"/><circle cx="326.9" cy="1378.4" r="5.8"/><circle cx="278.5" cy="1413" r="7"/><circle cx="382.2" cy="1430.8" r="5.8"/><circle cx="333.8" cy="1469.3" r="5.8"/><circle cx="343.7" cy="1466.3" r="7"/><circle cx="395" cy="1458.4" r="9.3"/><circle cx="353.5" cy="1493" r="7"/></g>
<g fill-opacity="0.58"><circle cx="372.3" cy="1449.5" r="5.2"/></g>
<g fill-opacity="0.59"><circle cx="318" cy="1348.8" r="7"/><circle cx="327.8" cy="1388.3" r="7"/><circle cx="362.4" cy="1381.4" r="8.2"/><circle cx="276.5" cy="1387.3" r="5.8"/><circle cx="254.8" cy="1383.4" r="4.7"/><circle cx="313" cy="1392.7" r="5.2"/><circle cx="311.1" cy="1400.2" r="5.2"/><circle cx="360.4" cy="1408.1" r="5.8"/><circle cx="353.5" cy="1420.9" r="5.2"/><circle cx="299.2" cy="1434.7" r="7"/><circle cx="298.2" cy="1441.6" r="5.8"/><circle cx="366.4" cy="1432.8" r="5.8"/><circle cx="353.5" cy="1445.6" r="10.5"/><circle cx="349.6" cy="1455.5" r="7"/><circle cx="308.1" cy="1454.5" r="5.2"/><circle cx="290.3" cy="1462.4" r="6.4"/><circle cx="392.1" cy="1468.3" r="5.2"/><circle cx="375.3" cy="1478.2" r="10.5"/><circle cx="299.2" cy="1488.1" r="3.5"/><circle cx="304.1" cy="1497.9" r="11.7"/><circle cx="328.8" cy="1501.9" r="8.2"/></g>
<g fill-opacity="0.61"><circle cx="288.3" cy="1416" r="5.2"/><circle cx="298.2" cy="1454.5" r="6.4"/><circle cx="333.8" cy="1456.5" r="5.2"/></g>
<g fill-opacity="0.63"><circle cx="351.6" cy="1361.6" r="8.2"/><circle cx="404.9" cy="1424.8" r="3.5"/><circle cx="254.8" cy="1420.9" r="10.5"/><circle cx="323.9" cy="1437.7" r="11.7"/><circle cx="329.8" cy="1429.8" r="4.7"/><circle cx="382.2" cy="1439.7" r="5.8"/><circle cx="322.9" cy="1460.4" r="7"/><circle cx="343.7" cy="1494" r="7"/></g>
<g fill-opacity="0.65"><circle cx="277.5" cy="1368.5" r="10.5"/><circle cx="265.6" cy="1390.3" r="11.7"/><circle cx="365.4" cy="1399.2" r="4.7"/><circle cx="249.8" cy="1435.7" r="9.3"/><circle cx="265.6" cy="1462.4" r="11.7"/><circle cx="275.5" cy="1470.3" r="8.2"/><circle cx="364.4" cy="1464.4" r="5.8"/></g>
<g fill-opacity="0.67"><circle cx="327.4" cy="1417.9" r="5.6"/><circle cx="257.7" cy="1447.6" r="11.7"/><circle cx="286.4" cy="1438.7" r="2.6"/><circle cx="319.9" cy="1443.6" r="5.8"/><circle cx="341.7" cy="1484.1" r="8.2"/></g>
</g></g></g>
<rect x="238.1" y="1336.6" width="177.3" height="177" fill="none" stroke="#1a1a1a" stroke-width="1.5"/>
<g clip-path="url(#bc12)">
<rect x="418.2" y="1336.6" width="177.3" height="177" fill="#fdfdfd"/>
<circle cx="507.84" cy="1426.82" r="87.55" fill="none" stroke="#ddd" stroke-width="2.6"/>
<circle cx="507.84" cy="1426.82" r="88.85" fill="none" stroke="url(#rm12)" stroke-width="1.1" stroke-opacity="0.75"/>
<circle cx="507.84" cy="1426.82" r="86.05" fill="#fafafa" stroke="url(#rm12)" stroke-width="1.3"/>
<clipPath id="wc12"><circle cx="507.8" cy="1426.8" r="85.5"/></clipPath>
<g clip-path="url(#wc12)">
<g filter="url(#cf)" fill="url(#cg)">
<rect x="418.2" y="1336.6" width="177.3" height="177" fill="#fff" fill-opacity="0"/>
<g fill-opacity="0.26"><circle cx="544.4" cy="1373.5" r="3.5"/></g>
<g fill-opacity="0.37"><circle cx="492" cy="1371.5" r="3.5"/><circle cx="516.2" cy="1396.2" r="2.3"/><circle cx="466.4" cy="1412" r="4.7"/><circle cx="587.8" cy="1422.9" r="5.8"/><circle cx="445.6" cy="1469.3" r="3.5"/><circle cx="500.4" cy="1491" r="2.6"/></g>
<g fill-opacity="0.41"><circle cx="544.4" cy="1412" r="4.7"/><circle cx="551.3" cy="1469.3" r="5.8"/></g>
<g fill-opacity="0.44"><circle cx="470.3" cy="1358.7" r="7"/><circle cx="481.2" cy="1373.5" r="4.7"/><circle cx="512.3" cy="1380.4" r="3.7"/><circle cx="553.3" cy="1394.2" r="3.5"/><circle cx="529.6" cy="1405.1" r="5.8"/><circle cx="484.1" cy="1419.9" r="2.1"/><circle cx="519.7" cy="1438.7" r="5.8"/><circle cx="512.8" cy="1475.2" r="4.1"/><circle cx="436.7" cy="1467.3" r="4.7"/><circle cx="490.1" cy="1478.2" r="4.7"/><circle cx="471.3" cy="1483.1" r="3.5"/><circle cx="538.5" cy="1493" r="4.4"/><circle cx="518.7" cy="1502.9" r="5.2"/></g>
<g fill-opacity="0.48"><circle cx="521.2" cy="1410.5" r="4.7"/></g>
<g fill-opacity="0.52"><circle cx="475.7" cy="1408.1" r="3.5"/><circle cx="575" cy="1420.9" r="3.5"/><circle cx="470.3" cy="1455.5" r="2.9"/><circle cx="465.4" cy="1497.9" r="2.9"/></g>
<g fill-opacity="0.53"><circle cx="483.1" cy="1429.8" r="7"/><circle cx="491" cy="1462.4" r="8.2"/></g>
<g fill-opacity="0.55"><circle cx="427.8" cy="1424.8" r="4.1"/><circle cx="454.5" cy="1444.6" r="7"/><circle cx="545.4" cy="1448.6" r="8.2"/></g>
<g fill-opacity="0.58"><circle cx="438.2" cy="1427.8" r="7"/><circle cx="469.8" cy="1429.3" r="4.7"/></g>
<g fill-opacity="0.59"><circle cx="516.7" cy="1358.7" r="5.8"/><circle cx="532.5" cy="1353.7" r="12.8"/><circle cx="483.1" cy="1350.8" r="7"/><circle cx="578" cy="1388.3" r="7"/><circle cx="581.9" cy="1399.2" r="5.8"/><circle cx="432.8" cy="1398.2" r="4.7"/><circle cx="452" cy="1400.2" r="3.5"/><circle cx="534" cy="1395.2" r="3.7"/><circle cx="574" cy="1413" r="5.8"/><circle cx="581.9" cy="1406.1" r="7"/><circle cx="453.5" cy="1412" r="8.2"/><circle cx="506.8" cy="1431.8" r="7.6"/><circle cx="555.2" cy="1433.7" r="6.4"/><circle cx="488.6" cy="1438.2" r="3.5"/><circle cx="560.2" cy="1455.5" r="7.6"/><circle cx="510.3" cy="1455.5" r="2.9"/><circle cx="569.1" cy="1484.1" r="5.8"/><circle cx="452.5" cy="1486.1" r="4.1"/><circle cx="489.1" cy="1497" r="8.2"/></g>
<g fill-opacity="0.61"><circle cx="462.4" cy="1379.4" r="9.3"/><circle cx="446.6" cy="1388.3" r="9.9"/><circle cx="472.3" cy="1400.2" r="7.6"/><circle cx="486.1" cy="1401.1" r="7"/><circle cx="498" cy="1395.2" r="6.4"/><circle cx="506.8" cy="1442.6" r="10.5"/></g>
<g fill-opacity="0.63"><circle cx="507.8" cy="1355.7" r="7"/><circle cx="499.9" cy="1376.4" r="8.2"/><circle cx="563.2" cy="1412" r="9.3"/><circle cx="525.6" cy="1445.6" r="2.9"/><circle cx="449.6" cy="1436.7" r="4.7"/><circle cx="431.8" cy="1445.6" r="8.2"/><circle cx="481.2" cy="1447.6" r="9.3"/><circle cx="459.4" cy="1462.4" r="10.5"/><circle cx="457.5" cy="1473.2" r="7"/><circle cx="515.7" cy="1463.9" r="4.7"/><circle cx="568.1" cy="1476.2" r="9.3"/></g>
<g fill-opacity="0.65"><circle cx="492" cy="1409" r="9.3"/><circle cx="585.9" cy="1445.6" r="7.6"/><circle cx="556.2" cy="1494" r="7"/></g>
<g fill-opacity="0.67"><circle cx="530.1" cy="1380.9" r="4.1"/><circle cx="499.4" cy="1421.9" r="1.7"/></g>
<g fill-opacity="0.68"><circle cx="491" cy="1507.8" r="8.2"/></g>
</g></g></g>
<rect x="418.2" y="1336.6" width="177.3" height="177" fill="none" stroke="#1a1a1a" stroke-width="1.5"/>
<g clip-path="url(#bc13)">
<rect x="597.6" y="1336.6" width="177.3" height="177" fill="#fdfdfd"/>
<circle cx="685.86" cy="1423.86" r="87.55" fill="none" stroke="#ddd" stroke-width="2.6"/>
<circle cx="685.86" cy="1423.86" r="88.85" fill="none" stroke="url(#rm13)" stroke-width="1.1" stroke-opacity="0.75"/>
<circle cx="685.86" cy="1423.86" r="86.05" fill="#fafafa" stroke="url(#rm13)" stroke-width="1.3"/>
<clipPath id="wc13"><circle cx="685.9" cy="1423.9" r="85.5"/></clipPath>
<g clip-path="url(#wc13)">
<g filter="url(#cf)" fill="url(#cg)">
<rect x="597.6" y="1336.6" width="177.3" height="177" fill="#fff" fill-opacity="0"/>
<g fill-opacity="0.37"><circle cx="726.4" cy="1373.5" r="4.1"/><circle cx="712.5" cy="1455.5" r="4.1"/><circle cx="713.5" cy="1446.6" r="2.9"/><circle cx="710.6" cy="1468.3" r="3.5"/></g>
<g fill-opacity="0.41"><circle cx="765.9" cy="1429.8" r="4.7"/></g>
<g fill-opacity="0.44"><circle cx="715.5" cy="1375.5" r="4.1"/><circle cx="707.6" cy="1403.1" r="4.7"/><circle cx="763.9" cy="1420.9" r="5.8"/><circle cx="691.8" cy="1428.8" r="4.7"/><circle cx="693.8" cy="1452" r="3.5"/><circle cx="742.2" cy="1450.5" r="4.1"/><circle cx="665.1" cy="1474.2" r="5.8"/></g>
<g fill-opacity="0.48"><circle cx="672" cy="1410" r="5.2"/></g>
<g fill-opacity="0.52"><circle cx="687.8" cy="1381.4" r="4.7"/><circle cx="702.2" cy="1380.9" r="4.1"/><circle cx="640.4" cy="1390.3" r="5.2"/><circle cx="649.3" cy="1406.1" r="5.2"/><circle cx="694.8" cy="1399.2" r="5.8"/><circle cx="757" cy="1395.2" r="5.2"/><circle cx="661.2" cy="1459.4" r="5.2"/><circle cx="701.7" cy="1498.9" r="2.9"/></g>
<g fill-opacity="0.53"><circle cx="691.8" cy="1409" r="7"/><circle cx="702.7" cy="1395.2" r="11.7"/></g>
<g fill-opacity="0.55"><circle cx="635.5" cy="1402.1" r="5.8"/><circle cx="706.6" cy="1414" r="4.1"/><circle cx="753" cy="1416" r="4.1"/><circle cx="651.3" cy="1422.9" r="7"/><circle cx="652.3" cy="1451.5" r="4.7"/></g>
<g fill-opacity="0.58"><circle cx="662.2" cy="1397.7" r="4.7"/></g>
<g fill-opacity="0.59"><circle cx="698.7" cy="1349.8" r="5.8"/><circle cx="700.2" cy="1373" r="2.6"/><circle cx="622.6" cy="1400.2" r="5.2"/><circle cx="739.2" cy="1416.9" r="5.8"/><circle cx="751.1" cy="1405.1" r="4.7"/><circle cx="652.3" cy="1437.7" r="8.2"/><circle cx="730.3" cy="1433.7" r="11.7"/><circle cx="737.2" cy="1428.8" r="4.7"/><circle cx="619.7" cy="1450.5" r="5.8"/><circle cx="750.1" cy="1459.4" r="5.2"/><circle cx="644.4" cy="1473.2" r="7"/><circle cx="750.1" cy="1469.3" r="6.4"/><circle cx="671" cy="1495" r="9.3"/><circle cx="690.8" cy="1486.1" r="7"/><circle cx="688.8" cy="1497.9" r="7"/><circle cx="724.4" cy="1492" r="5.8"/></g>
<g fill-opacity="0.61"><circle cx="654.3" cy="1360.6" r="5.2"/><circle cx="688.8" cy="1369.5" r="7.6"/><circle cx="638.4" cy="1410" r="7.6"/><circle cx="740.2" cy="1409" r="7.6"/><circle cx="633.5" cy="1453.5" r="8.2"/><circle cx="757" cy="1446.6" r="10.5"/></g>
<g fill-opacity="0.63"><circle cx="652.3" cy="1349.8" r="7"/><circle cx="672" cy="1361.6" r="10.5"/><circle cx="646.4" cy="1380.4" r="7"/><circle cx="625.6" cy="1428.8" r="5.8"/><circle cx="612.3" cy="1435.7" r="3.5"/><circle cx="682.9" cy="1421.9" r="8.2"/><circle cx="606.8" cy="1445.6" r="6.4"/><circle cx="626.6" cy="1460.4" r="5.8"/><circle cx="667.1" cy="1454.5" r="7.6"/><circle cx="614.7" cy="1463.4" r="7"/><circle cx="620.7" cy="1471.3" r="4.7"/><circle cx="708.6" cy="1486.1" r="9.3"/><circle cx="730.3" cy="1475.2" r="8.7"/><circle cx="632.5" cy="1481.2" r="8.2"/><circle cx="652.3" cy="1495" r="10.5"/></g>
<g fill-opacity="0.65"><circle cx="626.6" cy="1371.5" r="9.3"/><circle cx="645.4" cy="1372.5" r="11.1"/><circle cx="612.8" cy="1390.3" r="7.6"/><circle cx="719.4" cy="1424.8" r="7.6"/><circle cx="614.7" cy="1420.9" r="12.8"/><circle cx="628.6" cy="1435.7" r="7"/><circle cx="662.2" cy="1484.1" r="15.2"/></g>
<g fill-opacity="0.67"><circle cx="679.9" cy="1346.8" r="9.3"/><circle cx="631.5" cy="1360.6" r="5.8"/><circle cx="662.2" cy="1383.4" r="9.3"/><circle cx="722.4" cy="1414" r="8.7"/><circle cx="658.7" cy="1418.4" r="2.6"/><circle cx="673" cy="1430.8" r="4.7"/><circle cx="682.9" cy="1465.3" r="11.1"/><circle cx="703.6" cy="1477.2" r="10.5"/></g>
<g fill-opacity="0.7"><circle cx="709.6" cy="1353.7" r="7.6"/><circle cx="678.5" cy="1379.9" r="2.1"/></g>
</g></g></g>
<rect x="597.6" y="1336.6" width="177.3" height="177" fill="none" stroke="#1a1a1a" stroke-width="1.5"/>
<g clip-path="url(#bc14)">
<rect x="777" y="1336.6" width="177.3" height="177" fill="#fdfdfd"/>
<circle cx="864.86" cy="1424.85" r="87.55" fill="none" stroke="#ddd" stroke-width="2.6"/>
<circle cx="864.86" cy="1424.85" r="88.85" fill="none" stroke="url(#rm14)" stroke-width="1.1" stroke-opacity="0.75"/>
<circle cx="864.86" cy="1424.85" r="86.05" fill="#fafafa" stroke="url(#rm14)" stroke-width="1.3"/>
<clipPath id="wc14"><circle cx="864.9" cy="1424.8" r="85.5"/></clipPath>
<g clip-path="url(#wc14)">
<g filter="url(#cf)" fill="url(#cg)">
<rect x="777" y="1336.6" width="177.3" height="177" fill="#fff" fill-opacity="0"/>
<g fill-opacity="0.3"><circle cx="900.4" cy="1377.4" r="3.5"/></g>
<g fill-opacity="0.37"><circle cx="933" cy="1425.8" r="2.9"/><circle cx="794.7" cy="1411" r="2.9"/></g>
<g fill-opacity="0.44"><circle cx="791.8" cy="1406.1" r="3.5"/><circle cx="930.1" cy="1419.9" r="3.5"/><circle cx="883.6" cy="1429.8" r="2.9"/><circle cx="908.3" cy="1438.2" r="2.1"/><circle cx="929.1" cy="1439.7" r="2.9"/><circle cx="915.2" cy="1445.1" r="2.6"/><circle cx="863.4" cy="1451.5" r="2.6"/><circle cx="921.2" cy="1455.5" r="3.5"/><circle cx="857.9" cy="1472.3" r="4.7"/><circle cx="798.7" cy="1476.2" r="3.5"/><circle cx="873.8" cy="1484.1" r="3.5"/></g>
<g fill-opacity="0.48"><circle cx="825.8" cy="1452.5" r="2.9"/><circle cx="893.5" cy="1468.8" r="4.7"/></g>
<g fill-opacity="0.52"><circle cx="811.5" cy="1402.1" r="3.5"/><circle cx="896" cy="1414" r="5.8"/><circle cx="921.2" cy="1462.4" r="3.5"/><circle cx="796.7" cy="1464.4" r="5.8"/><circle cx="832.3" cy="1503.9" r="3.5"/></g>
<g fill-opacity="0.53"><circle cx="840.2" cy="1379.4" r="7"/></g>
<g fill-opacity="0.55"><circle cx="802.6" cy="1406.1" r="5.2"/><circle cx="857" cy="1408.1" r="2.9"/><circle cx="802.6" cy="1421.4" r="2.9"/><circle cx="942.9" cy="1440.7" r="3.5"/><circle cx="807.6" cy="1451.5" r="4.7"/><circle cx="837.7" cy="1465.3" r="2.6"/><circle cx="825.4" cy="1497" r="5.2"/><circle cx="858.4" cy="1503.4" r="4.1"/></g>
<g fill-opacity="0.58"><circle cx="863.4" cy="1412" r="4.7"/><circle cx="868.3" cy="1445.6" r="4.4"/></g>
<g fill-opacity="0.59"><circle cx="890.5" cy="1353.7" r="8.2"/><circle cx="895.5" cy="1360.6" r="3.5"/><circle cx="866.8" cy="1361.6" r="2.9"/><circle cx="852" cy="1346.8" r="4.7"/><circle cx="877.7" cy="1346.8" r="4.1"/><circle cx="840.2" cy="1346.8" r="3.5"/><circle cx="804.6" cy="1381.4" r="4.1"/><circle cx="876.2" cy="1387.8" r="4.1"/><circle cx="783.9" cy="1414" r="7"/><circle cx="942.9" cy="1412" r="4.7"/><circle cx="915.2" cy="1416.9" r="2.3"/><circle cx="861.4" cy="1421.9" r="3.3"/><circle cx="786.8" cy="1450.5" r="5.2"/><circle cx="876.7" cy="1444.1" r="1.2"/><circle cx="868.8" cy="1461.9" r="2.6"/><circle cx="873.3" cy="1472.3" r="1.7"/><circle cx="804.6" cy="1470.3" r="1.4"/><circle cx="907.8" cy="1481.2" r="3.5"/><circle cx="908.3" cy="1490" r="7"/><circle cx="901.4" cy="1496" r="5.8"/><circle cx="846.1" cy="1504.9" r="5.8"/><circle cx="794.2" cy="1416.5" r="1.4"/></g>
<g fill-opacity="0.61"><circle cx="812.5" cy="1390.3" r="4.7"/><circle cx="847.6" cy="1437.2" r="4.9"/></g>
<g fill-opacity="0.63"><circle cx="871.3" cy="1355.7" r="3.3"/><circle cx="861.9" cy="1347.8" r="2.9"/><circle cx="833.3" cy="1431.8" r="4.7"/><circle cx="843.6" cy="1424.4" r="5.8"/><circle cx="884.6" cy="1483.1" r="2.3"/></g>
<g fill-opacity="0.65"><circle cx="842.1" cy="1399.2" r="7.6"/><circle cx="866.8" cy="1400.2" r="4.9"/></g>
<g fill-opacity="0.67"><circle cx="799.7" cy="1395.2" r="2.9"/><circle cx="906.3" cy="1413" r="1.4"/><circle cx="828.3" cy="1426.8" r="5.8"/><circle cx="782.9" cy="1440.7" r="6.4"/><circle cx="876.7" cy="1504.9" r="7"/></g>
<g fill-opacity="0.68"><circle cx="822.4" cy="1420.9" r="7"/><circle cx="821.4" cy="1477.2" r="5.2"/></g>
<g fill-opacity="0.7"><circle cx="802.6" cy="1400.2" r="2.3"/><circle cx="823.4" cy="1440.7" r="1.7"/><circle cx="930.1" cy="1469.3" r="8.2"/></g>
</g></g></g>
<rect x="777" y="1336.6" width="177.3" height="177" fill="none" stroke="#1a1a1a" stroke-width="1.5"/>
<g clip-path="url(#bc15)">
<rect x="956.7" y="1336.6" width="177.3" height="177" fill="#fdfdfd"/>
<circle cx="1045.35" cy="1426.82" r="87.06" fill="none" stroke="#ddd" stroke-width="2.6"/>
<circle cx="1045.35" cy="1426.82" r="88.36" fill="none" stroke="url(#rm15)" stroke-width="1.1" stroke-opacity="0.75"/>
<circle cx="1045.35" cy="1426.82" r="85.56" fill="#fafafa" stroke="url(#rm15)" stroke-width="1.3"/>
<clipPath id="wc15"><circle cx="1045.4" cy="1426.8" r="85"/></clipPath>
<g clip-path="url(#wc15)">
<g filter="url(#cf)" fill="url(#cg)">
<rect x="956.7" y="1336.6" width="177.3" height="177" fill="#fff" fill-opacity="0"/>
<g fill-opacity="0.3"><circle cx="968.8" cy="1427.8" r="5.8"/></g>
<g fill-opacity="0.33"><circle cx="1105.6" cy="1406.1" r="4.7"/><circle cx="1053.8" cy="1486.1" r="4.1"/></g>
<g fill-opacity="0.37"><circle cx="1060.7" cy="1364.6" r="3.5"/><circle cx="1095.2" cy="1398.2" r="3.5"/><circle cx="990.5" cy="1419.9" r="4.1"/><circle cx="1041.9" cy="1463.4" r="2.3"/></g>
<g fill-opacity="0.41"><circle cx="1035.5" cy="1373" r="4.7"/><circle cx="1064.6" cy="1371.5" r="5.2"/><circle cx="1061.7" cy="1386.3" r="2.9"/><circle cx="980.7" cy="1419.9" r="4.1"/><circle cx="1101.2" cy="1460.4" r="4.7"/></g>
<g fill-opacity="0.44"><circle cx="1035" cy="1360.6" r="4.7"/><circle cx="1025.1" cy="1373" r="4.1"/><circle cx="1081.9" cy="1374" r="4.1"/><circle cx="1087.8" cy="1366.6" r="4.1"/><circle cx="1057.7" cy="1410.5" r="2.3"/><circle cx="1001.4" cy="1421.9" r="9.9"/><circle cx="1097.2" cy="1419.9" r="5.8"/><circle cx="1083.4" cy="1448.6" r="4.1"/><circle cx="1095.2" cy="1489.1" r="3.5"/><circle cx="1073.5" cy="1494" r="3.5"/><circle cx="1021.2" cy="1499.9" r="5.2"/><circle cx="1045.8" cy="1497" r="2.9"/></g>
<g fill-opacity="0.48"><circle cx="1041.9" cy="1349.8" r="9.3"/><circle cx="1059.7" cy="1354.7" r="7"/><circle cx="1003.4" cy="1364.6" r="5.8"/><circle cx="1012.3" cy="1380.4" r="4.7"/><circle cx="1045.8" cy="1365.6" r="4.1"/><circle cx="995.5" cy="1391.8" r="6.4"/><circle cx="1063.1" cy="1402.1" r="4.7"/><circle cx="1067.1" cy="1450" r="4.7"/><circle cx="1119.9" cy="1453.5" r="5.2"/><circle cx="1061.7" cy="1468.3" r="5.2"/><circle cx="994.5" cy="1470.3" r="5.8"/></g>
<g fill-opacity="0.52"><circle cx="1074.5" cy="1357.7" r="7.6"/><circle cx="1071.5" cy="1398.7" r="5.2"/><circle cx="1124.9" cy="1419.9" r="3.5"/><circle cx="1116" cy="1426.8" r="4.7"/><circle cx="1015.2" cy="1438.7" r="5.8"/><circle cx="978.7" cy="1440.7" r="5.8"/><circle cx="1122.9" cy="1440.7" r="5.8"/><circle cx="1055.7" cy="1471.3" r="6.4"/><circle cx="1024.1" cy="1472.3" r="4.1"/></g>
<g fill-opacity="0.53"><circle cx="1072" cy="1388.8" r="4.7"/></g>
<g fill-opacity="0.55"><circle cx="995.5" cy="1374.5" r="10.5"/><circle cx="1005.4" cy="1378.4" r="5.8"/><circle cx="972.8" cy="1393.2" r="5.8"/><circle cx="1032" cy="1405.6" r="4.7"/><circle cx="966.8" cy="1411" r="2.9"/><circle cx="992.5" cy="1436.7" r="6.4"/><circle cx="1000.4" cy="1441.6" r="4.7"/><circle cx="1107.1" cy="1472.3" r="7"/><circle cx="1093.3" cy="1479.2" r="5.8"/><circle cx="1005.4" cy="1490" r="5.8"/></g>
<g fill-opacity="0.58"><circle cx="1021.2" cy="1352.7" r="6.4"/><circle cx="983.6" cy="1377.4" r="5.8"/><circle cx="1018.2" cy="1408.1" r="5.8"/><circle cx="1047.8" cy="1431.8" r="5.8"/><circle cx="1005.4" cy="1447.6" r="9.9"/><circle cx="1017.2" cy="1459.4" r="5.8"/></g>
<g fill-opacity="0.59"><circle cx="1021.2" cy="1397.2" r="5.8"/><circle cx="1067.6" cy="1416" r="8.7"/><circle cx="1039.9" cy="1425.8" r="8.2"/><circle cx="1082.4" cy="1434.7" r="7.6"/><circle cx="995.5" cy="1486.1" r="8.2"/><circle cx="1081.4" cy="1497.9" r="9.3"/><circle cx="1038.9" cy="1507.8" r="5.2"/><circle cx="983.6" cy="1479.2" r="1.4"/></g>
<g fill-opacity="0.61"><circle cx="1031" cy="1461.4" r="7.6"/><circle cx="1078" cy="1475.2" r="8.2"/></g>
<g fill-opacity="0.63"><circle cx="1050.3" cy="1372.5" r="4.7"/><circle cx="1026.6" cy="1386.3" r="7"/><circle cx="1037.5" cy="1394.2" r="7.6"/><circle cx="1077.5" cy="1441.1" r="2.3"/><circle cx="1035" cy="1449.5" r="11.1"/><circle cx="1075.5" cy="1463.4" r="6.4"/></g>
<g fill-opacity="0.65"><circle cx="973.7" cy="1463.4" r="7"/></g>
<g fill-opacity="0.67"><circle cx="977.7" cy="1455.5" r="11.7"/><circle cx="1028.1" cy="1486.1" r="2.1"/></g>
<g fill-opacity="0.68"><circle cx="1115" cy="1465.3" r="6.4"/></g>
</g></g></g>
<rect x="956.7" y="1336.6" width="177.3" height="177" fill="none" stroke="#1a1a1a" stroke-width="1.5"/>
<text x="158.8" y="1144.6" font-size="27.5" text-anchor="middle">Control</text>
<text x="319" y="1144.6" font-size="27.5" text-anchor="middle">GEM (10 nM)</text>
<text x="505" y="1144.6" font-size="27.5" text-anchor="middle">AZD (10 nM)</text>
<text x="688.9" y="1144.6" font-size="27.5" text-anchor="middle">MK (100 nM)</text>
<text x="875.9" y="1144.6" font-size="27.5" text-anchor="middle">GEM+AZD</text>
<text x="1051.1" y="1144.6" font-size="27.5" text-anchor="middle">GEM+MK</text>
<text font-size="27.5" text-anchor="middle" transform="translate(49 1244.5) rotate(-90)">A3C<tspan dy="-9.9" font-size="16.5">NC</tspan></text>
<text font-size="27.5" text-anchor="middle" transform="translate(49 1425.5) rotate(-90)">A3C<tspan dy="-9.9" font-size="16.5">OE</tspan></text>
<rect x="1370.3" y="1209.32" width="24.6" height="199.78" fill="#fff" stroke="#000" stroke-width="1.8"/>
<rect x="1401.4" y="1216.34" width="26.4" height="192.76" fill="#000"/>
<path d="M1382.6 1228.17V1189.66M1376.6 1189.66h12M1376.6 1228.17h12" stroke="#000" stroke-width="1.8" fill="none"/>
<path d="M1414.6 1216.34V1205.71M1408.6 1205.71h12M1408.6 1216.34h12" stroke="#000" stroke-width="1.8" fill="none"/>
<circle cx="1382.6" cy="1186.45" r="5.1" fill="#000"/>
<circle cx="1390.4" cy="1216.54" r="5.1" fill="#000"/>
<circle cx="1374.4" cy="1222.56" r="5.1" fill="#000"/>
<circle cx="1414.6" cy="1205.51" r="4.6" fill="#fff" stroke="#000" stroke-width="1.8"/>
<circle cx="1423.1" cy="1217.54" r="4.6" fill="#fff" stroke="#000" stroke-width="1.8"/>
<circle cx="1406.4" cy="1224.56" r="4.6" fill="#fff" stroke="#000" stroke-width="1.8"/>
<rect x="1447.2" y="1279.52" width="24.6" height="129.58" fill="#fff" stroke="#000" stroke-width="1.8"/>
<rect x="1478.3" y="1247.23" width="26.4" height="161.87" fill="#000"/>
<path d="M1459.5 1313.62V1243.62M1453.5 1243.62h12M1453.5 1313.62h12" stroke="#000" stroke-width="1.8" fill="none"/>
<path d="M1491.5 1247.23V1216.54M1485.5 1216.54h12M1485.5 1247.23h12" stroke="#000" stroke-width="1.8" fill="none"/>
<circle cx="1459.5" cy="1252.64" r="5.1" fill="#000"/>
<circle cx="1459.5" cy="1264.68" r="5.1" fill="#000"/>
<circle cx="1459.5" cy="1318.84" r="5.1" fill="#000"/>
<circle cx="1491.5" cy="1216.54" r="4.6" fill="#fff" stroke="#000" stroke-width="1.8"/>
<circle cx="1491.5" cy="1243.62" r="4.6" fill="#fff" stroke="#000" stroke-width="1.8"/>
<circle cx="1491.5" cy="1278.72" r="4.6" fill="#fff" stroke="#000" stroke-width="1.8"/>
<rect x="1524.5" y="1255.25" width="24.6" height="153.85" fill="#fff" stroke="#000" stroke-width="1.8"/>
<rect x="1555.6" y="1263.28" width="26.4" height="145.82" fill="#000"/>
<path d="M1536.8 1279.72V1230.58M1530.8 1230.58h12M1530.8 1279.72h12" stroke="#000" stroke-width="1.8" fill="none"/>
<path d="M1568.8 1263.28V1250.64M1562.8 1250.64h12M1562.8 1263.28h12" stroke="#000" stroke-width="1.8" fill="none"/>
<circle cx="1536.8" cy="1230.58" r="5.1" fill="#000"/>
<circle cx="1536.8" cy="1252.64" r="5.1" fill="#000"/>
<circle cx="1536.8" cy="1280.73" r="5.1" fill="#000"/>
<circle cx="1568.8" cy="1247.63" r="4.6" fill="#fff" stroke="#000" stroke-width="1.8"/>
<circle cx="1577" cy="1269.69" r="4.6" fill="#fff" stroke="#000" stroke-width="1.8"/>
<circle cx="1560.6" cy="1272.7" r="4.6" fill="#fff" stroke="#000" stroke-width="1.8"/>
<rect x="1601.9" y="1252.04" width="24.6" height="157.06" fill="#fff" stroke="#000" stroke-width="1.8"/>
<rect x="1633" y="1242.01" width="26.4" height="167.09" fill="#000"/>
<path d="M1614.2 1271.7V1231.58M1608.2 1231.58h12M1608.2 1271.7h12" stroke="#000" stroke-width="1.8" fill="none"/>
<path d="M1646.2 1252.64V1230.58M1640.2 1230.58h12M1640.2 1252.64h12" stroke="#000" stroke-width="1.8" fill="none"/>
<circle cx="1614.2" cy="1231.58" r="5.1" fill="#000"/>
<circle cx="1614.2" cy="1252.64" r="5.1" fill="#000"/>
<circle cx="1614.2" cy="1271.7" r="5.1" fill="#000"/>
<circle cx="1646.2" cy="1230.58" r="4.6" fill="#fff" stroke="#000" stroke-width="1.8"/>
<circle cx="1646.2" cy="1240.61" r="4.6" fill="#fff" stroke="#000" stroke-width="1.8"/>
<circle cx="1646.2" cy="1252.64" r="4.6" fill="#fff" stroke="#000" stroke-width="1.8"/>
<rect x="1679.4" y="1385.23" width="24.6" height="23.87" fill="#fff" stroke="#000" stroke-width="1.8"/>
<rect x="1710.5" y="1316.23" width="26.4" height="92.87" fill="#000"/>
<path d="M1691.7 1390.04V1379.01M1685.7 1379.01h12M1685.7 1390.04h12" stroke="#000" stroke-width="1.8" fill="none"/>
<path d="M1723.7 1316.23V1296.77M1717.7 1296.77h12M1717.7 1316.23h12" stroke="#000" stroke-width="1.8" fill="none"/>
<circle cx="1683.5" cy="1379.01" r="5.1" fill="#000"/>
<circle cx="1699.9" cy="1385.03" r="5.1" fill="#000"/>
<circle cx="1683.5" cy="1391.05" r="5.1" fill="#000"/>
<circle cx="1718.7" cy="1301.79" r="4.6" fill="#fff" stroke="#000" stroke-width="1.8"/>
<circle cx="1731.7" cy="1306.8" r="4.6" fill="#fff" stroke="#000" stroke-width="1.8"/>
<circle cx="1723.7" cy="1337.89" r="4.6" fill="#fff" stroke="#000" stroke-width="1.8"/>
<rect x="1756.9" y="1376.2" width="24.6" height="32.9" fill="#fff" stroke="#000" stroke-width="1.8"/>
<rect x="1788" y="1304.6" width="26.4" height="104.5" fill="#000"/>
<path d="M1769.2 1391.05V1360.96M1763.2 1360.96h12M1763.2 1391.05h12" stroke="#000" stroke-width="1.8" fill="none"/>
<path d="M1801.2 1304.6V1264.68M1795.2 1264.68h12M1795.2 1304.6h12" stroke="#000" stroke-width="1.8" fill="none"/>
<circle cx="1761" cy="1363.97" r="5.1" fill="#000"/>
<circle cx="1777.4" cy="1369.99" r="5.1" fill="#000"/>
<circle cx="1769.2" cy="1391.05" r="5.1" fill="#000"/>
<circle cx="1801.2" cy="1261.67" r="4.6" fill="#fff" stroke="#000" stroke-width="1.8"/>
<circle cx="1801.2" cy="1313.82" r="4.6" fill="#fff" stroke="#000" stroke-width="1.8"/>
<circle cx="1801.2" cy="1337.89" r="4.6" fill="#fff" stroke="#000" stroke-width="1.8"/>
<path d="M1364.3 1167.5V1409.1M1354.7 1409.1H1820.2M1354.7 1368.98h9.6M1354.7 1328.87h9.6M1354.7 1288.75h9.6M1354.7 1248.63h9.6M1354.7 1208.52h9.6M1354.7 1168.4h9.6M1398.6 1409.1v9.6M1475.5 1409.1v9.6M1552.8 1409.1v9.6M1630.2 1409.1v9.6M1707.7 1409.1v9.6M1785.2 1409.1v9.6" stroke="#000" stroke-width="1.9" fill="none"/>
<text x="1352" y="1418.5" font-size="27" text-anchor="end">0</text>
<text x="1352" y="1378.38" font-size="27" text-anchor="end">20</text>
<text x="1352" y="1338.27" font-size="27" text-anchor="end">40</text>
<text x="1352" y="1298.15" font-size="27" text-anchor="end">60</text>
<text x="1352" y="1258.03" font-size="27" text-anchor="end">80</text>
<text x="1352" y="1217.92" font-size="27" text-anchor="end">100</text>
<text x="1352" y="1177.8" font-size="27" text-anchor="end">120</text>
<text font-size="27" text-anchor="middle" transform="translate(1286 1265) rotate(-90)">Colony formation (%)</text>
<path d="M1763.6 1250.8V1237.8H1802V1250.8" stroke="#000" stroke-width="1.8" fill="none"/>
<text x="1783.4" y="1251.38" font-size="48.5" text-anchor="middle" letter-spacing="1.2" stroke="#000" stroke-width="0.5">*</text>
<rect x="1834.6" y="1131.2" width="36.5" height="19.5" fill="#fff" stroke="#000" stroke-width="1.8"/>
<rect x="1834.6" y="1177.6" width="36.5" height="19.5" fill="#000" stroke="#000" stroke-width="1.8"/>
<text x="1876.1" y="1150.4" font-size="27.2">A3C<tspan dy="-9.79" font-size="16.32">NC</tspan></text>
<text x="1876.1" y="1197.3" font-size="27.2">A3C<tspan dy="-9.79" font-size="16.32">OE</tspan></text>
<text x="1355" y="1445.1" font-size="27.5" text-anchor="end">GEM (10 nM)</text>
<text x="1355" y="1476.7" font-size="27.5" text-anchor="end">AZD (10 nM)</text>
<text x="1355" y="1509.2" font-size="27.5" text-anchor="end">MK (100 nM)</text>
<text x="1398.6" y="1447" font-size="27.5" text-anchor="middle">-</text>
<text x="1475.5" y="1447" font-size="27.5" text-anchor="middle">+</text>
<text x="1552.8" y="1447" font-size="27.5" text-anchor="middle">-</text>
<text x="1630.2" y="1447" font-size="27.5" text-anchor="middle">-</text>
<text x="1707.7" y="1447" font-size="27.5" text-anchor="middle">+</text>
<text x="1785.2" y="1447" font-size="27.5" text-anchor="middle">+</text>
<text x="1394.9" y="1476.8" font-size="27.5" text-anchor="middle">-</text>
<text x="1469.5" y="1476.8" font-size="27.5" text-anchor="middle">-</text>
<text x="1553.9" y="1476.8" font-size="27.5" text-anchor="middle">+</text>
<text x="1632.1" y="1476.8" font-size="27.5" text-anchor="middle">-</text>
<text x="1710.7" y="1476.8" font-size="27.5" text-anchor="middle">+</text>
<text x="1788.2" y="1476.8" font-size="27.5" text-anchor="middle">-</text>
<text x="1390.4" y="1505.6" font-size="27.5" text-anchor="middle">-</text>
<text x="1471.8" y="1505.6" font-size="27.5" text-anchor="middle">-</text>
<text x="1553.9" y="1505.6" font-size="27.5" text-anchor="middle">-</text>
<text x="1631.3" y="1505.6" font-size="27.5" text-anchor="middle">+</text>
<text x="1709.9" y="1505.6" font-size="27.5" text-anchor="middle">-</text>
<text x="1787.4" y="1505.6" font-size="27.5" text-anchor="middle">+</text>
</g>
<g id="panelE">
<text x="6" y="1578.5" font-size="45" font-weight="bold">E</text>
<path d="M41.6 1592V2059.5H1488" stroke="#000" stroke-width="1.5" fill="none"/>
<path d="M41.6 1583l-3.8 13h7.6z" stroke="none" stroke-width="0" fill="#000"/>
<path d="M1499 2059.5l-13 -3.8v7.6z" stroke="none" stroke-width="0" fill="#000"/>
<text font-size="27.5" text-anchor="middle" transform="translate(31.5 1815.5) rotate(-90)">EdU_Azide Alexa Fluor 647</text>
<text x="791" y="2087" font-size="27.5" text-anchor="middle">DNA content_Hoechest</text>
<text font-size="27.5" text-anchor="middle" transform="translate(1508.4 1703.4) rotate(-90)">A3C<tspan dy="-9.9" font-size="16.5">NC</tspan></text>
<text font-size="27.5" text-anchor="middle" transform="translate(1508.4 1917) rotate(-90)">A3C<tspan dy="-9.9" font-size="16.5">OE</tspan></text>
<defs>
<radialGradient id="rg"><stop offset="0" stop-color="#fff" stop-opacity="1"/><stop offset="0.15" stop-color="#fff" stop-opacity="0.95"/><stop offset="0.3" stop-color="#fff" stop-opacity="0.84"/><stop offset="0.45" stop-color="#fff" stop-opacity="0.7"/><stop offset="0.6" stop-color="#fff" stop-opacity="0.54"/><stop offset="0.8" stop-color="#fff" stop-opacity="0.3"/><stop offset="1" stop-color="#fff" stop-opacity="0"/></radialGradient>
<radialGradient id="rf"><stop offset="0" stop-color="#fff" stop-opacity="1"/><stop offset="0.45" stop-color="#fff" stop-opacity="0.97"/><stop offset="0.65" stop-color="#fff" stop-opacity="0.86"/><stop offset="0.8" stop-color="#fff" stop-opacity="0.62"/><stop offset="0.9" stop-color="#fff" stop-opacity="0.36"/><stop offset="1" stop-color="#fff" stop-opacity="0"/></radialGradient>
<filter id="fc0" filterUnits="userSpaceOnUse" x="12" y="18" width="90" height="172" color-interpolation-filters="sRGB"><feGaussianBlur in="SourceGraphic" stdDeviation="0.7" result="d"/><feTurbulence type="fractalNoise" baseFrequency="1.7" numOctaves="1" seed="3" result="n"/><feColorMatrix in="n" type="matrix" values="0 0 0 0 0 0 0 0 0 0 0 0 0 0 0 1 0 0 0 0" result="na"/><feColorMatrix in="n" type="matrix" values="0 0 0 0 0 0 0 0 0 0 0 0 0 0 0 0 1 0 0 0" result="nb"/><feComposite in="d" in2="na" operator="arithmetic" k1="0" k2="0.86" k3="-1" k4="0.17" result="m0"/><feComponentTransfer in="m0" result="mask"><feFuncA type="linear" slope="30" intercept="0"/></feComponentTransfer><feComposite in="d" in2="nb" operator="arithmetic" k1="0" k2="1" k3="0.4" k4="-0.2" result="d2"/><feColorMatrix in="d2" type="matrix" values="0 0 0 1 0 0 0 0 1 0 0 0 0 1 0 0 0 0 0 1" result="g"/><feComponentTransfer in="g" result="col"><feFuncR type="table" tableValues="0.16 0.16 0.15 0.15 0.15 0.15 0.15 0.15 0.15 0.14 0.14 0.14 0.14 0.14 0.13 0.13 0.13 0.13 0.13 0.13 0.13 0.13 0.12 0.12 0.12 0.12 0.13 0.14 0.15 0.16 0.18 0.21 0.24 0.24 0.24 0.24 0.31 0.39 0.47 0.64 0.81 0.98 0.99 0.99 1.00 1.00 1.00 1.00 0.98 0.96 0.94"/><feFuncG type="table" tableValues="0.16 0.16 0.15 0.15 0.15 0.15 0.15 0.15 0.15 0.14 0.14 0.14 0.14 0.14 0.13 0.13 0.13 0.13 0.13 0.13 0.13 0.13 0.12 0.12 0.12 0.12 0.24 0.35 0.47 0.59 0.71 0.82 0.94 0.96 0.98 1.00 1.00 1.00 1.00 0.99 0.99 0.98 0.86 0.75 0.63 0.48 0.34 0.20 0.16 0.12 0.08"/><feFuncB type="table" tableValues="1.00 1.00 1.00 1.00 1.00 1.00 1.00 1.00 1.00 1.00 1.00 1.00 1.00 1.00 1.00 1.00 1.00 1.00 1.00 1.00 1.00 1.00 1.00 1.00 1.00 1.00 1.00 1.00 1.00 1.00 0.99 0.99 0.98 0.81 0.64 0.47 0.36 0.26 0.16 0.15 0.13 0.12 0.11 0.09 0.08 0.08 0.08 0.08 0.08 0.08 0.08"/></feComponentTransfer><feComponentTransfer in="d" result="d3"><feFuncA type="linear" slope="1.3" intercept="0.38"/></feComponentTransfer><feComposite in="mask" in2="d3" operator="in" result="mask2"/><feComposite in="col" in2="mask2" operator="in" result="o"/><feGaussianBlur in="o" stdDeviation="0.5"/></filter>
<filter id="fc1" filterUnits="userSpaceOnUse" x="12" y="18" width="90" height="172" color-interpolation-filters="sRGB"><feGaussianBlur in="SourceGraphic" stdDeviation="0.7" result="d"/><feTurbulence type="fractalNoise" baseFrequency="1.7" numOctaves="1" seed="11" result="n"/><feColorMatrix in="n" type="matrix" values="0 0 0 0 0 0 0 0 0 0 0 0 0 0 0 1 0 0 0 0" result="na"/><feColorMatrix in="n" type="matrix" values="0 0 0 0 0 0 0 0 0 0 0 0 0 0 0 0 1 0 0 0" result="nb"/><feComposite in="d" in2="na" operator="arithmetic" k1="0" k2="0.86" k3="-1" k4="0.17" result="m0"/><feComponentTransfer in="m0" result="mask"><feFuncA type="linear" slope="30" intercept="0"/></feComponentTransfer><feComposite in="d" in2="nb" operator="arithmetic" k1="0" k2="1" k3="0.4" k4="-0.2" result="d2"/><feColorMatrix in="d2" type="matrix" values="0 0 0 1 0 0 0 0 1 0 0 0 0 1 0 0 0 0 0 1" result="g"/><feComponentTransfer in="g" result="col"><feFuncR type="table" tableValues="0.16 0.16 0.15 0.15 0.15 0.15 0.15 0.15 0.15 0.14 0.14 0.14 0.14 0.14 0.13 0.13 0.13 0.13 0.13 0.13 0.13 0.13 0.12 0.12 0.12 0.12 0.13 0.14 0.15 0.16 0.18 0.21 0.24 0.24 0.24 0.24 0.31 0.39 0.47 0.64 0.81 0.98 0.99 0.99 1.00 1.00 1.00 1.00 0.98 0.96 0.94"/><feFuncG type="table" tableValues="0.16 0.16 0.15 0.15 0.15 0.15 0.15 0.15 0.15 0.14 0.14 0.14 0.14 0.14 0.13 0.13 0.13 0.13 0.13 0.13 0.13 0.13 0.12 0.12 0.12 0.12 0.24 0.35 0.47 0.59 0.71 0.82 0.94 0.96 0.98 1.00 1.00 1.00 1.00 0.99 0.99 0.98 0.86 0.75 0.63 0.48 0.34 0.20 0.16 0.12 0.08"/><feFuncB type="table" tableValues="1.00 1.00 1.00 1.00 1.00 1.00 1.00 1.00 1.00 1.00 1.00 1.00 1.00 1.00 1.00 1.00 1.00 1.00 1.00 1.00 1.00 1.00 1.00 1.00 1.00 1.00 1.00 1.00 1.00 1.00 0.99 0.99 0.98 0.81 0.64 0.47 0.36 0.26 0.16 0.15 0.13 0.12 0.11 0.09 0.08 0.08 0.08 0.08 0.08 0.08 0.08"/></feComponentTransfer><feComponentTransfer in="d" result="d3"><feFuncA type="linear" slope="1.3" intercept="0.38"/></feComponentTransfer><feComposite in="mask" in2="d3" operator="in" result="mask2"/><feComposite in="col" in2="mask2" operator="in" result="o"/><feGaussianBlur in="o" stdDeviation="0.5"/></filter>
<filter id="fc2" filterUnits="userSpaceOnUse" x="12" y="18" width="90" height="172" color-interpolation-filters="sRGB"><feGaussianBlur in="SourceGraphic" stdDeviation="0.7" result="d"/><feTurbulence type="fractalNoise" baseFrequency="1.7" numOctaves="1" seed="29" result="n"/><feColorMatrix in="n" type="matrix" values="0 0 0 0 0 0 0 0 0 0 0 0 0 0 0 1 0 0 0 0" result="na"/><feColorMatrix in="n" type="matrix" values="0 0 0 0 0 0 0 0 0 0 0 0 0 0 0 0 1 0 0 0" result="nb"/><feComposite in="d" in2="na" operator="arithmetic" k1="0" k2="0.86" k3="-1" k4="0.17" result="m0"/><feComponentTransfer in="m0" result="mask"><feFuncA type="linear" slope="30" intercept="0"/></feComponentTransfer><feComposite in="d" in2="nb" operator="arithmetic" k1="0" k2="1" k3="0.4" k4="-0.2" result="d2"/><feColorMatrix in="d2" type="matrix" values="0 0 0 1 0 0 0 0 1 0 0 0 0 1 0 0 0 0 0 1" result="g"/><feComponentTransfer in="g" result="col"><feFuncR type="table" tableValues="0.16 0.16 0.15 0.15 0.15 0.15 0.15 0.15 0.15 0.14 0.14 0.14 0.14 0.14 0.13 0.13 0.13 0.13 0.13 0.13 0.13 0.13 0.12 0.12 0.12 0.12 0.13 0.14 0.15 0.16 0.18 0.21 0.24 0.24 0.24 0.24 0.31 0.39 0.47 0.64 0.81 0.98 0.99 0.99 1.00 1.00 1.00 1.00 0.98 0.96 0.94"/><feFuncG type="table" tableValues="0.16 0.16 0.15 0.15 0.15 0.15 0.15 0.15 0.15 0.14 0.14 0.14 0.14 0.14 0.13 0.13 0.13 0.13 0.13 0.13 0.13 0.13 0.12 0.12 0.12 0.12 0.24 0.35 0.47 0.59 0.71 0.82 0.94 0.96 0.98 1.00 1.00 1.00 1.00 0.99 0.99 0.98 0.86 0.75 0.63 0.48 0.34 0.20 0.16 0.12 0.08"/><feFuncB type="table" tableValues="1.00 1.00 1.00 1.00 1.00 1.00 1.00 1.00 1.00 1.00 1.00 1.00 1.00 1.00 1.00 1.00 1.00 1.00 1.00 1.00 1.00 1.00 1.00 1.00 1.00 1.00 1.00 1.00 1.00 1.00 0.99 0.99 0.98 0.81 0.64 0.47 0.36 0.26 0.16 0.15 0.13 0.12 0.11 0.09 0.08 0.08 0.08 0.08 0.08 0.08 0.08"/></feComponentTransfer><feComponentTransfer in="d" result="d3"><feFuncA type="linear" slope="1.3" intercept="0.38"/></feComponentTransfer><feComposite in="mask" in2="d3" operator="in" result="mask2"/><feComposite in="col" in2="mask2" operator="in" result="o"/><feGaussianBlur in="o" stdDeviation="0.5"/></filter>
</defs>
<text x="187.25" y="1591.3" font-size="27.5" text-anchor="middle">Control</text>
<text x="425.65" y="1591.3" font-size="27.5" text-anchor="middle">GEM (1 <tspan font-style="italic">μ</tspan>M)</text>
<text x="664.85" y="1591.3" font-size="27.5" text-anchor="middle">AZD (1 <tspan font-style="italic">μ</tspan>M)</text>
<text x="903.25" y="1591.3" font-size="27.5" text-anchor="middle">MK (10 <tspan font-style="italic">μ</tspan>M)</text>
<text x="1141.15" y="1591.3" font-size="27.5" text-anchor="middle">GEM+AZD</text>
<text x="1378.65" y="1591.3" font-size="27.5" text-anchor="middle">GEM+MK</text>
<g transform="translate(81.6 1598.3)">
<g filter="url(#fc0)" fill="url(#rg)"><ellipse cx="57.6" cy="87.5" rx="36" ry="40" fill-opacity="0.35" fill="url(#rf)"/><ellipse cx="60.4" cy="141.6" rx="32" ry="32" fill-opacity="0.36" fill="url(#rf)"/><ellipse cx="40.9" cy="97.2" rx="11" ry="26" fill-opacity="0.26"/><ellipse cx="68.7" cy="95.8" rx="11" ry="26" fill-opacity="0.24"/><ellipse cx="54.8" cy="77.7" rx="23" ry="15" fill-opacity="0.31" fill="url(#rf)" transform="rotate(-4 54.8 77.7)"/><ellipse cx="53.4" cy="75.7" rx="17" ry="9" fill-opacity="0.36" fill="url(#rf)" transform="rotate(-4 53.4 75.7)"/><ellipse cx="37.9" cy="150.6" rx="9.5" ry="31" fill-opacity="1"/><ellipse cx="70.8" cy="141.6" rx="10" ry="19" fill-opacity="0.38"/><ellipse cx="70.8" cy="141.6" rx="5" ry="9" fill-opacity="0.35" fill="url(#rf)"/></g>
<path d="M0 0H203.3V203.2H0zM-6 19.5h6M-6 65h6M-6 112.2h6M-6 158.5h6M-6 203.2h6" fill="none" stroke="#000" stroke-width="1.1"/>
<path d="M-3 51.3h3M-3 43.29h3M-3 37.61h3M-3 33.2h3M-3 29.59h3M-3 26.55h3M-3 23.91h3M-3 21.58h3M-3 97.99h3M-3 89.68h3M-3 83.78h3M-3 79.21h3M-3 75.47h3M-3 72.31h3M-3 69.57h3M-3 67.16h3M-3 144.56h3M-3 136.41h3M-3 130.62h3M-3 126.14h3M-3 122.47h3M-3 119.37h3M-3 116.69h3M-3 114.32h3M-3 190.65h3M-3 182.55h3M-3 176.81h3M-3 172.35h3M-3 168.71h3M-3 165.63h3M-3 162.96h3M-3 160.6h3M-3 5.8h3M1.2 203.2v3M8.92 203.2v3M16.64 203.2v3M24.36 203.2v3M32.08 203.2v3M39.8 203.2v6M47.52 203.2v3M55.24 203.2v3M62.96 203.2v3M70.68 203.2v3M78.4 203.2v6M86.12 203.2v3M93.84 203.2v3M101.56 203.2v3M109.28 203.2v3M117 203.2v6M124.72 203.2v3M132.44 203.2v3M140.16 203.2v3M147.88 203.2v3M155.6 203.2v6M163.32 203.2v3M171.04 203.2v3M178.76 203.2v3M186.48 203.2v3M194.2 203.2v6M201.92 203.2v3" fill="none" stroke="#000" stroke-width="0.9"/>
<path d="M27.5 34.5L91.5 32.8L92.1 103.3L28.7 123.7zM28.7 123.7L27.8 181L92.1 174.3L92.1 103.3M58.1 114.1L57 178.2" fill="none" stroke="#222" stroke-width="0.9"/>
<text transform="translate(30.9 57.1) scale(0.92 1)" font-size="28.5">S</text>
<text transform="translate(15.5 200.9) scale(0.92 1)" font-size="28.5">G1</text>
<text transform="translate(59.7 198.8) scale(0.92 1)" font-size="28.5">G2</text>
<text x="93.1" y="81.3" font-size="23.2">S: 39.5%</text>
<text x="93.1" y="120.8" font-size="23.2">G1: 48.9%</text>
<text x="93.1" y="160.1" font-size="23.2">G2: 11.6%</text>
<text transform="translate(-7.2 26.5) scale(0.94 1)" font-size="19.3" text-anchor="end">10<tspan dy="-6.95" font-size="11.58">5</tspan></text>
<text transform="translate(-7.2 72) scale(0.94 1)" font-size="19.3" text-anchor="end">10<tspan dy="-6.95" font-size="11.58">4</tspan></text>
<text transform="translate(-7.2 119.2) scale(0.94 1)" font-size="19.3" text-anchor="end">10<tspan dy="-6.95" font-size="11.58">3</tspan></text>
<text transform="translate(-7.2 168.1) scale(0.94 1)" font-size="19.3" text-anchor="end">10<tspan dy="-6.95" font-size="11.58">2</tspan></text>
<text transform="translate(-7.2 209.8) scale(0.94 1)" font-size="19.3" text-anchor="end">0</text>
<text transform="translate(38 224.8) scale(1.13 1)" font-size="17.6" text-anchor="middle">50</text>
<text transform="translate(76.6 224.8) scale(1.13 1)" font-size="17.6" text-anchor="middle">100</text>
</g>
<g transform="translate(320 1598.3)">
<g filter="url(#fc1)" fill="url(#rg)"><ellipse cx="63.5" cy="83.3" rx="30" ry="34" fill-opacity="0.43" fill="url(#rf)"/><ellipse cx="66.2" cy="142" rx="24" ry="32" fill-opacity="0.33" fill="url(#rf)"/><ellipse cx="47.5" cy="144.7" rx="16" ry="30" fill-opacity="0.19" fill="url(#rf)"/><ellipse cx="50.2" cy="83.3" rx="16" ry="32" fill-opacity="0.31"/><ellipse cx="39.5" cy="87.3" rx="7.5" ry="34" fill-opacity="1" transform="rotate(3 39.5 87.3)"/><ellipse cx="37.6" cy="152.7" rx="6.5" ry="22" fill-opacity="0.83"/></g>
<path d="M0 0H203.3V203.2H0zM-6 19.5h6M-6 65h6M-6 112.2h6M-6 158.5h6M-6 203.2h6" fill="none" stroke="#000" stroke-width="1.1"/>
<path d="M-3 51.3h3M-3 43.29h3M-3 37.61h3M-3 33.2h3M-3 29.59h3M-3 26.55h3M-3 23.91h3M-3 21.58h3M-3 97.99h3M-3 89.68h3M-3 83.78h3M-3 79.21h3M-3 75.47h3M-3 72.31h3M-3 69.57h3M-3 67.16h3M-3 144.56h3M-3 136.41h3M-3 130.62h3M-3 126.14h3M-3 122.47h3M-3 119.37h3M-3 116.69h3M-3 114.32h3M-3 190.65h3M-3 182.55h3M-3 176.81h3M-3 172.35h3M-3 168.71h3M-3 165.63h3M-3 162.96h3M-3 160.6h3M-3 5.8h3M1.2 203.2v3M8.92 203.2v3M16.64 203.2v3M24.36 203.2v3M32.08 203.2v3M39.8 203.2v6M47.52 203.2v3M55.24 203.2v3M62.96 203.2v3M70.68 203.2v3M78.4 203.2v6M86.12 203.2v3M93.84 203.2v3M101.56 203.2v3M109.28 203.2v3M117 203.2v6M124.72 203.2v3M132.44 203.2v3M140.16 203.2v3M147.88 203.2v3M155.6 203.2v6M163.32 203.2v3M171.04 203.2v3M178.76 203.2v3M186.48 203.2v3M194.2 203.2v6M201.92 203.2v3" fill="none" stroke="#000" stroke-width="0.9"/>
<path d="M28.8 32.7L92.8 31L93.4 101.5L30 121.9zM30 121.9L29.1 179.2L93.4 172.5L93.4 101.5M59.4 112.3L58.3 176.4" fill="none" stroke="#222" stroke-width="0.9"/>
<text transform="translate(32.2 55.3) scale(0.92 1)" font-size="28.5">S</text>
<text transform="translate(16.8 199.1) scale(0.92 1)" font-size="28.5">G1</text>
<text transform="translate(61 197) scale(0.92 1)" font-size="28.5">G2</text>
<text x="94.4" y="81.3" font-size="23.2">S: 80.1%</text>
<text x="94.4" y="120.8" font-size="23.2">G1: 18.0%</text>
<text x="94.4" y="160.1" font-size="23.2">G2: 1.92</text>
<text transform="translate(-7.2 26.5) scale(0.94 1)" font-size="19.3" text-anchor="end">10<tspan dy="-6.95" font-size="11.58">5</tspan></text>
<text transform="translate(-7.2 72) scale(0.94 1)" font-size="19.3" text-anchor="end">10<tspan dy="-6.95" font-size="11.58">4</tspan></text>
<text transform="translate(-7.2 119.2) scale(0.94 1)" font-size="19.3" text-anchor="end">10<tspan dy="-6.95" font-size="11.58">3</tspan></text>
<text transform="translate(-7.2 168.1) scale(0.94 1)" font-size="19.3" text-anchor="end">10<tspan dy="-6.95" font-size="11.58">2</tspan></text>
<text transform="translate(-7.2 209.8) scale(0.94 1)" font-size="19.3" text-anchor="end">0</text>
<text transform="translate(38 224.8) scale(1.13 1)" font-size="17.6" text-anchor="middle">50</text>
<text transform="translate(76.6 224.8) scale(1.13 1)" font-size="17.6" text-anchor="middle">100</text>
</g>
<g transform="translate(559.2 1598.3)">
<g filter="url(#fc2)" fill="url(#rg)"><ellipse cx="60.6" cy="80.6" rx="33" ry="44" fill-opacity="0.43" fill="url(#rf)"/><ellipse cx="59.3" cy="144.7" rx="33" ry="33" fill-opacity="0.44" fill="url(#rf)"/><ellipse cx="47.3" cy="75.3" rx="16" ry="26" fill-opacity="0.23"/><ellipse cx="48.1" cy="69.9" rx="10" ry="10" fill-opacity="0.4" fill="url(#rf)"/><ellipse cx="57.1" cy="145.2" rx="21" ry="17" fill-opacity="0.57" fill="url(#rf)"/><ellipse cx="52.6" cy="142.8" rx="11" ry="11" fill-opacity="0.68"/><ellipse cx="38.4" cy="152.2" rx="6.5" ry="19" fill-opacity="1"/></g>
<path d="M0 0H203.3V203.2H0zM-6 19.5h6M-6 65h6M-6 112.2h6M-6 158.5h6M-6 203.2h6" fill="none" stroke="#000" stroke-width="1.1"/>
<path d="M-3 51.3h3M-3 43.29h3M-3 37.61h3M-3 33.2h3M-3 29.59h3M-3 26.55h3M-3 23.91h3M-3 21.58h3M-3 97.99h3M-3 89.68h3M-3 83.78h3M-3 79.21h3M-3 75.47h3M-3 72.31h3M-3 69.57h3M-3 67.16h3M-3 144.56h3M-3 136.41h3M-3 130.62h3M-3 126.14h3M-3 122.47h3M-3 119.37h3M-3 116.69h3M-3 114.32h3M-3 190.65h3M-3 182.55h3M-3 176.81h3M-3 172.35h3M-3 168.71h3M-3 165.63h3M-3 162.96h3M-3 160.6h3M-3 5.8h3M1.2 203.2v3M8.92 203.2v3M16.64 203.2v3M24.36 203.2v3M32.08 203.2v3M39.8 203.2v6M47.52 203.2v3M55.24 203.2v3M62.96 203.2v3M70.68 203.2v3M78.4 203.2v6M86.12 203.2v3M93.84 203.2v3M101.56 203.2v3M109.28 203.2v3M117 203.2v6M124.72 203.2v3M132.44 203.2v3M140.16 203.2v3M147.88 203.2v3M155.6 203.2v6M163.32 203.2v3M171.04 203.2v3M178.76 203.2v3M186.48 203.2v3M194.2 203.2v6M201.92 203.2v3" fill="none" stroke="#000" stroke-width="0.9"/>
<path d="M27.2 33.4L91.2 31.7L91.8 102.2L28.4 122.6zM28.4 122.6L27.5 179.9L91.8 173.2L91.8 102.2M57.8 113L56.7 177.1" fill="none" stroke="#222" stroke-width="0.9"/>
<text transform="translate(30.6 56) scale(0.92 1)" font-size="28.5">S</text>
<text transform="translate(15.2 199.8) scale(0.92 1)" font-size="28.5">G1</text>
<text transform="translate(59.4 197.7) scale(0.92 1)" font-size="28.5">G2</text>
<text x="92.8" y="81.3" font-size="23.2">S: 25.1%</text>
<text x="92.8" y="120.8" font-size="23.2">G1: 51.4%</text>
<text x="92.8" y="160.1" font-size="23.2">G2: 23.5%</text>
<text transform="translate(-7.2 26.5) scale(0.94 1)" font-size="19.3" text-anchor="end">10<tspan dy="-6.95" font-size="11.58">5</tspan></text>
<text transform="translate(-7.2 72) scale(0.94 1)" font-size="19.3" text-anchor="end">10<tspan dy="-6.95" font-size="11.58">4</tspan></text>
<text transform="translate(-7.2 119.2) scale(0.94 1)" font-size="19.3" text-anchor="end">10<tspan dy="-6.95" font-size="11.58">3</tspan></text>
<text transform="translate(-7.2 168.1) scale(0.94 1)" font-size="19.3" text-anchor="end">10<tspan dy="-6.95" font-size="11.58">2</tspan></text>
<text transform="translate(-7.2 209.8) scale(0.94 1)" font-size="19.3" text-anchor="end">0</text>
<text transform="translate(38 224.8) scale(1.13 1)" font-size="17.6" text-anchor="middle">50</text>
<text transform="translate(76.6 224.8) scale(1.13 1)" font-size="17.6" text-anchor="middle">100</text>
</g>
<g transform="translate(797.6 1598.3)">
<g filter="url(#fc0)" fill="url(#rg)"><ellipse cx="65.4" cy="88.6" rx="35" ry="60" fill-opacity="0.38" fill="url(#rf)"/><ellipse cx="61.4" cy="147.4" rx="32" ry="32" fill-opacity="0.37" fill="url(#rf)"/><ellipse cx="48.1" cy="88.6" rx="10" ry="34" fill-opacity="0.22"/><ellipse cx="54.7" cy="53.9" rx="14" ry="14" fill-opacity="0.26"/><ellipse cx="69.4" cy="56.6" rx="16" ry="16" fill-opacity="0.42"/><ellipse cx="80.1" cy="88.6" rx="11" ry="36" fill-opacity="0.3"/><ellipse cx="80.1" cy="136.7" rx="9" ry="22" fill-opacity="0.47"/><ellipse cx="44.8" cy="126" rx="5" ry="16" fill-opacity="0.61" transform="rotate(5 44.8 126)"/><ellipse cx="42.7" cy="148.7" rx="6.5" ry="24" fill-opacity="1" transform="rotate(5 42.7 148.7)"/></g>
<path d="M0 0H203.3V203.2H0zM-6 19.5h6M-6 65h6M-6 112.2h6M-6 158.5h6M-6 203.2h6" fill="none" stroke="#000" stroke-width="1.1"/>
<path d="M-3 51.3h3M-3 43.29h3M-3 37.61h3M-3 33.2h3M-3 29.59h3M-3 26.55h3M-3 23.91h3M-3 21.58h3M-3 97.99h3M-3 89.68h3M-3 83.78h3M-3 79.21h3M-3 75.47h3M-3 72.31h3M-3 69.57h3M-3 67.16h3M-3 144.56h3M-3 136.41h3M-3 130.62h3M-3 126.14h3M-3 122.47h3M-3 119.37h3M-3 116.69h3M-3 114.32h3M-3 190.65h3M-3 182.55h3M-3 176.81h3M-3 172.35h3M-3 168.71h3M-3 165.63h3M-3 162.96h3M-3 160.6h3M-3 5.8h3M1.2 203.2v3M8.92 203.2v3M16.64 203.2v3M24.36 203.2v3M32.08 203.2v3M39.8 203.2v6M47.52 203.2v3M55.24 203.2v3M62.96 203.2v3M70.68 203.2v3M78.4 203.2v6M86.12 203.2v3M93.84 203.2v3M101.56 203.2v3M109.28 203.2v3M117 203.2v6M124.72 203.2v3M132.44 203.2v3M140.16 203.2v3M147.88 203.2v3M155.6 203.2v6M163.32 203.2v3M171.04 203.2v3M178.76 203.2v3M186.48 203.2v3M194.2 203.2v6M201.92 203.2v3" fill="none" stroke="#000" stroke-width="0.9"/>
<path d="M26.2 33.4L90.2 31.7L90.8 102.2L27.4 122.6zM27.4 122.6L26.5 179.9L90.8 173.2L90.8 102.2M56.8 113L55.7 177.1" fill="none" stroke="#222" stroke-width="0.9"/>
<text transform="translate(29.6 56) scale(0.92 1)" font-size="28.5">S</text>
<text transform="translate(14.2 199.8) scale(0.92 1)" font-size="28.5">G1</text>
<text transform="translate(58.4 197.7) scale(0.92 1)" font-size="28.5">G2</text>
<text x="91.8" y="81.3" font-size="23.2">S: 18.1%</text>
<text x="91.8" y="120.8" font-size="23.2">G1: 71.8%</text>
<text x="91.8" y="160.1" font-size="23.2">G2: 9.89%</text>
<text transform="translate(-7.2 26.5) scale(0.94 1)" font-size="19.3" text-anchor="end">10<tspan dy="-6.95" font-size="11.58">5</tspan></text>
<text transform="translate(-7.2 72) scale(0.94 1)" font-size="19.3" text-anchor="end">10<tspan dy="-6.95" font-size="11.58">4</tspan></text>
<text transform="translate(-7.2 119.2) scale(0.94 1)" font-size="19.3" text-anchor="end">10<tspan dy="-6.95" font-size="11.58">3</tspan></text>
<text transform="translate(-7.2 168.1) scale(0.94 1)" font-size="19.3" text-anchor="end">10<tspan dy="-6.95" font-size="11.58">2</tspan></text>
<text transform="translate(-7.2 209.8) scale(0.94 1)" font-size="19.3" text-anchor="end">0</text>
<text transform="translate(38 224.8) scale(1.13 1)" font-size="17.6" text-anchor="middle">50</text>
<text transform="translate(76.6 224.8) scale(1.13 1)" font-size="17.6" text-anchor="middle">100</text>
</g>
<g transform="translate(1035.5 1598.3)">
<g filter="url(#fc1)" fill="url(#rg)"><ellipse cx="60.1" cy="94" rx="32" ry="38" fill-opacity="0.4" fill="url(#rf)"/><ellipse cx="57.4" cy="136.7" rx="34" ry="32" fill-opacity="0.44" fill="url(#rf)"/><ellipse cx="68.1" cy="136.7" rx="22" ry="17" fill-opacity="0.26"/><ellipse cx="40" cy="115.3" rx="9" ry="52" fill-opacity="0.27"/><ellipse cx="40" cy="96.6" rx="5.5" ry="32" fill-opacity="0.57"/><ellipse cx="39.5" cy="141.5" rx="8" ry="21" fill-opacity="1"/></g>
<path d="M0 0H203.3V203.2H0zM-6 19.5h6M-6 65h6M-6 112.2h6M-6 158.5h6M-6 203.2h6" fill="none" stroke="#000" stroke-width="1.1"/>
<path d="M-3 51.3h3M-3 43.29h3M-3 37.61h3M-3 33.2h3M-3 29.59h3M-3 26.55h3M-3 23.91h3M-3 21.58h3M-3 97.99h3M-3 89.68h3M-3 83.78h3M-3 79.21h3M-3 75.47h3M-3 72.31h3M-3 69.57h3M-3 67.16h3M-3 144.56h3M-3 136.41h3M-3 130.62h3M-3 126.14h3M-3 122.47h3M-3 119.37h3M-3 116.69h3M-3 114.32h3M-3 190.65h3M-3 182.55h3M-3 176.81h3M-3 172.35h3M-3 168.71h3M-3 165.63h3M-3 162.96h3M-3 160.6h3M-3 5.8h3M1.2 203.2v3M8.92 203.2v3M16.64 203.2v3M24.36 203.2v3M32.08 203.2v3M39.8 203.2v6M47.52 203.2v3M55.24 203.2v3M62.96 203.2v3M70.68 203.2v3M78.4 203.2v6M86.12 203.2v3M93.84 203.2v3M101.56 203.2v3M109.28 203.2v3M117 203.2v6M124.72 203.2v3M132.44 203.2v3M140.16 203.2v3M147.88 203.2v3M155.6 203.2v6M163.32 203.2v3M171.04 203.2v3M178.76 203.2v3M186.48 203.2v3M194.2 203.2v6M201.92 203.2v3" fill="none" stroke="#000" stroke-width="0.9"/>
<path d="M23.5 33.4L87.5 31.7L88.1 102.2L24.7 122.6zM24.7 122.6L23.8 179.9L88.1 173.2L88.1 102.2M54.1 113L53 177.1" fill="none" stroke="#222" stroke-width="0.9"/>
<text transform="translate(26.9 56) scale(0.92 1)" font-size="28.5">S</text>
<text transform="translate(11.5 199.8) scale(0.92 1)" font-size="28.5">G1</text>
<text transform="translate(55.7 197.7) scale(0.92 1)" font-size="28.5">G2</text>
<text x="89.1" y="81.3" font-size="23.2">S: 19.8%</text>
<text x="89.1" y="120.8" font-size="23.2">G1: 66.6%</text>
<text x="89.1" y="160.1" font-size="23.2">G2: 13.6%</text>
<text transform="translate(-7.2 26.5) scale(0.94 1)" font-size="19.3" text-anchor="end">10<tspan dy="-6.95" font-size="11.58">5</tspan></text>
<text transform="translate(-7.2 72) scale(0.94 1)" font-size="19.3" text-anchor="end">10<tspan dy="-6.95" font-size="11.58">4</tspan></text>
<text transform="translate(-7.2 119.2) scale(0.94 1)" font-size="19.3" text-anchor="end">10<tspan dy="-6.95" font-size="11.58">3</tspan></text>
<text transform="translate(-7.2 168.1) scale(0.94 1)" font-size="19.3" text-anchor="end">10<tspan dy="-6.95" font-size="11.58">2</tspan></text>
<text transform="translate(-7.2 209.8) scale(0.94 1)" font-size="19.3" text-anchor="end">0</text>
<text transform="translate(38 224.8) scale(1.13 1)" font-size="17.6" text-anchor="middle">50</text>
<text transform="translate(76.6 224.8) scale(1.13 1)" font-size="17.6" text-anchor="middle">100</text>
</g>
<g transform="translate(1273 1598.3)">
<g filter="url(#fc2)" fill="url(#rg)"><ellipse cx="59.3" cy="121.7" rx="34" ry="56" fill-opacity="0.5" fill="url(#rf)"/><ellipse cx="67.3" cy="141" rx="24" ry="13" fill-opacity="0.3"/><ellipse cx="42.9" cy="124.9" rx="9" ry="50" fill-opacity="0.14"/><ellipse cx="42.9" cy="102.5" rx="6" ry="22" fill-opacity="0.6" transform="rotate(2 42.9 102.5)"/><ellipse cx="42.4" cy="149" rx="8" ry="24" fill-opacity="1" transform="rotate(3 42.4 149)"/></g>
<path d="M0 0H203.3V203.2H0zM-6 19.5h6M-6 65h6M-6 112.2h6M-6 158.5h6M-6 203.2h6" fill="none" stroke="#000" stroke-width="1.1"/>
<path d="M-3 51.3h3M-3 43.29h3M-3 37.61h3M-3 33.2h3M-3 29.59h3M-3 26.55h3M-3 23.91h3M-3 21.58h3M-3 97.99h3M-3 89.68h3M-3 83.78h3M-3 79.21h3M-3 75.47h3M-3 72.31h3M-3 69.57h3M-3 67.16h3M-3 144.56h3M-3 136.41h3M-3 130.62h3M-3 126.14h3M-3 122.47h3M-3 119.37h3M-3 116.69h3M-3 114.32h3M-3 190.65h3M-3 182.55h3M-3 176.81h3M-3 172.35h3M-3 168.71h3M-3 165.63h3M-3 162.96h3M-3 160.6h3M-3 5.8h3M1.2 203.2v3M8.92 203.2v3M16.64 203.2v3M24.36 203.2v3M32.08 203.2v3M39.8 203.2v6M47.52 203.2v3M55.24 203.2v3M62.96 203.2v3M70.68 203.2v3M78.4 203.2v6M86.12 203.2v3M93.84 203.2v3M101.56 203.2v3M109.28 203.2v3M117 203.2v6M124.72 203.2v3M132.44 203.2v3M140.16 203.2v3M147.88 203.2v3M155.6 203.2v6M163.32 203.2v3M171.04 203.2v3M178.76 203.2v3M186.48 203.2v3M194.2 203.2v6M201.92 203.2v3" fill="none" stroke="#000" stroke-width="0.9"/>
<path d="M26.7 33.2L90.7 31.5L91.3 102L27.9 122.4zM27.9 122.4L27 179.7L91.3 173L91.3 102M57.3 112.8L56.2 176.9" fill="none" stroke="#222" stroke-width="0.9"/>
<text transform="translate(30.1 55.8) scale(0.92 1)" font-size="28.5">S</text>
<text transform="translate(14.7 199.6) scale(0.92 1)" font-size="28.5">G1</text>
<text transform="translate(58.9 197.5) scale(0.92 1)" font-size="28.5">G2</text>
<text x="92.3" y="81.3" font-size="23.2">S: 22.0%</text>
<text x="92.3" y="120.8" font-size="23.2">G1: 60.6%</text>
<text x="92.3" y="160.1" font-size="23.2">G2: 17.4%</text>
<text transform="translate(-7.2 26.5) scale(0.94 1)" font-size="19.3" text-anchor="end">10<tspan dy="-6.95" font-size="11.58">5</tspan></text>
<text transform="translate(-7.2 72) scale(0.94 1)" font-size="19.3" text-anchor="end">10<tspan dy="-6.95" font-size="11.58">4</tspan></text>
<text transform="translate(-7.2 119.2) scale(0.94 1)" font-size="19.3" text-anchor="end">10<tspan dy="-6.95" font-size="11.58">3</tspan></text>
<text transform="translate(-7.2 168.1) scale(0.94 1)" font-size="19.3" text-anchor="end">10<tspan dy="-6.95" font-size="11.58">2</tspan></text>
<text transform="translate(-7.2 209.8) scale(0.94 1)" font-size="19.3" text-anchor="end">0</text>
<text transform="translate(38 224.8) scale(1.13 1)" font-size="17.6" text-anchor="middle">50</text>
<text transform="translate(76.6 224.8) scale(1.13 1)" font-size="17.6" text-anchor="middle">100</text>
</g>
<g transform="translate(81.6 1829.3)">
<g filter="url(#fc0)" fill="url(#rg)"><ellipse cx="61.4" cy="89.4" rx="36" ry="42" fill-opacity="0.38" fill="url(#rf)"/><ellipse cx="60.1" cy="142.8" rx="32" ry="32" fill-opacity="0.34" fill="url(#rf)"/><ellipse cx="41.9" cy="97.4" rx="10" ry="26" fill-opacity="0.39"/><ellipse cx="80.1" cy="92.1" rx="10" ry="30" fill-opacity="0.35"/><ellipse cx="48.1" cy="78.8" rx="13" ry="15" fill-opacity="0.51" transform="rotate(20 48.1 78.8)"/><ellipse cx="62.7" cy="68.1" rx="21" ry="9" fill-opacity="0.69" fill="url(#rf)" transform="rotate(-14 62.7 68.1)"/><ellipse cx="40" cy="146.8" rx="8.5" ry="25" fill-opacity="1"/><ellipse cx="76.1" cy="136.1" rx="9.5" ry="19" fill-opacity="0.8"/></g>
<path d="M0 0H203.3V203.2H0zM-6 19.5h6M-6 65h6M-6 112.2h6M-6 158.5h6M-6 203.2h6" fill="none" stroke="#000" stroke-width="1.1"/>
<path d="M-3 51.3h3M-3 43.29h3M-3 37.61h3M-3 33.2h3M-3 29.59h3M-3 26.55h3M-3 23.91h3M-3 21.58h3M-3 97.99h3M-3 89.68h3M-3 83.78h3M-3 79.21h3M-3 75.47h3M-3 72.31h3M-3 69.57h3M-3 67.16h3M-3 144.56h3M-3 136.41h3M-3 130.62h3M-3 126.14h3M-3 122.47h3M-3 119.37h3M-3 116.69h3M-3 114.32h3M-3 190.65h3M-3 182.55h3M-3 176.81h3M-3 172.35h3M-3 168.71h3M-3 165.63h3M-3 162.96h3M-3 160.6h3M-3 5.8h3M1.2 203.2v3M8.92 203.2v3M16.64 203.2v3M24.36 203.2v3M32.08 203.2v3M39.8 203.2v6M47.52 203.2v3M55.24 203.2v3M62.96 203.2v3M70.68 203.2v3M78.4 203.2v6M86.12 203.2v3M93.84 203.2v3M101.56 203.2v3M109.28 203.2v3M117 203.2v6M124.72 203.2v3M132.44 203.2v3M140.16 203.2v3M147.88 203.2v3M155.6 203.2v6M163.32 203.2v3M171.04 203.2v3M178.76 203.2v3M186.48 203.2v3M194.2 203.2v6M201.92 203.2v3" fill="none" stroke="#000" stroke-width="0.9"/>
<path d="M26.2 34.2L90.2 32.5L90.8 103L27.4 123.4zM27.4 123.4L26.5 180.7L90.8 174L90.8 103M56.8 113.8L55.7 177.9" fill="none" stroke="#222" stroke-width="0.9"/>
<text transform="translate(29.6 56.8) scale(0.92 1)" font-size="28.5">S</text>
<text transform="translate(14.2 200.6) scale(0.92 1)" font-size="28.5">G1</text>
<text transform="translate(58.4 198.5) scale(0.92 1)" font-size="28.5">G2</text>
<text x="89" y="66.2" font-size="23.2">S: 47.2%</text>
<text x="89" y="105.8" font-size="23.2">G1: 35.3%</text>
<text x="89" y="145" font-size="23.2">G2: 17.6%</text>
<text transform="translate(-7.2 26.5) scale(0.94 1)" font-size="19.3" text-anchor="end">10<tspan dy="-6.95" font-size="11.58">5</tspan></text>
<text transform="translate(-7.2 72) scale(0.94 1)" font-size="19.3" text-anchor="end">10<tspan dy="-6.95" font-size="11.58">4</tspan></text>
<text transform="translate(-7.2 119.2) scale(0.94 1)" font-size="19.3" text-anchor="end">10<tspan dy="-6.95" font-size="11.58">3</tspan></text>
<text transform="translate(-7.2 168.1) scale(0.94 1)" font-size="19.3" text-anchor="end">10<tspan dy="-6.95" font-size="11.58">2</tspan></text>
<text transform="translate(-7.2 209.8) scale(0.94 1)" font-size="19.3" text-anchor="end">0</text>
<text transform="translate(38 224.8) scale(1.13 1)" font-size="17.6" text-anchor="middle">50</text>
<text transform="translate(76.6 224.8) scale(1.13 1)" font-size="17.6" text-anchor="middle">100</text>
</g>
<g transform="translate(320 1829.3)">
<g filter="url(#fc1)" fill="url(#rg)"><ellipse cx="57.9" cy="73.4" rx="34" ry="38" fill-opacity="0.42" fill="url(#rf)"/><ellipse cx="51.3" cy="102.8" rx="24" ry="26" fill-opacity="0.13" fill="url(#rf)"/><ellipse cx="59.3" cy="140.1" rx="32" ry="32" fill-opacity="0.27" fill="url(#rf)"/><ellipse cx="77.9" cy="129.5" rx="13" ry="26" fill-opacity="0.25"/><ellipse cx="44.6" cy="81.4" rx="9" ry="18" fill-opacity="0.39" transform="rotate(10 44.6 81.4)"/><ellipse cx="60.6" cy="60.6" rx="22" ry="10" fill-opacity="0.56" fill="url(#rf)" transform="rotate(-25 60.6 60.6)"/><ellipse cx="48.6" cy="67.5" rx="17" ry="7.5" fill-opacity="1" transform="rotate(-45 48.6 67.5)"/><ellipse cx="41.9" cy="145.5" rx="6.5" ry="21" fill-opacity="0.74"/></g>
<path d="M0 0H203.3V203.2H0zM-6 19.5h6M-6 65h6M-6 112.2h6M-6 158.5h6M-6 203.2h6" fill="none" stroke="#000" stroke-width="1.1"/>
<path d="M-3 51.3h3M-3 43.29h3M-3 37.61h3M-3 33.2h3M-3 29.59h3M-3 26.55h3M-3 23.91h3M-3 21.58h3M-3 97.99h3M-3 89.68h3M-3 83.78h3M-3 79.21h3M-3 75.47h3M-3 72.31h3M-3 69.57h3M-3 67.16h3M-3 144.56h3M-3 136.41h3M-3 130.62h3M-3 126.14h3M-3 122.47h3M-3 119.37h3M-3 116.69h3M-3 114.32h3M-3 190.65h3M-3 182.55h3M-3 176.81h3M-3 172.35h3M-3 168.71h3M-3 165.63h3M-3 162.96h3M-3 160.6h3M-3 5.8h3M1.2 203.2v3M8.92 203.2v3M16.64 203.2v3M24.36 203.2v3M32.08 203.2v3M39.8 203.2v6M47.52 203.2v3M55.24 203.2v3M62.96 203.2v3M70.68 203.2v3M78.4 203.2v6M86.12 203.2v3M93.84 203.2v3M101.56 203.2v3M109.28 203.2v3M117 203.2v6M124.72 203.2v3M132.44 203.2v3M140.16 203.2v3M147.88 203.2v3M155.6 203.2v6M163.32 203.2v3M171.04 203.2v3M178.76 203.2v3M186.48 203.2v3M194.2 203.2v6M201.92 203.2v3" fill="none" stroke="#000" stroke-width="0.9"/>
<path d="M24.6 32.8L88.6 31.1L89.2 101.6L25.8 122zM25.8 122L24.9 179.3L89.2 172.6L89.2 101.6M55.2 112.4L54.1 176.5" fill="none" stroke="#222" stroke-width="0.9"/>
<text transform="translate(28 55.4) scale(0.92 1)" font-size="28.5">S</text>
<text transform="translate(12.6 199.2) scale(0.92 1)" font-size="28.5">G1</text>
<text transform="translate(56.8 197.1) scale(0.92 1)" font-size="28.5">G2</text>
<text x="87.4" y="66.2" font-size="23.2">S: 83.0%</text>
<text x="87.4" y="105.8" font-size="23.2">G1: 13.4%</text>
<text x="87.4" y="145" font-size="23.2">G2: 3.57%</text>
<text transform="translate(-7.2 26.5) scale(0.94 1)" font-size="19.3" text-anchor="end">10<tspan dy="-6.95" font-size="11.58">5</tspan></text>
<text transform="translate(-7.2 72) scale(0.94 1)" font-size="19.3" text-anchor="end">10<tspan dy="-6.95" font-size="11.58">4</tspan></text>
<text transform="translate(-7.2 119.2) scale(0.94 1)" font-size="19.3" text-anchor="end">10<tspan dy="-6.95" font-size="11.58">3</tspan></text>
<text transform="translate(-7.2 168.1) scale(0.94 1)" font-size="19.3" text-anchor="end">10<tspan dy="-6.95" font-size="11.58">2</tspan></text>
<text transform="translate(-7.2 209.8) scale(0.94 1)" font-size="19.3" text-anchor="end">0</text>
<text transform="translate(38 224.8) scale(1.13 1)" font-size="17.6" text-anchor="middle">50</text>
<text transform="translate(76.6 224.8) scale(1.13 1)" font-size="17.6" text-anchor="middle">100</text>
</g>
<g transform="translate(559.2 1829.3)">
<g filter="url(#fc2)" fill="url(#rg)"><ellipse cx="58.2" cy="97.4" rx="33" ry="50" fill-opacity="0.42" fill="url(#rf)"/><ellipse cx="56.9" cy="148.2" rx="32" ry="30" fill-opacity="0.42" fill="url(#rf)"/><ellipse cx="60.9" cy="70.7" rx="20" ry="10" fill-opacity="0.67" fill="url(#rf)" transform="rotate(-5 60.9 70.7)"/><ellipse cx="70.2" cy="141.5" rx="16" ry="14" fill-opacity="0.55" fill="url(#rf)"/><ellipse cx="72.9" cy="141.5" rx="7" ry="7" fill-opacity="0.71"/><ellipse cx="40" cy="152.2" rx="7" ry="19" fill-opacity="1"/></g>
<path d="M0 0H203.3V203.2H0zM-6 19.5h6M-6 65h6M-6 112.2h6M-6 158.5h6M-6 203.2h6" fill="none" stroke="#000" stroke-width="1.1"/>
<path d="M-3 51.3h3M-3 43.29h3M-3 37.61h3M-3 33.2h3M-3 29.59h3M-3 26.55h3M-3 23.91h3M-3 21.58h3M-3 97.99h3M-3 89.68h3M-3 83.78h3M-3 79.21h3M-3 75.47h3M-3 72.31h3M-3 69.57h3M-3 67.16h3M-3 144.56h3M-3 136.41h3M-3 130.62h3M-3 126.14h3M-3 122.47h3M-3 119.37h3M-3 116.69h3M-3 114.32h3M-3 190.65h3M-3 182.55h3M-3 176.81h3M-3 172.35h3M-3 168.71h3M-3 165.63h3M-3 162.96h3M-3 160.6h3M-3 5.8h3M1.2 203.2v3M8.92 203.2v3M16.64 203.2v3M24.36 203.2v3M32.08 203.2v3M39.8 203.2v6M47.52 203.2v3M55.24 203.2v3M62.96 203.2v3M70.68 203.2v3M78.4 203.2v6M86.12 203.2v3M93.84 203.2v3M101.56 203.2v3M109.28 203.2v3M117 203.2v6M124.72 203.2v3M132.44 203.2v3M140.16 203.2v3M147.88 203.2v3M155.6 203.2v6M163.32 203.2v3M171.04 203.2v3M178.76 203.2v3M186.48 203.2v3M194.2 203.2v6M201.92 203.2v3" fill="none" stroke="#000" stroke-width="0.9"/>
<path d="M26.2 32.8L90.2 31.1L90.8 101.6L27.4 122zM27.4 122L26.5 179.3L90.8 172.6L90.8 101.6M56.8 112.4L55.7 176.5" fill="none" stroke="#222" stroke-width="0.9"/>
<text transform="translate(29.6 55.4) scale(0.92 1)" font-size="28.5">S</text>
<text transform="translate(14.2 199.2) scale(0.92 1)" font-size="28.5">G1</text>
<text transform="translate(58.4 197.1) scale(0.92 1)" font-size="28.5">G2</text>
<text x="89" y="66.2" font-size="23.2">S: 35.5%</text>
<text x="89" y="105.8" font-size="23.2">G1: 30.4%</text>
<text x="89" y="145" font-size="23.2">G2: 34.1%</text>
<text transform="translate(-7.2 26.5) scale(0.94 1)" font-size="19.3" text-anchor="end">10<tspan dy="-6.95" font-size="11.58">5</tspan></text>
<text transform="translate(-7.2 72) scale(0.94 1)" font-size="19.3" text-anchor="end">10<tspan dy="-6.95" font-size="11.58">4</tspan></text>
<text transform="translate(-7.2 119.2) scale(0.94 1)" font-size="19.3" text-anchor="end">10<tspan dy="-6.95" font-size="11.58">3</tspan></text>
<text transform="translate(-7.2 168.1) scale(0.94 1)" font-size="19.3" text-anchor="end">10<tspan dy="-6.95" font-size="11.58">2</tspan></text>
<text transform="translate(-7.2 209.8) scale(0.94 1)" font-size="19.3" text-anchor="end">0</text>
<text transform="translate(38 224.8) scale(1.13 1)" font-size="17.6" text-anchor="middle">50</text>
<text transform="translate(76.6 224.8) scale(1.13 1)" font-size="17.6" text-anchor="middle">100</text>
</g>
<g transform="translate(797.6 1829.3)">
<g filter="url(#fc0)" fill="url(#rg)"><ellipse cx="56.1" cy="86.8" rx="30" ry="55" fill-opacity="0.33" fill="url(#rf)"/><ellipse cx="56.1" cy="145.5" rx="30" ry="30" fill-opacity="0.3" fill="url(#rf)"/><ellipse cx="54.7" cy="73.4" rx="22" ry="30" fill-opacity="0.26"/><ellipse cx="65.4" cy="68.1" rx="10" ry="10" fill-opacity="0.3"/><ellipse cx="69.4" cy="97.4" rx="9" ry="20" fill-opacity="0.3"/><ellipse cx="70.7" cy="136.1" rx="7.5" ry="16" fill-opacity="0.73"/><ellipse cx="38.2" cy="148.2" rx="7" ry="25" fill-opacity="1" transform="rotate(3 38.2 148.2)"/></g>
<path d="M0 0H203.3V203.2H0zM-6 19.5h6M-6 65h6M-6 112.2h6M-6 158.5h6M-6 203.2h6" fill="none" stroke="#000" stroke-width="1.1"/>
<path d="M-3 51.3h3M-3 43.29h3M-3 37.61h3M-3 33.2h3M-3 29.59h3M-3 26.55h3M-3 23.91h3M-3 21.58h3M-3 97.99h3M-3 89.68h3M-3 83.78h3M-3 79.21h3M-3 75.47h3M-3 72.31h3M-3 69.57h3M-3 67.16h3M-3 144.56h3M-3 136.41h3M-3 130.62h3M-3 126.14h3M-3 122.47h3M-3 119.37h3M-3 116.69h3M-3 114.32h3M-3 190.65h3M-3 182.55h3M-3 176.81h3M-3 172.35h3M-3 168.71h3M-3 165.63h3M-3 162.96h3M-3 160.6h3M-3 5.8h3M1.2 203.2v3M8.92 203.2v3M16.64 203.2v3M24.36 203.2v3M32.08 203.2v3M39.8 203.2v6M47.52 203.2v3M55.24 203.2v3M62.96 203.2v3M70.68 203.2v3M78.4 203.2v6M86.12 203.2v3M93.84 203.2v3M101.56 203.2v3M109.28 203.2v3M117 203.2v6M124.72 203.2v3M132.44 203.2v3M140.16 203.2v3M147.88 203.2v3M155.6 203.2v6M163.32 203.2v3M171.04 203.2v3M178.76 203.2v3M186.48 203.2v3M194.2 203.2v6M201.92 203.2v3" fill="none" stroke="#000" stroke-width="0.9"/>
<path d="M23.2 36.8L87.3 35.5L87.8 100.9L24 122.8zM24 122.8L24.6 180.7L87.8 174L87.8 100.9M53.4 114L52.6 178" fill="none" stroke="#222" stroke-width="0.9"/>
<text transform="translate(26.6 59.4) scale(0.92 1)" font-size="28.5">S</text>
<text transform="translate(11.2 203.2) scale(0.92 1)" font-size="28.5">G1</text>
<text transform="translate(55.4 201.1) scale(0.92 1)" font-size="28.5">G2</text>
<text x="87.9" y="66.2" font-size="23.2">S: 23.6%</text>
<text x="87.9" y="105.8" font-size="23.2">G1: 59.3%</text>
<text x="87.9" y="145" font-size="23.2">G2: 16.9%</text>
<text transform="translate(-7.2 26.5) scale(0.94 1)" font-size="19.3" text-anchor="end">10<tspan dy="-6.95" font-size="11.58">5</tspan></text>
<text transform="translate(-7.2 72) scale(0.94 1)" font-size="19.3" text-anchor="end">10<tspan dy="-6.95" font-size="11.58">4</tspan></text>
<text transform="translate(-7.2 119.2) scale(0.94 1)" font-size="19.3" text-anchor="end">10<tspan dy="-6.95" font-size="11.58">3</tspan></text>
<text transform="translate(-7.2 168.1) scale(0.94 1)" font-size="19.3" text-anchor="end">10<tspan dy="-6.95" font-size="11.58">2</tspan></text>
<text transform="translate(-7.2 209.8) scale(0.94 1)" font-size="19.3" text-anchor="end">0</text>
<text transform="translate(38 224.8) scale(1.13 1)" font-size="17.6" text-anchor="middle">50</text>
<text transform="translate(76.6 224.8) scale(1.13 1)" font-size="17.6" text-anchor="middle">100</text>
</g>
<g transform="translate(1035.5 1829.3)">
<g filter="url(#fc1)" fill="url(#rg)"><ellipse cx="55.3" cy="108.1" rx="33" ry="58" fill-opacity="0.44" fill="url(#rf)"/><ellipse cx="65.9" cy="134.8" rx="20" ry="20" fill-opacity="0.17"/><ellipse cx="65.9" cy="70.7" rx="22" ry="18" fill-opacity="0.18"/><ellipse cx="38.4" cy="110.8" rx="9" ry="50" fill-opacity="0.32"/><ellipse cx="39.2" cy="78.8" rx="7" ry="24" fill-opacity="0.82" transform="rotate(3 39.2 78.8)"/><ellipse cx="36.6" cy="141.5" rx="8" ry="26" fill-opacity="1" transform="rotate(3 36.6 141.5)"/></g>
<path d="M0 0H203.3V203.2H0zM-6 19.5h6M-6 65h6M-6 112.2h6M-6 158.5h6M-6 203.2h6" fill="none" stroke="#000" stroke-width="1.1"/>
<path d="M-3 51.3h3M-3 43.29h3M-3 37.61h3M-3 33.2h3M-3 29.59h3M-3 26.55h3M-3 23.91h3M-3 21.58h3M-3 97.99h3M-3 89.68h3M-3 83.78h3M-3 79.21h3M-3 75.47h3M-3 72.31h3M-3 69.57h3M-3 67.16h3M-3 144.56h3M-3 136.41h3M-3 130.62h3M-3 126.14h3M-3 122.47h3M-3 119.37h3M-3 116.69h3M-3 114.32h3M-3 190.65h3M-3 182.55h3M-3 176.81h3M-3 172.35h3M-3 168.71h3M-3 165.63h3M-3 162.96h3M-3 160.6h3M-3 5.8h3M1.2 203.2v3M8.92 203.2v3M16.64 203.2v3M24.36 203.2v3M32.08 203.2v3M39.8 203.2v6M47.52 203.2v3M55.24 203.2v3M62.96 203.2v3M70.68 203.2v3M78.4 203.2v6M86.12 203.2v3M93.84 203.2v3M101.56 203.2v3M109.28 203.2v3M117 203.2v6M124.72 203.2v3M132.44 203.2v3M140.16 203.2v3M147.88 203.2v3M155.6 203.2v6M163.32 203.2v3M171.04 203.2v3M178.76 203.2v3M186.48 203.2v3M194.2 203.2v6M201.92 203.2v3" fill="none" stroke="#000" stroke-width="0.9"/>
<path d="M21.9 32L85.9 30.3L86.5 100.8L23.1 121.2zM23.1 121.2L22.2 178.5L86.5 171.8L86.5 100.8M52.5 111.6L51.4 175.7" fill="none" stroke="#222" stroke-width="0.9"/>
<text transform="translate(25.3 54.6) scale(0.92 1)" font-size="28.5">S</text>
<text transform="translate(9.9 198.4) scale(0.92 1)" font-size="28.5">G1</text>
<text transform="translate(54.1 196.3) scale(0.92 1)" font-size="28.5">G2</text>
<text x="86.5" y="66.2" font-size="23.2">S: 37.0%</text>
<text x="86.5" y="105.8" font-size="23.2">G1: 54.5%</text>
<text x="86.5" y="145" font-size="23.2">G2: 8.43%</text>
<text transform="translate(-7.2 26.5) scale(0.94 1)" font-size="19.3" text-anchor="end">10<tspan dy="-6.95" font-size="11.58">5</tspan></text>
<text transform="translate(-7.2 72) scale(0.94 1)" font-size="19.3" text-anchor="end">10<tspan dy="-6.95" font-size="11.58">4</tspan></text>
<text transform="translate(-7.2 119.2) scale(0.94 1)" font-size="19.3" text-anchor="end">10<tspan dy="-6.95" font-size="11.58">3</tspan></text>
<text transform="translate(-7.2 168.1) scale(0.94 1)" font-size="19.3" text-anchor="end">10<tspan dy="-6.95" font-size="11.58">2</tspan></text>
<text transform="translate(-7.2 209.8) scale(0.94 1)" font-size="19.3" text-anchor="end">0</text>
<text transform="translate(38 224.8) scale(1.13 1)" font-size="17.6" text-anchor="middle">50</text>
<text transform="translate(76.6 224.8) scale(1.13 1)" font-size="17.6" text-anchor="middle">100</text>
</g>
<g transform="translate(1273 1829.3)">
<g filter="url(#fc2)" fill="url(#rg)"><ellipse cx="55.5" cy="113.5" rx="32" ry="52" fill-opacity="0.34" fill="url(#rf)"/><ellipse cx="63.5" cy="110.8" rx="35" ry="25" fill-opacity="0.31" fill="url(#rf)"/><ellipse cx="76.9" cy="105.4" rx="15" ry="13" fill-opacity="0.25"/><ellipse cx="42.7" cy="116.1" rx="12" ry="36" fill-opacity="0.43"/><ellipse cx="42.2" cy="129.5" rx="6.5" ry="18" fill-opacity="0.68"/><ellipse cx="43" cy="106.8" rx="6.5" ry="20" fill-opacity="1"/></g>
<path d="M0 0H203.3V203.2H0zM-6 19.5h6M-6 65h6M-6 112.2h6M-6 158.5h6M-6 203.2h6" fill="none" stroke="#000" stroke-width="1.1"/>
<path d="M-3 51.3h3M-3 43.29h3M-3 37.61h3M-3 33.2h3M-3 29.59h3M-3 26.55h3M-3 23.91h3M-3 21.58h3M-3 97.99h3M-3 89.68h3M-3 83.78h3M-3 79.21h3M-3 75.47h3M-3 72.31h3M-3 69.57h3M-3 67.16h3M-3 144.56h3M-3 136.41h3M-3 130.62h3M-3 126.14h3M-3 122.47h3M-3 119.37h3M-3 116.69h3M-3 114.32h3M-3 190.65h3M-3 182.55h3M-3 176.81h3M-3 172.35h3M-3 168.71h3M-3 165.63h3M-3 162.96h3M-3 160.6h3M-3 5.8h3M1.2 203.2v3M8.92 203.2v3M16.64 203.2v3M24.36 203.2v3M32.08 203.2v3M39.8 203.2v6M47.52 203.2v3M55.24 203.2v3M62.96 203.2v3M70.68 203.2v3M78.4 203.2v6M86.12 203.2v3M93.84 203.2v3M101.56 203.2v3M109.28 203.2v3M117 203.2v6M124.72 203.2v3M132.44 203.2v3M140.16 203.2v3M147.88 203.2v3M155.6 203.2v6M163.32 203.2v3M171.04 203.2v3M178.76 203.2v3M186.48 203.2v3M194.2 203.2v6M201.92 203.2v3" fill="none" stroke="#000" stroke-width="0.9"/>
<path d="M26.2 31.5L90.2 29.9L90.8 97.4L27.5 117.5zM27.5 117.5L28 178.9L91.6 170L90.8 97.4M56.9 108.1L56.1 174.9" fill="none" stroke="#222" stroke-width="0.9"/>
<text transform="translate(29.6 54.1) scale(0.92 1)" font-size="28.5">S</text>
<text transform="translate(14.2 197.9) scale(0.92 1)" font-size="28.5">G1</text>
<text transform="translate(58.4 195.8) scale(0.92 1)" font-size="28.5">G2</text>
<text x="90.8" y="66.2" font-size="23.2">S: 44.3%</text>
<text x="90.8" y="105.8" font-size="23.2">G1: 42.7%</text>
<text x="90.8" y="145" font-size="23.2">G2: 14.3%</text>
<text transform="translate(-7.2 26.5) scale(0.94 1)" font-size="19.3" text-anchor="end">10<tspan dy="-6.95" font-size="11.58">5</tspan></text>
<text transform="translate(-7.2 72) scale(0.94 1)" font-size="19.3" text-anchor="end">10<tspan dy="-6.95" font-size="11.58">4</tspan></text>
<text transform="translate(-7.2 119.2) scale(0.94 1)" font-size="19.3" text-anchor="end">10<tspan dy="-6.95" font-size="11.58">3</tspan></text>
<text transform="translate(-7.2 168.1) scale(0.94 1)" font-size="19.3" text-anchor="end">10<tspan dy="-6.95" font-size="11.58">2</tspan></text>
<text transform="translate(-7.2 209.8) scale(0.94 1)" font-size="19.3" text-anchor="end">0</text>
<text transform="translate(38 224.8) scale(1.13 1)" font-size="17.6" text-anchor="middle">50</text>
<text transform="translate(76.6 224.8) scale(1.13 1)" font-size="17.6" text-anchor="middle">100</text>
</g>
<rect x="1637.3" y="1862.93" width="19.2" height="84.07" fill="#fff" stroke="#000" stroke-width="1.8"/>
<rect x="1660" y="1824.26" width="21" height="122.74" fill="#000"/>
<path d="M1646.9 1873.74V1849.72M1640.9 1849.72h12M1640.9 1873.74h12" stroke="#000" stroke-width="1.8" fill="none"/>
<path d="M1670.5 1824.26V1810.09M1664.5 1810.09h12M1664.5 1824.26h12" stroke="#000" stroke-width="1.8" fill="none"/>
<circle cx="1638.9" cy="1852.12" r="4.8" fill="#000"/>
<circle cx="1651.9" cy="1858.13" r="4.8" fill="#000"/>
<circle cx="1644.9" cy="1876.14" r="4.8" fill="#000"/>
<circle cx="1670.5" cy="1810.09" r="4.3" fill="#fff" stroke="#000" stroke-width="1.8"/>
<circle cx="1679.5" cy="1828.1" r="4.3" fill="#fff" stroke="#000" stroke-width="1.8"/>
<circle cx="1663.5" cy="1832.9" r="4.3" fill="#fff" stroke="#000" stroke-width="1.8"/>
<rect x="1693.45" y="1762.77" width="19.2" height="184.23" fill="#fff" stroke="#000" stroke-width="1.8"/>
<rect x="1716.15" y="1742.35" width="21" height="204.65" fill="#000"/>
<path d="M1703.05 1775.26V1753.64M1697.05 1753.64h12M1697.05 1775.26h12" stroke="#000" stroke-width="1.8" fill="none"/>
<path d="M1726.65 1742.35V1727.22M1720.65 1727.22h12M1720.65 1742.35h12" stroke="#000" stroke-width="1.8" fill="none"/>
<circle cx="1694.05" cy="1754.84" r="4.8" fill="#000"/>
<circle cx="1707.05" cy="1757.24" r="4.8" fill="#000"/>
<circle cx="1700.05" cy="1776.46" r="4.8" fill="#000"/>
<circle cx="1726.65" cy="1727.22" r="4.3" fill="#fff" stroke="#000" stroke-width="1.8"/>
<circle cx="1734.65" cy="1744.03" r="4.3" fill="#fff" stroke="#000" stroke-width="1.8"/>
<circle cx="1720.65" cy="1748.84" r="4.3" fill="#fff" stroke="#000" stroke-width="1.8"/>
<rect x="1749.6" y="1892.95" width="19.2" height="54.05" fill="#fff" stroke="#000" stroke-width="1.8"/>
<rect x="1772.3" y="1867.01" width="21" height="79.99" fill="#000"/>
<path d="M1759.2 1896.56V1886.95M1753.2 1886.95h12M1753.2 1896.56h12" stroke="#000" stroke-width="1.8" fill="none"/>
<path d="M1782.8 1872.54V1861.73M1776.8 1861.73h12M1776.8 1872.54h12" stroke="#000" stroke-width="1.8" fill="none"/>
<circle cx="1752.2" cy="1895.36" r="4.8" fill="#000"/>
<circle cx="1758.2" cy="1886.95" r="4.8" fill="#000"/>
<circle cx="1765.2" cy="1894.16" r="4.8" fill="#000"/>
<circle cx="1775.8" cy="1862.93" r="4.3" fill="#fff" stroke="#000" stroke-width="1.8"/>
<circle cx="1787.8" cy="1865.33" r="4.3" fill="#fff" stroke="#000" stroke-width="1.8"/>
<circle cx="1775.8" cy="1872.54" r="4.3" fill="#fff" stroke="#000" stroke-width="1.8"/>
<rect x="1805.75" y="1906.17" width="19.2" height="40.83" fill="#fff" stroke="#000" stroke-width="1.8"/>
<rect x="1828.45" y="1886.95" width="21" height="60.05" fill="#000"/>
<path d="M1815.35 1908.57V1903.76M1809.35 1903.76h12M1809.35 1908.57h12" stroke="#000" stroke-width="1.8" fill="none"/>
<path d="M1838.95 1894.16V1877.34M1832.95 1877.34h12M1832.95 1894.16h12" stroke="#000" stroke-width="1.8" fill="none"/>
<circle cx="1808.35" cy="1908.57" r="4.8" fill="#000"/>
<circle cx="1814.35" cy="1903.76" r="4.8" fill="#000"/>
<circle cx="1821.35" cy="1906.17" r="4.8" fill="#000"/>
<circle cx="1838.95" cy="1877.34" r="4.3" fill="#fff" stroke="#000" stroke-width="1.8"/>
<circle cx="1832.95" cy="1892.95" r="4.3" fill="#fff" stroke="#000" stroke-width="1.8"/>
<circle cx="1845.95" cy="1890.55" r="4.3" fill="#fff" stroke="#000" stroke-width="1.8"/>
<rect x="1861.9" y="1902.56" width="19.2" height="44.44" fill="#fff" stroke="#000" stroke-width="1.8"/>
<rect x="1884.6" y="1861.01" width="21" height="85.99" fill="#000"/>
<path d="M1871.5 1906.17V1897.76M1865.5 1897.76h12M1865.5 1906.17h12" stroke="#000" stroke-width="1.8" fill="none"/>
<path d="M1895.1 1866.53V1854.52M1889.1 1854.52h12M1889.1 1866.53h12" stroke="#000" stroke-width="1.8" fill="none"/>
<circle cx="1864.5" cy="1906.17" r="4.8" fill="#000"/>
<circle cx="1871.5" cy="1897.76" r="4.8" fill="#000"/>
<circle cx="1877.5" cy="1900.16" r="4.8" fill="#000"/>
<circle cx="1888.1" cy="1866.53" r="4.3" fill="#fff" stroke="#000" stroke-width="1.8"/>
<circle cx="1900.1" cy="1858.13" r="4.3" fill="#fff" stroke="#000" stroke-width="1.8"/>
<circle cx="1895.1" cy="1855.72" r="4.3" fill="#fff" stroke="#000" stroke-width="1.8"/>
<rect x="1918.05" y="1897.76" width="19.2" height="49.24" fill="#fff" stroke="#000" stroke-width="1.8"/>
<rect x="1940.75" y="1846.84" width="21" height="100.16" fill="#000"/>
<path d="M1927.65 1900.16V1892.95M1921.65 1892.95h12M1921.65 1900.16h12" stroke="#000" stroke-width="1.8" fill="none"/>
<path d="M1951.25 1854.52V1840.11M1945.25 1840.11h12M1945.25 1854.52h12" stroke="#000" stroke-width="1.8" fill="none"/>
<circle cx="1920.65" cy="1900.16" r="4.8" fill="#000"/>
<circle cx="1927.65" cy="1894.16" r="4.8" fill="#000"/>
<circle cx="1933.65" cy="1895.36" r="4.8" fill="#000"/>
<circle cx="1944.25" cy="1841.31" r="4.3" fill="#fff" stroke="#000" stroke-width="1.8"/>
<circle cx="1957.25" cy="1844.91" r="4.3" fill="#fff" stroke="#000" stroke-width="1.8"/>
<circle cx="1951.25" cy="1854.52" r="4.3" fill="#fff" stroke="#000" stroke-width="1.8"/>
<path d="M1636.5 1705.9V1947M1626.9 1947H1963M1626.9 1898.96h9.6M1626.9 1850.92h9.6M1626.9 1802.88h9.6M1626.9 1754.84h9.6M1626.9 1706.8h9.6M1658.7 1947v9.6M1714.85 1947v9.6M1771 1947v9.6M1827.15 1947v9.6M1883.3 1947v9.6M1939.45 1947v9.6" stroke="#000" stroke-width="1.9" fill="none"/>
<text x="1623.5" y="1956.4" font-size="27" text-anchor="end">0</text>
<text x="1623.5" y="1908.36" font-size="27" text-anchor="end">20</text>
<text x="1623.5" y="1860.32" font-size="27" text-anchor="end">40</text>
<text x="1623.5" y="1812.28" font-size="27" text-anchor="end">60</text>
<text x="1623.5" y="1764.24" font-size="27" text-anchor="end">80</text>
<text x="1623.5" y="1716.2" font-size="27" text-anchor="end">100</text>
<text font-size="27" text-anchor="middle" transform="translate(1559 1824.5) rotate(-90)">S-phase (%)</text>
<path d="M1644.5 1799.7V1792.2H1672V1799.7" stroke="#000" stroke-width="1.8" fill="none"/>
<text font-size="48.5" stroke="#000" stroke-width="0.5"><tspan x="1650.39" y="1803.88">*</tspan><tspan x="1650.39" y="1786.03">*</tspan><tspan x="1650.39" y="1768.18">*</tspan></text>
<path d="M1871.5 1848.5V1841H1899V1848.5" stroke="#000" stroke-width="1.8" fill="none"/>
<text x="1885.4" y="1854.88" font-size="48.5" text-anchor="middle" letter-spacing="1.2" stroke="#000" stroke-width="0.5">***</text>
<path d="M1925 1833.5V1826H1953V1833.5" stroke="#000" stroke-width="1.8" fill="none"/>
<text x="1941.4" y="1839.88" font-size="48.5" text-anchor="middle" letter-spacing="1.2" stroke="#000" stroke-width="0.5">***</text>
<rect x="1835" y="1652.2" width="36.5" height="18.2" fill="#fff" stroke="#000" stroke-width="1.8"/>
<rect x="1835" y="1698.2" width="36.5" height="18.2" fill="#000" stroke="#000" stroke-width="1.8"/>
<text x="1876.5" y="1670.1" font-size="27.2">A3C<tspan dy="-9.79" font-size="16.32">NC</tspan></text>
<text x="1876.5" y="1716.6" font-size="27.2">A3C<tspan dy="-9.79" font-size="16.32">OE</tspan></text>
<text x="1638" y="1986.3" font-size="27.5" text-anchor="end">GEM (1 <tspan font-style="italic">μ</tspan>M)</text>
<text x="1638" y="2019.6" font-size="27.5" text-anchor="end">AZD (1 <tspan font-style="italic">μ</tspan>M)</text>
<text x="1638" y="2049.8" font-size="27.5" text-anchor="end">MK (10 <tspan font-style="italic">μ</tspan>M)</text>
<text x="1658.7" y="1988" font-size="27.5" text-anchor="middle">-</text>
<text x="1714.85" y="1988" font-size="27.5" text-anchor="middle">+</text>
<text x="1771" y="1988" font-size="27.5" text-anchor="middle">-</text>
<text x="1827.15" y="1988" font-size="27.5" text-anchor="middle">-</text>
<text x="1883.3" y="1988" font-size="27.5" text-anchor="middle">+</text>
<text x="1939.45" y="1988" font-size="27.5" text-anchor="middle">+</text>
<text x="1663.2" y="2021" font-size="27.5" text-anchor="middle">-</text>
<text x="1715.85" y="2021" font-size="27.5" text-anchor="middle">-</text>
<text x="1771.5" y="2021" font-size="27.5" text-anchor="middle">+</text>
<text x="1827.65" y="2021" font-size="27.5" text-anchor="middle">-</text>
<text x="1883.8" y="2021" font-size="27.5" text-anchor="middle">+</text>
<text x="1939.95" y="2021" font-size="27.5" text-anchor="middle">-</text>
<text x="1664.6" y="2051.6" font-size="27.5" text-anchor="middle">-</text>
<text x="1716.75" y="2051.6" font-size="27.5" text-anchor="middle">-</text>
<text x="1771" y="2051.6" font-size="27.5" text-anchor="middle">-</text>
<text x="1826.35" y="2051.6" font-size="27.5" text-anchor="middle">+</text>
<text x="1882.5" y="2051.6" font-size="27.5" text-anchor="middle">-</text>
<text x="1938.15" y="2051.6" font-size="27.5" text-anchor="middle">+</text>
</g>
</svg></body></html>
